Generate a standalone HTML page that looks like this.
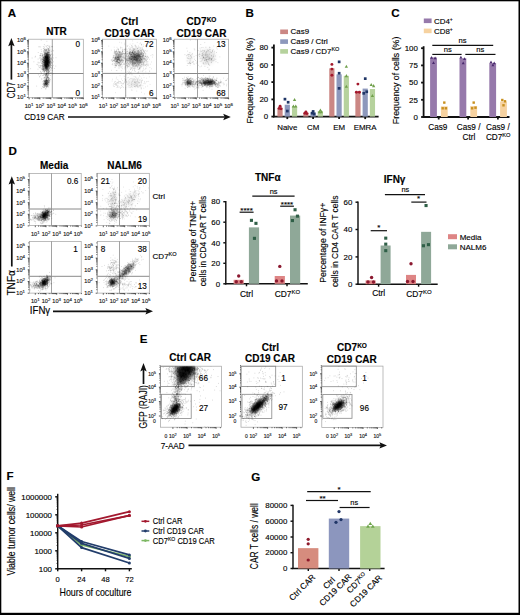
<!DOCTYPE html>
<html><head><meta charset="utf-8"><style>
html,body{margin:0;padding:0;background:#fff;width:520px;height:615px;overflow:hidden}
svg{display:block}
text{stroke:#222;stroke-width:0.15px;paint-order:stroke}
</style></head><body>
<svg width="520" height="615" viewBox="0 0 520 615" font-family='"Liberation Sans", sans-serif'>
<defs><filter id="b8" x="-50%" y="-50%" width="200%" height="200%"><feGaussianBlur stdDeviation="0.8"/></filter><filter id="b9" x="-50%" y="-50%" width="200%" height="200%"><feGaussianBlur stdDeviation="0.9"/></filter><filter id="b10" x="-50%" y="-50%" width="200%" height="200%"><feGaussianBlur stdDeviation="1.0"/></filter><filter id="b11" x="-50%" y="-50%" width="200%" height="200%"><feGaussianBlur stdDeviation="1.1"/></filter><filter id="b12" x="-50%" y="-50%" width="200%" height="200%"><feGaussianBlur stdDeviation="1.2"/></filter><filter id="b13" x="-50%" y="-50%" width="200%" height="200%"><feGaussianBlur stdDeviation="1.3"/></filter><filter id="b14" x="-50%" y="-50%" width="200%" height="200%"><feGaussianBlur stdDeviation="1.4"/></filter><filter id="b15" x="-50%" y="-50%" width="200%" height="200%"><feGaussianBlur stdDeviation="1.5"/></filter><filter id="b18" x="-50%" y="-50%" width="200%" height="200%"><feGaussianBlur stdDeviation="1.8"/></filter><filter id="b20" x="-50%" y="-50%" width="200%" height="200%"><feGaussianBlur stdDeviation="2.0"/></filter><filter id="b25" x="-50%" y="-50%" width="200%" height="200%"><feGaussianBlur stdDeviation="2.5"/></filter></defs>
<rect x="0.00" y="0.00" width="520.00" height="1.30" fill="#000" />
<rect x="0.00" y="0.00" width="1.30" height="615.00" fill="#000" />
<rect x="518.50" y="0.00" width="1.50" height="615.00" fill="#000" />
<rect x="0.00" y="612.80" width="520.00" height="2.20" fill="#000" />
<text x="7.8" y="17.1" font-size="11.6" font-weight="bold" fill="#000" >A</text>
<text x="245.6" y="17.1" font-size="11.6" font-weight="bold" fill="#000" >B</text>
<text x="391.3" y="17.1" font-size="11.6" font-weight="bold" fill="#000" >C</text>
<text x="8.5" y="154.8" font-size="11.6" font-weight="bold" fill="#000" >D</text>
<text x="139.8" y="343.1" font-size="11.6" font-weight="bold" fill="#000" >E</text>
<text x="6.4" y="479.7" font-size="11.6" font-weight="bold" fill="#000" >F</text>
<text x="251.3" y="480.9" font-size="11.6" font-weight="bold" fill="#000" >G</text>
<rect x="28.50" y="39.20" width="54.80" height="58.50" fill="none" stroke="#a0a0a0" stroke-width="0.7" />
<text x="29.1" y="107.6" font-size="5.7" text-anchor="middle" fill="#222" >10<tspan dy="-2.1" font-size="4.4">1</tspan></text>
<text x="39.9" y="107.6" font-size="5.7" text-anchor="middle" fill="#222" >10<tspan dy="-2.1" font-size="4.4">2</tspan></text>
<text x="50.8" y="107.6" font-size="5.7" text-anchor="middle" fill="#222" >10<tspan dy="-2.1" font-size="4.4">3</tspan></text>
<text x="61.6" y="107.6" font-size="5.7" text-anchor="middle" fill="#222" >10<tspan dy="-2.1" font-size="4.4">4</tspan></text>
<text x="72.5" y="107.6" font-size="5.7" text-anchor="middle" fill="#222" >10<tspan dy="-2.1" font-size="4.4">5</tspan></text>
<text x="83.3" y="107.6" font-size="5.7" text-anchor="middle" fill="#222" >10<tspan dy="-2.1" font-size="4.4">6</tspan></text>
<text x="25.9" y="42.3" font-size="5.7" text-anchor="end" fill="#222" >10<tspan dy="-2.1" font-size="4.4">6</tspan></text>
<text x="25.9" y="53.7" font-size="5.7" text-anchor="end" fill="#222" >10<tspan dy="-2.1" font-size="4.4">5</tspan></text>
<text x="25.9" y="65.1" font-size="5.7" text-anchor="end" fill="#222" >10<tspan dy="-2.1" font-size="4.4">4</tspan></text>
<text x="25.9" y="76.5" font-size="5.7" text-anchor="end" fill="#222" >10<tspan dy="-2.1" font-size="4.4">3</tspan></text>
<text x="25.9" y="87.9" font-size="5.7" text-anchor="end" fill="#222" >10<tspan dy="-2.1" font-size="4.4">2</tspan></text>
<text x="25.9" y="99.3" font-size="5.7" text-anchor="end" fill="#222" >10<tspan dy="-2.1" font-size="4.4">1</tspan></text>
<path d="M29.1 97.7v1.6M32.4 97.7v1.0M34.3 97.7v1.0M35.6 97.7v1.0M36.7 97.7v1.0M37.5 97.7v1.0M38.3 97.7v1.0M38.9 97.7v1.0M39.4 97.7v1.0M39.9 97.7v1.6M43.2 97.7v1.0M45.1 97.7v1.0M46.5 97.7v1.0M47.5 97.7v1.0M48.4 97.7v1.0M49.1 97.7v1.0M49.7 97.7v1.0M50.3 97.7v1.0M50.8 97.7v1.6M54.0 97.7v1.0M56.0 97.7v1.0M57.3 97.7v1.0M58.4 97.7v1.0M59.2 97.7v1.0M59.9 97.7v1.0M60.6 97.7v1.0M61.1 97.7v1.0M61.6 97.7v1.6M64.9 97.7v1.0M66.8 97.7v1.0M68.1 97.7v1.0M69.2 97.7v1.0M70.1 97.7v1.0M70.8 97.7v1.0M71.4 97.7v1.0M72.0 97.7v1.0M72.5 97.7v1.6M75.7 97.7v1.0M77.6 97.7v1.0M79.0 97.7v1.0M80.0 97.7v1.0M80.9 97.7v1.0M81.6 97.7v1.0M82.2 97.7v1.0M82.8 97.7v1.0M83.3 97.7v1.6" stroke="#333" stroke-width="0.8"/>
<path d="M28.5 40.4h-1.6M28.5 51.8h-1.6M28.5 48.4h-1.0M28.5 46.4h-1.0M28.5 44.9h-1.0M28.5 43.8h-1.0M28.5 42.9h-1.0M28.5 42.2h-1.0M28.5 41.5h-1.0M28.5 40.9h-1.0M28.5 63.2h-1.6M28.5 59.8h-1.0M28.5 57.8h-1.0M28.5 56.3h-1.0M28.5 55.2h-1.0M28.5 54.3h-1.0M28.5 53.6h-1.0M28.5 52.9h-1.0M28.5 52.3h-1.0M28.5 74.6h-1.6M28.5 71.2h-1.0M28.5 69.2h-1.0M28.5 67.7h-1.0M28.5 66.6h-1.0M28.5 65.7h-1.0M28.5 65.0h-1.0M28.5 64.3h-1.0M28.5 63.7h-1.0M28.5 86.0h-1.6M28.5 82.6h-1.0M28.5 80.6h-1.0M28.5 79.1h-1.0M28.5 78.0h-1.0M28.5 77.1h-1.0M28.5 76.4h-1.0M28.5 75.7h-1.0M28.5 75.1h-1.0M28.5 97.4h-1.6M28.5 94.0h-1.0M28.5 92.0h-1.0M28.5 90.5h-1.0M28.5 89.4h-1.0M28.5 88.5h-1.0M28.5 87.8h-1.0M28.5 87.1h-1.0M28.5 86.5h-1.0" stroke="#333" stroke-width="0.8"/>
<line x1="52.3" y1="39.2" x2="52.3" y2="97.7" stroke="#8a8a8a" stroke-width="0.8" />
<line x1="28.5" y1="73.5" x2="83.3" y2="73.5" stroke="#8a8a8a" stroke-width="1.0" />
<rect x="102.60" y="39.20" width="54.00" height="58.50" fill="none" stroke="#a0a0a0" stroke-width="0.7" />
<text x="103.2" y="107.6" font-size="5.7" text-anchor="middle" fill="#222" >10<tspan dy="-2.1" font-size="4.4">1</tspan></text>
<text x="113.9" y="107.6" font-size="5.7" text-anchor="middle" fill="#222" >10<tspan dy="-2.1" font-size="4.4">2</tspan></text>
<text x="124.6" y="107.6" font-size="5.7" text-anchor="middle" fill="#222" >10<tspan dy="-2.1" font-size="4.4">3</tspan></text>
<text x="135.2" y="107.6" font-size="5.7" text-anchor="middle" fill="#222" >10<tspan dy="-2.1" font-size="4.4">4</tspan></text>
<text x="145.9" y="107.6" font-size="5.7" text-anchor="middle" fill="#222" >10<tspan dy="-2.1" font-size="4.4">5</tspan></text>
<text x="156.6" y="107.6" font-size="5.7" text-anchor="middle" fill="#222" >10<tspan dy="-2.1" font-size="4.4">6</tspan></text>
<text x="100.0" y="42.3" font-size="5.7" text-anchor="end" fill="#222" >10<tspan dy="-2.1" font-size="4.4">6</tspan></text>
<text x="100.0" y="53.7" font-size="5.7" text-anchor="end" fill="#222" >10<tspan dy="-2.1" font-size="4.4">5</tspan></text>
<text x="100.0" y="65.1" font-size="5.7" text-anchor="end" fill="#222" >10<tspan dy="-2.1" font-size="4.4">4</tspan></text>
<text x="100.0" y="76.5" font-size="5.7" text-anchor="end" fill="#222" >10<tspan dy="-2.1" font-size="4.4">3</tspan></text>
<text x="100.0" y="87.9" font-size="5.7" text-anchor="end" fill="#222" >10<tspan dy="-2.1" font-size="4.4">2</tspan></text>
<text x="100.0" y="99.3" font-size="5.7" text-anchor="end" fill="#222" >10<tspan dy="-2.1" font-size="4.4">1</tspan></text>
<path d="M103.2 97.7v1.6M106.4 97.7v1.0M108.3 97.7v1.0M109.6 97.7v1.0M110.7 97.7v1.0M111.5 97.7v1.0M112.2 97.7v1.0M112.8 97.7v1.0M113.4 97.7v1.0M113.9 97.7v1.6M117.1 97.7v1.0M119.0 97.7v1.0M120.3 97.7v1.0M121.3 97.7v1.0M122.2 97.7v1.0M122.9 97.7v1.0M123.5 97.7v1.0M124.1 97.7v1.0M124.6 97.7v1.6M127.8 97.7v1.0M129.7 97.7v1.0M131.0 97.7v1.0M132.0 97.7v1.0M132.9 97.7v1.0M133.6 97.7v1.0M134.2 97.7v1.0M134.8 97.7v1.0M135.2 97.7v1.6M138.5 97.7v1.0M140.3 97.7v1.0M141.7 97.7v1.0M142.7 97.7v1.0M143.6 97.7v1.0M144.3 97.7v1.0M144.9 97.7v1.0M145.4 97.7v1.0M145.9 97.7v1.6M149.1 97.7v1.0M151.0 97.7v1.0M152.4 97.7v1.0M153.4 97.7v1.0M154.2 97.7v1.0M154.9 97.7v1.0M155.6 97.7v1.0M156.1 97.7v1.0M156.6 97.7v1.6" stroke="#333" stroke-width="0.8"/>
<path d="M102.6 40.4h-1.6M102.6 51.8h-1.6M102.6 48.4h-1.0M102.6 46.4h-1.0M102.6 44.9h-1.0M102.6 43.8h-1.0M102.6 42.9h-1.0M102.6 42.2h-1.0M102.6 41.5h-1.0M102.6 40.9h-1.0M102.6 63.2h-1.6M102.6 59.8h-1.0M102.6 57.8h-1.0M102.6 56.3h-1.0M102.6 55.2h-1.0M102.6 54.3h-1.0M102.6 53.6h-1.0M102.6 52.9h-1.0M102.6 52.3h-1.0M102.6 74.6h-1.6M102.6 71.2h-1.0M102.6 69.2h-1.0M102.6 67.7h-1.0M102.6 66.6h-1.0M102.6 65.7h-1.0M102.6 65.0h-1.0M102.6 64.3h-1.0M102.6 63.7h-1.0M102.6 86.0h-1.6M102.6 82.6h-1.0M102.6 80.6h-1.0M102.6 79.1h-1.0M102.6 78.0h-1.0M102.6 77.1h-1.0M102.6 76.4h-1.0M102.6 75.7h-1.0M102.6 75.1h-1.0M102.6 97.4h-1.6M102.6 94.0h-1.0M102.6 92.0h-1.0M102.6 90.5h-1.0M102.6 89.4h-1.0M102.6 88.5h-1.0M102.6 87.8h-1.0M102.6 87.1h-1.0M102.6 86.5h-1.0" stroke="#333" stroke-width="0.8"/>
<line x1="125.7" y1="39.2" x2="125.7" y2="97.7" stroke="#8a8a8a" stroke-width="0.8" />
<line x1="102.6" y1="73.4" x2="156.6" y2="73.4" stroke="#8a8a8a" stroke-width="1.0" />
<rect x="174.20" y="39.20" width="54.40" height="58.50" fill="none" stroke="#a0a0a0" stroke-width="0.7" />
<text x="174.8" y="107.6" font-size="5.7" text-anchor="middle" fill="#222" >10<tspan dy="-2.1" font-size="4.4">1</tspan></text>
<text x="185.6" y="107.6" font-size="5.7" text-anchor="middle" fill="#222" >10<tspan dy="-2.1" font-size="4.4">2</tspan></text>
<text x="196.3" y="107.6" font-size="5.7" text-anchor="middle" fill="#222" >10<tspan dy="-2.1" font-size="4.4">3</tspan></text>
<text x="207.1" y="107.6" font-size="5.7" text-anchor="middle" fill="#222" >10<tspan dy="-2.1" font-size="4.4">4</tspan></text>
<text x="217.8" y="107.6" font-size="5.7" text-anchor="middle" fill="#222" >10<tspan dy="-2.1" font-size="4.4">5</tspan></text>
<text x="228.6" y="107.6" font-size="5.7" text-anchor="middle" fill="#222" >10<tspan dy="-2.1" font-size="4.4">6</tspan></text>
<text x="171.6" y="42.3" font-size="5.7" text-anchor="end" fill="#222" >10<tspan dy="-2.1" font-size="4.4">6</tspan></text>
<text x="171.6" y="53.7" font-size="5.7" text-anchor="end" fill="#222" >10<tspan dy="-2.1" font-size="4.4">5</tspan></text>
<text x="171.6" y="65.1" font-size="5.7" text-anchor="end" fill="#222" >10<tspan dy="-2.1" font-size="4.4">4</tspan></text>
<text x="171.6" y="76.5" font-size="5.7" text-anchor="end" fill="#222" >10<tspan dy="-2.1" font-size="4.4">3</tspan></text>
<text x="171.6" y="87.9" font-size="5.7" text-anchor="end" fill="#222" >10<tspan dy="-2.1" font-size="4.4">2</tspan></text>
<text x="171.6" y="99.3" font-size="5.7" text-anchor="end" fill="#222" >10<tspan dy="-2.1" font-size="4.4">1</tspan></text>
<path d="M174.8 97.7v1.6M178.0 97.7v1.0M179.9 97.7v1.0M181.3 97.7v1.0M182.3 97.7v1.0M183.2 97.7v1.0M183.9 97.7v1.0M184.5 97.7v1.0M185.1 97.7v1.0M185.6 97.7v1.6M188.8 97.7v1.0M190.7 97.7v1.0M192.0 97.7v1.0M193.1 97.7v1.0M193.9 97.7v1.0M194.7 97.7v1.0M195.3 97.7v1.0M195.8 97.7v1.0M196.3 97.7v1.6M199.6 97.7v1.0M201.5 97.7v1.0M202.8 97.7v1.0M203.8 97.7v1.0M204.7 97.7v1.0M205.4 97.7v1.0M206.0 97.7v1.0M206.6 97.7v1.0M207.1 97.7v1.6M210.3 97.7v1.0M212.2 97.7v1.0M213.6 97.7v1.0M214.6 97.7v1.0M215.5 97.7v1.0M216.2 97.7v1.0M216.8 97.7v1.0M217.3 97.7v1.0M217.8 97.7v1.6M221.1 97.7v1.0M223.0 97.7v1.0M224.3 97.7v1.0M225.4 97.7v1.0M226.2 97.7v1.0M226.9 97.7v1.0M227.6 97.7v1.0M228.1 97.7v1.0M228.6 97.7v1.6" stroke="#333" stroke-width="0.8"/>
<path d="M174.2 40.4h-1.6M174.2 51.8h-1.6M174.2 48.4h-1.0M174.2 46.4h-1.0M174.2 44.9h-1.0M174.2 43.8h-1.0M174.2 42.9h-1.0M174.2 42.2h-1.0M174.2 41.5h-1.0M174.2 40.9h-1.0M174.2 63.2h-1.6M174.2 59.8h-1.0M174.2 57.8h-1.0M174.2 56.3h-1.0M174.2 55.2h-1.0M174.2 54.3h-1.0M174.2 53.6h-1.0M174.2 52.9h-1.0M174.2 52.3h-1.0M174.2 74.6h-1.6M174.2 71.2h-1.0M174.2 69.2h-1.0M174.2 67.7h-1.0M174.2 66.6h-1.0M174.2 65.7h-1.0M174.2 65.0h-1.0M174.2 64.3h-1.0M174.2 63.7h-1.0M174.2 86.0h-1.6M174.2 82.6h-1.0M174.2 80.6h-1.0M174.2 79.1h-1.0M174.2 78.0h-1.0M174.2 77.1h-1.0M174.2 76.4h-1.0M174.2 75.7h-1.0M174.2 75.1h-1.0M174.2 97.4h-1.6M174.2 94.0h-1.0M174.2 92.0h-1.0M174.2 90.5h-1.0M174.2 89.4h-1.0M174.2 88.5h-1.0M174.2 87.8h-1.0M174.2 87.1h-1.0M174.2 86.5h-1.0" stroke="#333" stroke-width="0.8"/>
<line x1="197.5" y1="39.2" x2="197.5" y2="97.7" stroke="#8a8a8a" stroke-width="0.8" />
<line x1="174.2" y1="73.5" x2="228.6" y2="73.5" stroke="#8a8a8a" stroke-width="1.0" />
<text x="77.7" y="46.7" font-size="8.2" text-anchor="middle" >0</text>
<text x="77.7" y="95.6" font-size="8.2" text-anchor="middle" >0</text>
<text x="153.6" y="46.7" font-size="8.2" text-anchor="end" >72</text>
<text x="153.6" y="95.6" font-size="8.2" text-anchor="end" >6</text>
<text x="225.6" y="46.7" font-size="8.2" text-anchor="end" >13</text>
<text x="225.6" y="95.6" font-size="8.2" text-anchor="end" >68</text>
<text x="56.5" y="34.6" font-size="10" font-weight="bold" text-anchor="middle" >NTR</text>
<text x="129.6" y="24.6" font-size="10" font-weight="bold" text-anchor="middle" >Ctrl</text>
<text x="129.6" y="37.0" font-size="10" font-weight="bold" text-anchor="middle" >CD19 CAR</text>
<text x="201.5" y="25.4" font-size="10" font-weight="bold" text-anchor="middle" >CD7<tspan dy="-3.6" font-size="6.5">KO</tspan></text>
<text x="201.5" y="37.0" font-size="10" font-weight="bold" text-anchor="middle" >CD19 CAR</text>
<text x="24.2" y="120.0" font-size="9.3" textLength="40.4" lengthAdjust="spacingAndGlyphs" >CD19 CAR</text>
<line x1="68.0" y1="117.0" x2="224.8" y2="117.0" stroke="#111" stroke-width="1.7" />
<path d="M230.8 117.0L223.2 113.8L224.6 117.0L223.2 120.2z" fill="#111"/>
<text x="14.8" y="98.3" font-size="10.3" textLength="16.2" lengthAdjust="spacingAndGlyphs" transform="rotate(-90 14.8 98.3)" >CD7</text>
<line x1="11.4" y1="79.6" x2="11.4" y2="43.9" stroke="#111" stroke-width="1.7" />
<path d="M11.4 37.9L14.6 46.3L11.4 44.7L8.2 46.3z" fill="#111"/>
<ellipse cx="46.7" cy="61.3" rx="2.2" ry="8.6" transform="rotate(3 46.7 61.3)" fill="#000" fill-opacity="0.95" filter="url(#b13)"/>
<ellipse cx="46.2" cy="82.8" rx="1.5" ry="3.2" transform="rotate(15 46.2 82.8)" fill="#000" fill-opacity="0.6" filter="url(#b10)"/>
<path d="M47.6 68.4h0M45.3 56.4h0M45.8 56.6h0M43.4 60.4h0M46.2 66.4h0M47.6 60.8h0M46.0 70.2h0M41.8 59.4h0M36.9 64.4h0M49.1 65.7h0M46.0 65.2h0M44.1 56.8h0M43.8 87.5h0M47.3 62.4h0M40.3 67.9h0M43.9 58.0h0M46.3 82.4h0M43.5 63.7h0M48.9 50.1h0M49.1 50.9h0M42.1 67.3h0M49.4 68.0h0M44.1 83.4h0M45.3 75.0h0M46.5 66.5h0M46.8 59.8h0M45.6 57.9h0M48.4 72.0h0M38.1 59.1h0M46.8 80.6h0M46.8 55.0h0M47.1 60.5h0M46.5 64.2h0M48.8 71.3h0M45.5 61.9h0M48.9 58.1h0M48.1 72.2h0M47.2 63.1h0M47.5 72.3h0M51.0 67.6h0M45.5 64.9h0M51.0 58.3h0M44.9 64.2h0M48.7 52.7h0M42.8 84.3h0M43.1 59.5h0M44.7 71.2h0M42.4 59.2h0M45.8 63.5h0M44.1 87.6h0M47.4 53.8h0M46.4 73.9h0M48.1 66.8h0M46.3 83.3h0M50.6 61.8h0M45.0 64.9h0M44.7 81.6h0M46.9 58.6h0M49.1 71.9h0M44.8 66.1h0M47.9 72.3h0M42.6 57.4h0M46.5 64.8h0M43.8 80.6h0M44.4 84.3h0M44.7 60.0h0M49.4 62.1h0M46.6 64.6h0M47.5 64.4h0M36.7 86.1h0M48.8 58.0h0M45.8 56.6h0M47.8 65.5h0M43.5 59.9h0M42.4 69.4h0M45.9 73.8h0M45.0 77.1h0M43.1 59.1h0M45.7 66.3h0M41.2 40.2h0M49.7 64.8h0M44.6 81.7h0M46.9 83.8h0M43.5 84.4h0M49.9 45.9h0M47.0 59.0h0M48.0 57.6h0M46.4 86.3h0M46.7 62.9h0M49.5 53.0h0M42.9 64.1h0M49.6 68.2h0M45.8 83.1h0M45.6 84.2h0M48.5 66.1h0M42.1 63.3h0M47.7 66.6h0M45.0 52.6h0M46.1 55.6h0M50.2 69.8h0M49.6 61.0h0M47.9 64.2h0M51.5 46.7h0M45.5 53.4h0M44.2 63.4h0M47.9 66.9h0M46.7 62.7h0M49.2 63.4h0M43.9 62.6h0M53.6 61.8h0M47.0 85.6h0M46.6 62.3h0M45.2 63.2h0M44.8 54.4h0M47.2 52.8h0M47.4 83.4h0M35.6 56.3h0M53.0 73.8h0M44.7 60.5h0M48.9 61.5h0M48.9 74.7h0M47.6 68.3h0M45.5 81.2h0M42.2 65.6h0M47.4 62.9h0M50.6 64.5h0M46.4 66.6h0M49.2 60.6h0M47.8 60.5h0M47.5 58.1h0M49.2 64.4h0M38.2 52.5h0M49.6 60.2h0M46.0 66.4h0M46.6 64.3h0M48.8 57.0h0M48.4 59.8h0M44.6 50.3h0M47.2 77.5h0M45.9 81.8h0M49.1 59.7h0M45.4 63.9h0M46.4 55.2h0M45.5 64.2h0M45.3 68.2h0M43.6 68.4h0M48.7 70.0h0M48.3 53.5h0M46.3 66.8h0M46.6 74.4h0M47.6 77.1h0M44.6 49.0h0M44.9 58.9h0M50.5 58.4h0M45.5 57.3h0M38.0 69.2h0M45.1 63.8h0M47.5 63.3h0M44.4 53.1h0M44.9 80.4h0M46.3 68.8h0M47.9 60.4h0M47.6 57.3h0M47.1 65.9h0M46.6 63.4h0M47.9 62.1h0M48.9 60.4h0M44.0 61.1h0M45.8 65.5h0M47.7 66.3h0M47.3 75.5h0M44.9 65.5h0M45.6 64.1h0M42.6 67.8h0M52.0 62.6h0M45.7 61.7h0M46.1 54.9h0M49.3 63.0h0M38.3 74.8h0M48.1 48.7h0M48.7 49.9h0M48.1 52.7h0M42.6 63.2h0M47.3 76.6h0M47.1 66.1h0M45.1 61.3h0M44.0 80.8h0M45.9 77.8h0M51.4 59.3h0M51.0 63.4h0M46.2 61.0h0M46.1 84.0h0M47.2 65.1h0M48.8 59.9h0M45.9 64.6h0M45.1 60.5h0M46.5 78.7h0M51.5 58.3h0M52.0 53.9h0M45.4 68.6h0M46.7 86.3h0M43.3 67.2h0M47.0 69.7h0M50.3 64.0h0M43.3 83.6h0M50.4 61.6h0M45.9 61.3h0M49.2 61.6h0M48.7 80.8h0M46.8 59.5h0M47.2 81.4h0M50.2 55.7h0M43.9 66.8h0M49.9 59.9h0M45.7 62.1h0M44.0 77.8h0M44.5 74.9h0M43.7 56.8h0M46.9 81.2h0M48.4 79.8h0M42.4 65.8h0M46.3 80.6h0M50.0 65.1h0M45.8 85.2h0M45.0 56.7h0M42.8 61.6h0M48.3 69.0h0M45.9 51.6h0M47.4 58.1h0" stroke="#000" stroke-opacity="0.22" stroke-width="0.8" stroke-linecap="round" fill="none"/>
<path d="M49.7 52.5h0M46.6 53.1h0M48.1 54.3h0M44.9 62.6h0M45.8 82.2h0M47.1 73.4h0M49.0 63.4h0M43.3 70.5h0M45.9 64.9h0M46.8 76.1h0M45.0 54.9h0M46.4 68.9h0M46.6 79.9h0M47.3 81.7h0M47.4 86.0h0M48.2 60.5h0M48.9 75.4h0M45.6 80.2h0M33.9 61.8h0M47.3 63.6h0M43.7 62.8h0M47.0 83.7h0M47.3 48.9h0M48.8 65.9h0M44.7 59.1h0M45.1 46.0h0M46.8 54.0h0M47.4 58.0h0M45.4 62.9h0M43.6 82.2h0M48.3 82.0h0M47.5 58.7h0M47.9 65.4h0M43.0 65.0h0M51.7 59.9h0M52.7 66.8h0M47.7 63.8h0M42.7 81.7h0M48.1 55.1h0M45.6 61.9h0M46.0 73.9h0M43.5 68.3h0M44.6 86.2h0M45.6 67.4h0M46.7 56.6h0M45.4 66.5h0M50.7 67.5h0M49.9 47.7h0M43.4 57.2h0M48.5 61.1h0M47.1 65.9h0M48.6 74.0h0M49.4 80.9h0M46.2 54.8h0M49.4 58.8h0M48.9 62.9h0M49.1 62.1h0M42.2 56.7h0M44.0 84.1h0M48.9 58.3h0M46.5 49.5h0M48.0 55.8h0M43.6 57.2h0M44.2 60.7h0M39.2 67.4h0M47.0 60.6h0M47.7 64.5h0M47.9 82.8h0M43.3 64.7h0M48.2 61.4h0M46.8 81.7h0M45.3 57.1h0M53.4 50.8h0M48.6 70.7h0M45.5 54.1h0M45.6 75.2h0M41.8 56.0h0M48.3 64.8h0M48.1 64.8h0M46.8 51.3h0M41.8 59.3h0M45.3 65.4h0M47.6 57.3h0M45.2 53.1h0M45.1 63.4h0M42.4 86.5h0M46.4 62.2h0M48.0 81.7h0M46.9 64.6h0M48.6 82.6h0M45.4 80.9h0M43.1 61.9h0M49.4 62.0h0M44.6 55.2h0M42.9 68.5h0M43.1 67.8h0M46.5 69.0h0M47.6 66.8h0M48.1 73.9h0M47.7 61.2h0M45.5 83.7h0M41.8 58.8h0M44.9 81.8h0M45.6 61.7h0M47.5 59.8h0M48.9 54.9h0M48.3 58.6h0M47.7 76.9h0M48.4 62.9h0M45.6 65.0h0M49.1 62.3h0M51.5 51.3h0M44.1 84.7h0M50.1 49.7h0M47.7 80.6h0M47.6 63.5h0M47.8 57.0h0M46.9 62.8h0M45.8 55.7h0M46.6 79.3h0M43.6 60.5h0M48.3 50.6h0M45.3 62.6h0M48.0 63.2h0M45.6 75.1h0M45.0 65.9h0M47.8 82.9h0M48.8 61.9h0M42.1 56.0h0M43.0 66.7h0M46.7 84.6h0M46.1 57.0h0M45.4 57.0h0M49.6 57.3h0M50.2 57.8h0M50.2 58.1h0M43.6 69.2h0M48.5 64.8h0M48.5 65.7h0M44.3 70.2h0M46.2 67.3h0M46.7 64.0h0M43.3 68.3h0M48.4 84.5h0M48.2 64.7h0M50.2 61.6h0M43.2 65.9h0M48.8 61.5h0M44.2 62.6h0M47.2 60.5h0M44.0 87.3h0M47.3 74.9h0M49.0 85.2h0M48.1 64.9h0M40.3 71.4h0M43.7 58.2h0M40.3 55.4h0M46.5 67.9h0M45.6 80.4h0M46.7 87.0h0M42.8 70.4h0M48.2 60.5h0M49.5 57.2h0M44.2 51.3h0M46.5 63.1h0M42.1 60.1h0M47.4 61.8h0M46.2 69.1h0M44.9 53.3h0M40.2 57.4h0M50.5 75.6h0M43.4 61.2h0M44.9 64.0h0M48.1 63.3h0M49.5 57.7h0M50.6 63.0h0M44.1 58.7h0M48.1 65.8h0M49.6 73.8h0M48.4 71.2h0M46.3 75.7h0M46.6 84.2h0M46.7 68.2h0M43.6 60.8h0M42.1 58.0h0M46.6 84.5h0M45.0 65.4h0M48.3 55.8h0M50.0 57.4h0M49.3 58.9h0M48.7 73.3h0M50.1 62.8h0M48.3 62.0h0M43.2 59.3h0M43.9 63.1h0M40.5 75.3h0M46.3 80.1h0M43.4 66.5h0M46.5 60.3h0M52.1 65.2h0M43.3 69.1h0M48.6 75.4h0M50.8 51.9h0M47.1 62.8h0M46.5 65.6h0M46.5 59.6h0M46.2 65.5h0M45.8 65.8h0M45.9 56.6h0M49.5 56.9h0M45.4 83.2h0M45.7 65.8h0M47.7 60.3h0M47.2 53.0h0M43.9 68.8h0M39.7 62.8h0M48.3 55.2h0M50.6 60.5h0M45.2 63.6h0M39.9 67.6h0M46.1 61.2h0M48.6 65.3h0M44.0 64.9h0M45.4 62.5h0M38.8 66.1h0M46.9 41.3h0M46.1 67.1h0M45.3 60.3h0M46.9 84.3h0" stroke="#000" stroke-opacity="0.22" stroke-width="0.8" stroke-linecap="round" fill="none"/>
<path d="M48.2 72.6h0M48.6 63.5h0M45.9 55.4h0M45.1 61.0h0M51.5 65.5h0M46.1 59.8h0M47.7 64.4h0M45.2 61.1h0M46.7 57.8h0M45.6 80.9h0M48.6 60.5h0M51.8 68.9h0M49.9 60.4h0M49.2 50.3h0M46.0 81.1h0M46.5 65.9h0M46.7 57.4h0M46.5 61.6h0M46.1 57.8h0M46.7 72.0h0M48.0 61.4h0M44.5 82.0h0M46.8 60.3h0M46.9 65.7h0M48.6 83.9h0M47.9 62.9h0M49.5 52.8h0M47.2 50.1h0M46.3 83.3h0M43.8 81.0h0M46.9 86.4h0M43.0 69.4h0M48.6 48.4h0M46.7 80.4h0M49.7 66.3h0M43.5 85.7h0M47.3 69.1h0M47.0 67.3h0M46.1 74.6h0M49.8 66.4h0M43.9 83.6h0M47.2 84.0h0M46.2 59.5h0M44.2 64.1h0M47.4 59.4h0M46.8 50.7h0M48.0 45.4h0M49.2 68.9h0M50.3 64.0h0M48.9 68.7h0M45.3 61.2h0M50.4 61.7h0M45.3 84.9h0M46.9 71.6h0M46.9 65.7h0M55.8 66.1h0M44.2 63.0h0M49.8 48.4h0M46.2 65.2h0M48.6 54.5h0M50.8 56.6h0M46.3 77.7h0M43.1 66.5h0M46.8 80.4h0M45.8 57.8h0M44.6 57.5h0M43.5 71.2h0M44.9 52.7h0M49.7 65.6h0M49.5 70.8h0M46.4 66.1h0M42.9 61.1h0M46.4 62.3h0M46.3 53.3h0M48.0 56.2h0M47.6 57.5h0M52.2 57.7h0M51.6 72.7h0M48.8 78.9h0M44.7 58.1h0M44.0 78.2h0M46.6 84.8h0M46.3 57.8h0M43.9 86.4h0M45.8 62.7h0M46.1 61.1h0M47.6 76.2h0M49.2 64.0h0M51.6 54.4h0M48.1 81.9h0M45.6 83.9h0M41.8 78.7h0M44.8 61.0h0M41.4 65.9h0M47.7 54.5h0M47.2 55.0h0M48.5 67.4h0M45.3 62.2h0M46.4 64.3h0M38.2 63.0h0M43.4 62.5h0M41.0 60.6h0M44.8 67.1h0M46.3 58.1h0M47.4 55.7h0M48.5 65.5h0M46.8 59.7h0M49.3 59.9h0M40.8 53.7h0M44.8 56.3h0M45.2 73.5h0M46.2 68.1h0M45.9 82.9h0M48.8 52.4h0M46.6 74.3h0M49.2 64.5h0M43.5 57.4h0M48.3 74.0h0M40.7 66.3h0M40.5 59.5h0M47.3 84.4h0M48.2 58.6h0M37.8 64.8h0M51.4 62.0h0M45.9 56.7h0M43.3 46.5h0M46.7 80.5h0M40.5 55.7h0M46.0 65.3h0M45.7 66.7h0M49.3 62.5h0M44.9 87.0h0M47.4 70.5h0M47.6 83.4h0M47.3 67.5h0M48.3 49.3h0M49.9 50.6h0M46.6 65.7h0M46.9 65.9h0M45.6 56.9h0M48.8 58.8h0M47.3 73.5h0M43.9 71.0h0M47.4 57.0h0M46.4 64.3h0M46.3 63.8h0M42.8 54.6h0M48.4 79.8h0M52.2 73.3h0M46.0 53.6h0M45.9 63.9h0M46.4 76.2h0M50.0 63.8h0M44.1 54.8h0M39.1 65.7h0M47.9 59.6h0M44.8 62.7h0M47.9 60.2h0M47.9 60.5h0M51.9 59.7h0M49.0 57.4h0M48.7 66.0h0M46.6 74.4h0M47.8 75.3h0M48.4 62.2h0M42.1 68.6h0M48.0 59.0h0M42.5 66.0h0M48.6 64.5h0M48.4 60.0h0M44.0 59.7h0M46.7 82.7h0M45.7 60.3h0M46.8 55.1h0M46.3 80.2h0M46.3 59.4h0M50.2 56.0h0M49.0 56.6h0M45.9 80.0h0M47.3 64.1h0M46.4 65.5h0M48.9 84.0h0M41.4 62.9h0M49.4 65.3h0M50.2 55.8h0M49.1 81.3h0M48.7 49.4h0M47.1 63.8h0M45.5 60.7h0M46.1 78.8h0M40.7 65.9h0M44.5 71.4h0M42.3 71.4h0M47.6 63.9h0M41.8 60.9h0M48.9 62.6h0M47.8 54.3h0M47.9 57.3h0M47.7 64.5h0M44.6 53.6h0M46.5 66.0h0M47.9 54.0h0M46.2 59.5h0M46.9 63.7h0M44.0 72.5h0M47.2 76.2h0M42.5 62.3h0M46.4 78.0h0M47.9 82.4h0M47.9 52.4h0M46.7 82.7h0M44.7 81.8h0M50.0 63.3h0M44.6 85.8h0M42.6 61.5h0M44.7 62.7h0M48.6 78.9h0M47.7 60.4h0M48.3 59.2h0M45.1 56.3h0M45.6 66.2h0M48.1 68.6h0M49.8 62.1h0M50.9 62.0h0M45.8 64.0h0M44.5 83.5h0M41.3 72.5h0M47.8 60.0h0" stroke="#000" stroke-opacity="0.22" stroke-width="0.8" stroke-linecap="round" fill="none"/>
<path d="M49.8 54.4h0M47.6 51.3h0M46.1 76.3h0M48.0 60.5h0M48.5 65.1h0M48.3 52.4h0M50.6 79.7h0M48.0 62.2h0M46.5 84.8h0M43.2 59.2h0M46.4 82.6h0M46.3 71.3h0M45.2 57.3h0M47.7 57.1h0M45.9 50.4h0M47.7 64.2h0M46.3 83.2h0M46.9 60.9h0M48.9 46.4h0M46.5 79.3h0M42.4 61.3h0M45.2 70.3h0M48.5 56.7h0M49.9 67.7h0M45.0 64.5h0M48.4 62.6h0M48.0 56.7h0M50.0 69.1h0M52.3 73.7h0M48.0 54.9h0M46.7 62.9h0M43.5 48.8h0M48.6 62.0h0M45.7 53.1h0M43.7 69.6h0M47.9 58.3h0M46.0 61.1h0M49.8 63.6h0M45.1 68.8h0M45.8 88.5h0M46.8 56.9h0M45.2 65.7h0M44.7 54.7h0M41.8 79.3h0M48.1 70.0h0M47.0 54.8h0M46.6 67.7h0M46.6 71.3h0M48.0 62.8h0M42.5 61.4h0M46.7 64.5h0M49.1 83.0h0M47.2 74.0h0M49.7 68.0h0M51.6 58.1h0M46.0 52.3h0M44.3 60.5h0M41.2 61.8h0M46.1 83.4h0M48.9 66.4h0M46.8 67.3h0M46.0 60.6h0M46.9 56.1h0M45.6 65.2h0M49.9 64.6h0M45.5 62.2h0M45.2 58.1h0M48.2 66.0h0M45.4 66.8h0M50.1 54.4h0M47.8 57.1h0M47.4 69.8h0M45.9 59.1h0M46.9 64.8h0M42.6 62.8h0M48.2 53.7h0M50.1 59.3h0M48.6 59.2h0M49.7 79.5h0M46.1 83.6h0M48.0 59.8h0M46.8 56.2h0M48.2 59.6h0M41.6 73.6h0M50.9 65.2h0M46.8 59.6h0M45.2 57.1h0M49.3 65.8h0M47.5 64.9h0M47.4 78.2h0M43.4 58.8h0M45.8 74.7h0M48.9 78.8h0M47.1 74.0h0M47.0 62.4h0M40.3 53.9h0M50.3 55.6h0M49.9 81.0h0M46.9 59.6h0M40.7 72.0h0M49.6 62.9h0M48.9 51.7h0M48.0 62.6h0M43.8 69.5h0M49.9 77.9h0M44.1 64.6h0M44.4 71.7h0M44.2 64.8h0M42.7 64.6h0M47.6 64.4h0M44.7 70.8h0M50.0 67.1h0M50.8 70.4h0M44.7 54.9h0M40.6 55.8h0M48.3 52.2h0M50.1 55.5h0M48.6 51.2h0M46.8 67.1h0M41.7 88.6h0M47.3 58.4h0M45.5 70.3h0M47.6 62.4h0M46.3 58.7h0M40.8 60.4h0M42.5 55.4h0M48.9 57.4h0M47.4 82.1h0M46.5 60.5h0M44.9 59.1h0M47.0 68.8h0M47.3 71.9h0M50.2 62.2h0M46.4 80.8h0M47.8 71.8h0M46.4 72.1h0M45.0 61.1h0M46.2 65.3h0M47.6 83.8h0M45.8 89.2h0M45.7 67.0h0M43.4 69.8h0M47.0 82.7h0M47.3 62.4h0M45.6 57.7h0M47.8 86.1h0M43.3 59.0h0M49.7 59.3h0M44.3 54.6h0M46.0 57.6h0M46.9 55.3h0M49.2 61.6h0M47.6 63.3h0M44.5 61.2h0M45.9 71.3h0M47.6 80.5h0M47.4 53.3h0M45.0 50.5h0M42.5 63.2h0M50.0 59.9h0M46.7 57.4h0M46.2 62.8h0M49.5 82.6h0M44.9 62.2h0M45.1 61.5h0M47.9 80.7h0M45.6 67.5h0M44.5 63.2h0M44.8 82.1h0M42.8 58.3h0M48.2 63.2h0M42.6 58.2h0M45.1 83.8h0M49.0 66.1h0M44.7 55.7h0M48.2 55.1h0M45.9 59.1h0M43.0 55.3h0M45.4 66.8h0M46.7 58.3h0M46.9 61.8h0M47.2 57.0h0M45.5 56.3h0M48.0 85.2h0M46.4 84.2h0M32.1 58.0h0M43.3 62.3h0M48.4 61.5h0M45.5 81.6h0M50.6 73.2h0M47.7 62.4h0M45.2 68.3h0M47.4 52.0h0M41.9 69.2h0M42.8 65.1h0M38.8 46.8h0M47.0 85.5h0M48.9 69.9h0M48.8 73.0h0M48.5 77.2h0M46.1 53.9h0M42.8 53.6h0M46.2 65.5h0M45.1 51.6h0M44.1 83.4h0M41.8 65.7h0M45.6 82.7h0M44.3 84.1h0M44.7 64.6h0M46.2 81.0h0M45.4 63.7h0M47.2 53.0h0M45.4 56.3h0M48.1 58.5h0M45.6 83.6h0M53.1 55.0h0M52.3 60.3h0M43.7 60.4h0M47.4 61.1h0M44.9 52.7h0M49.3 55.1h0M45.2 62.2h0M45.7 76.8h0M45.3 61.3h0M44.1 71.2h0M52.2 68.2h0M47.6 86.6h0M47.4 54.5h0" stroke="#000" stroke-opacity="0.22" stroke-width="0.8" stroke-linecap="round" fill="none"/>
<path d="M48.8 78.9h0M40.7 62.0h0M45.4 65.0h0M46.0 84.5h0M44.5 77.5h0M46.0 58.1h0M47.4 58.9h0M48.5 74.0h0M43.7 66.4h0M48.5 63.6h0M48.1 63.4h0M46.9 62.0h0M45.1 64.9h0M46.2 62.3h0M45.2 49.0h0M45.1 57.1h0M43.5 65.4h0M47.9 57.7h0M46.3 57.6h0M43.9 59.8h0M44.5 58.6h0M42.1 69.5h0M46.5 54.6h0M47.2 60.9h0M44.3 79.2h0M44.7 84.6h0M45.9 69.2h0M47.9 55.4h0M45.5 65.7h0M48.0 58.3h0M44.5 65.2h0M42.9 87.2h0M48.8 50.4h0M43.9 51.7h0M47.4 56.5h0M39.5 55.7h0M39.8 77.0h0M47.6 82.3h0M56.0 57.7h0M49.2 56.8h0M49.1 54.4h0M45.1 59.1h0M44.8 82.9h0M47.0 54.7h0M44.1 61.5h0M50.5 66.2h0M51.2 62.3h0M52.3 46.8h0M49.9 59.8h0M45.3 61.0h0M46.9 54.9h0M46.2 58.5h0M47.1 67.9h0M47.4 67.6h0M46.1 53.9h0M44.6 66.2h0M49.6 71.7h0M47.1 56.5h0M48.0 55.8h0M52.3 67.0h0M46.7 73.3h0M44.6 64.9h0M46.9 82.8h0M52.6 56.1h0M47.4 84.9h0M46.5 63.7h0M45.5 76.0h0M45.2 80.8h0M45.4 83.7h0M49.7 54.1h0M47.6 67.2h0M42.4 69.4h0M49.8 71.2h0M44.5 84.7h0M47.1 69.9h0M45.9 57.8h0M48.2 63.1h0M45.8 57.3h0M47.8 61.0h0M45.3 83.8h0M46.2 61.4h0M48.8 66.7h0M44.4 62.5h0M52.2 50.1h0M47.5 58.3h0M45.1 58.8h0M45.2 66.4h0M45.4 82.1h0M44.0 61.0h0M44.9 49.5h0M44.5 53.4h0M47.5 63.7h0M44.5 61.4h0M39.3 46.8h0M46.4 60.9h0M39.7 76.4h0M47.0 65.0h0M46.5 60.8h0M49.0 49.6h0M35.1 57.1h0M47.4 58.3h0M46.4 81.8h0M45.0 85.0h0M46.1 81.8h0M47.8 58.3h0M46.6 65.8h0M44.5 67.8h0M46.6 87.6h0M46.9 71.0h0M48.4 64.5h0M49.9 59.3h0M46.8 65.4h0M46.7 60.2h0M46.5 46.6h0M46.3 65.6h0M47.2 64.3h0M47.3 80.2h0M48.8 56.4h0M47.9 70.6h0M47.1 61.6h0M42.1 67.1h0M47.5 62.7h0M44.1 85.6h0M44.1 69.7h0M45.9 57.2h0M41.7 51.3h0M50.9 62.0h0M46.6 57.3h0M46.3 74.0h0M44.1 62.3h0M46.1 73.8h0M48.1 77.3h0M47.4 83.6h0M46.6 73.6h0M45.7 82.7h0M46.6 67.9h0M43.9 62.6h0M47.7 80.8h0M46.0 68.7h0M46.2 60.9h0M45.3 64.1h0M42.3 59.7h0M48.3 70.0h0M48.0 76.8h0M41.2 49.4h0M48.2 77.5h0M47.1 77.9h0M48.4 55.3h0M49.5 60.2h0M49.8 46.8h0M46.6 67.9h0M45.8 83.8h0M47.8 77.4h0M47.2 66.5h0M46.7 53.4h0M41.7 53.5h0M45.0 62.6h0M47.8 60.8h0M46.0 64.2h0M45.2 77.3h0M48.4 64.9h0M42.8 66.1h0M46.2 86.7h0M42.8 66.1h0M47.6 65.1h0M50.7 54.3h0M44.7 60.7h0M51.2 68.2h0M47.6 56.9h0M50.3 60.0h0M48.2 52.3h0M48.9 82.3h0M46.7 79.8h0M45.8 57.2h0M46.8 70.7h0M47.5 53.8h0M50.5 66.2h0M44.2 80.8h0M47.7 62.1h0M49.5 73.2h0M45.8 64.9h0M46.1 84.2h0M45.6 59.2h0M48.6 61.8h0M43.0 54.9h0M47.5 62.4h0M49.4 56.3h0M46.1 70.4h0M46.6 67.3h0M44.8 77.2h0M43.7 64.7h0M45.1 64.9h0M46.0 66.6h0M46.9 78.5h0M43.5 51.0h0M45.2 63.8h0M45.2 65.0h0M47.3 57.3h0M47.4 62.2h0M40.4 65.4h0M46.4 49.6h0M45.9 70.2h0M49.9 54.1h0M43.3 48.3h0M42.9 54.8h0M46.9 64.2h0M46.0 55.7h0M46.6 78.1h0M46.2 62.9h0M48.9 81.1h0M45.7 61.8h0M48.7 59.0h0M47.0 74.8h0M45.4 58.8h0M45.4 68.4h0M42.5 55.9h0M48.0 62.5h0M47.7 63.8h0M49.6 61.4h0M45.4 83.0h0M44.7 72.7h0M43.8 52.4h0M43.9 60.0h0M45.4 60.8h0M50.4 65.3h0M47.7 77.4h0M48.0 87.1h0M45.5 85.9h0" stroke="#000" stroke-opacity="0.22" stroke-width="0.8" stroke-linecap="round" fill="none"/>
<path d="M46.8 50.8h0M46.7 61.2h0M42.9 75.5h0M44.4 63.2h0M46.9 77.6h0M44.7 56.9h0M44.9 74.5h0M45.5 85.1h0M48.3 67.5h0M46.3 61.1h0M44.0 57.1h0M46.4 59.5h0M49.8 51.1h0M46.8 68.9h0M51.9 63.6h0M47.7 49.1h0M48.2 65.7h0M44.6 59.1h0M47.3 62.8h0M44.0 58.2h0M46.4 63.1h0M46.5 63.8h0M47.0 73.5h0M46.9 79.9h0M45.0 65.9h0M46.0 61.5h0M45.6 57.1h0M47.6 69.1h0M45.2 81.5h0M30.7 68.7h0M46.4 73.0h0M45.4 54.0h0M41.8 68.6h0M43.6 65.0h0M47.3 60.7h0M49.3 54.6h0M49.2 51.3h0M46.5 56.9h0M43.9 58.6h0M46.1 63.4h0M40.9 58.2h0M44.6 60.5h0M44.7 62.1h0M44.6 61.0h0M45.9 50.0h0M50.1 65.1h0M49.4 47.2h0M49.0 63.9h0M47.5 64.4h0M44.8 64.9h0M48.3 72.3h0M44.8 68.1h0M49.3 58.8h0M47.6 74.0h0M46.5 53.3h0M48.3 57.8h0M44.4 68.6h0M49.4 61.9h0M45.8 79.4h0M47.4 58.8h0M46.9 63.6h0M48.6 72.1h0M43.8 57.3h0M48.8 78.4h0M44.4 56.6h0M47.0 69.2h0M46.1 59.3h0M45.5 75.3h0M48.9 56.1h0M43.5 67.3h0M44.3 65.7h0M48.7 48.5h0M45.3 58.0h0M50.3 72.4h0M47.0 76.3h0M47.2 60.4h0M45.1 59.4h0M45.8 53.1h0M46.6 62.9h0M43.4 74.8h0M40.9 58.2h0M47.1 62.3h0M49.3 78.6h0M45.4 83.9h0M47.4 52.0h0M48.4 60.6h0M44.3 47.3h0M42.4 64.0h0M48.0 61.0h0M45.7 57.7h0M46.3 62.4h0M48.8 62.1h0M46.6 54.0h0M48.8 54.3h0M46.6 49.1h0M46.0 50.6h0M49.6 55.5h0M49.0 80.5h0M47.8 66.0h0M47.3 61.6h0M48.8 60.4h0M44.6 59.1h0M40.7 46.9h0M50.1 67.2h0M48.6 77.6h0M53.4 65.3h0M42.8 68.9h0M44.4 80.5h0M52.1 46.4h0M39.3 58.1h0M45.2 78.7h0M47.2 68.9h0M48.9 52.3h0M50.9 60.8h0M44.7 58.0h0M45.9 51.3h0M49.4 80.6h0M50.9 62.9h0M47.2 78.9h0M47.2 81.1h0M46.0 69.5h0M44.0 63.3h0M49.4 58.0h0M43.9 70.1h0M44.1 74.6h0M46.8 57.4h0M44.0 50.6h0M46.7 62.8h0M47.7 52.4h0M49.0 61.6h0M44.0 59.9h0M54.3 68.5h0M44.4 64.1h0M46.6 61.6h0M44.4 65.5h0M48.6 79.9h0M47.9 52.4h0M44.3 44.5h0M47.3 56.4h0M46.8 50.7h0M45.2 59.5h0M49.1 72.0h0M44.9 58.5h0M43.1 75.6h0M46.2 59.3h0M47.0 57.4h0M46.9 57.9h0M48.1 61.5h0M45.0 49.3h0M43.9 70.3h0M47.1 45.5h0M46.3 57.9h0M47.7 62.5h0M45.9 58.1h0M47.7 66.6h0M46.6 75.6h0M47.1 84.2h0M47.6 63.5h0M45.7 67.5h0M44.8 49.7h0M53.5 58.0h0M47.0 75.4h0M44.4 85.0h0M48.4 60.7h0M48.4 82.3h0M47.4 85.1h0M46.9 64.0h0M45.9 56.4h0M48.3 86.7h0M46.2 81.1h0M49.7 62.6h0M46.7 59.5h0M45.2 56.6h0M45.2 67.5h0M38.1 62.2h0M52.3 70.6h0M46.5 61.3h0M45.1 61.5h0M47.0 55.3h0M45.2 86.3h0M46.2 83.3h0M47.7 60.3h0M46.4 84.7h0M45.3 64.3h0M42.8 59.4h0M41.6 63.6h0M43.3 57.6h0M42.9 67.4h0M49.3 63.3h0M48.3 70.0h0M48.7 56.9h0M42.5 60.8h0M46.4 65.6h0M47.2 60.6h0M45.7 58.0h0M41.0 55.0h0M45.8 50.7h0M44.8 51.9h0M45.4 62.1h0M45.0 66.3h0M44.5 66.7h0M46.8 66.8h0M48.2 81.0h0M46.8 61.7h0M46.9 56.4h0M42.8 56.0h0M48.1 70.3h0M44.4 69.5h0M48.8 68.8h0M43.6 61.0h0M45.2 59.7h0M47.1 60.4h0M46.1 72.8h0M47.9 66.9h0M49.3 63.2h0M47.6 57.8h0M50.1 58.9h0M48.2 57.8h0M49.0 61.9h0M48.1 66.9h0M47.2 47.4h0M48.0 69.0h0M46.0 67.2h0M44.3 57.4h0M46.8 81.4h0M46.0 70.5h0M45.3 50.1h0M46.5 62.4h0" stroke="#000" stroke-opacity="0.22" stroke-width="0.8" stroke-linecap="round" fill="none"/>
<ellipse cx="134" cy="83" rx="7" ry="4" transform="rotate(0 134 83)" fill="#000" fill-opacity="0.08" filter="url(#b20)"/>
<ellipse cx="136" cy="58" rx="7" ry="6.5" transform="rotate(0 136 58)" fill="#000" fill-opacity="0.3" filter="url(#b25)"/>
<ellipse cx="136.5" cy="57" rx="4" ry="3.5" transform="rotate(0 136.5 57)" fill="#000" fill-opacity="0.3" filter="url(#b20)"/>
<ellipse cx="118" cy="58.5" rx="3" ry="5" transform="rotate(0 118 58.5)" fill="#000" fill-opacity="0.22" filter="url(#b20)"/>
<path d="M135.6 63.6h0M148.3 57.5h0M134.6 64.6h0M114.2 64.8h0M128.3 58.2h0M137.6 56.1h0M139.1 56.4h0M118.4 59.5h0M128.1 52.1h0M112.4 59.0h0M138.3 45.9h0M130.1 56.7h0M115.5 64.9h0M120.2 61.1h0M113.7 56.9h0M117.3 59.8h0M145.0 53.2h0M145.7 54.0h0M135.7 60.7h0M117.9 59.3h0M115.3 58.6h0M143.6 64.1h0M140.8 86.0h0M116.4 58.2h0M120.4 81.5h0M124.0 58.2h0M140.1 53.9h0M133.6 60.3h0M126.5 55.0h0M115.5 57.3h0M146.6 61.1h0M134.9 45.8h0M108.8 46.1h0M134.9 57.0h0M134.5 61.0h0M129.4 53.6h0M116.5 60.6h0M146.4 45.9h0M132.3 54.0h0M118.9 57.1h0M137.9 61.7h0M117.6 57.2h0M135.0 68.8h0M114.9 81.9h0M126.8 82.1h0M123.2 55.5h0M132.0 57.5h0M131.6 59.6h0M146.4 47.7h0M138.6 51.1h0M142.3 56.4h0M140.1 54.7h0M132.5 52.6h0M135.2 54.7h0M137.6 60.4h0M130.1 68.2h0M133.4 53.7h0M116.5 50.7h0M114.0 55.4h0M127.3 65.2h0M131.3 54.5h0M115.9 53.2h0M121.4 56.6h0M135.8 45.7h0M134.5 62.2h0M125.1 58.1h0M133.5 58.0h0M135.8 64.4h0M121.2 82.7h0M117.1 53.6h0M129.2 72.6h0M142.4 48.2h0M137.6 56.4h0M129.4 62.4h0M127.4 51.5h0M142.1 61.7h0M134.7 56.5h0M122.2 62.5h0M127.5 53.2h0M146.2 64.1h0M136.2 57.3h0M115.8 51.5h0M118.1 54.6h0M115.8 60.0h0M140.4 58.6h0M133.0 53.3h0M121.6 55.0h0M134.3 51.5h0M134.1 50.2h0M145.9 65.6h0M119.3 57.4h0M134.5 59.3h0M121.3 59.3h0M146.4 57.6h0M128.7 63.0h0M130.1 87.1h0M134.8 59.9h0M114.4 52.6h0M129.6 74.4h0M131.1 65.2h0M131.8 59.7h0M117.8 79.6h0M137.4 51.4h0M129.6 50.0h0M113.7 60.4h0M140.5 60.5h0M132.3 63.1h0M125.8 80.4h0M133.0 57.1h0M147.0 56.0h0M133.1 65.8h0M118.7 59.1h0M118.7 82.2h0M135.5 60.9h0M138.3 58.5h0M113.8 57.7h0M126.8 81.4h0M141.2 60.2h0M141.9 66.6h0M118.1 57.1h0M143.4 68.1h0M134.4 55.1h0M136.7 61.2h0M128.2 87.0h0M131.7 68.0h0M130.6 67.0h0M149.3 76.9h0M116.8 51.4h0M140.4 58.6h0M118.0 59.1h0M123.0 57.9h0M144.2 58.4h0M129.4 51.0h0M120.4 55.0h0M124.4 63.9h0M142.6 49.2h0M116.3 65.8h0M118.6 49.8h0M118.0 64.5h0M145.2 60.1h0M143.0 62.0h0M125.5 52.0h0M123.9 63.8h0M117.8 63.9h0M141.6 59.0h0M138.1 50.7h0M114.5 57.7h0M120.3 56.8h0M149.7 71.4h0M118.0 57.4h0M123.0 54.0h0M119.8 63.3h0M131.1 84.2h0M140.8 50.5h0M132.9 56.6h0M136.9 59.9h0M133.7 59.0h0M132.1 67.7h0M134.8 55.5h0M135.0 57.0h0M144.5 59.2h0M121.3 53.8h0M129.5 58.6h0M145.8 64.6h0M137.8 61.3h0M114.3 63.6h0M121.0 52.6h0M131.8 59.9h0M134.5 64.1h0M114.5 86.5h0M141.3 63.2h0M132.1 90.2h0M136.6 85.8h0M128.9 63.8h0M117.3 56.4h0M138.0 87.4h0M130.0 49.0h0M136.6 56.9h0M128.6 81.0h0M119.3 81.5h0M139.4 75.5h0M118.9 57.5h0M124.6 80.0h0M141.6 45.2h0M138.0 58.9h0M126.2 65.6h0M123.7 55.9h0M118.5 55.3h0M122.2 54.3h0M134.8 58.9h0M118.2 58.2h0M113.8 56.0h0M131.4 53.2h0M132.7 60.7h0M134.7 70.4h0M116.8 64.4h0M127.9 45.4h0M143.5 50.1h0M134.3 86.5h0M115.9 58.5h0M113.5 60.3h0M117.1 59.6h0M138.5 55.8h0M144.1 62.1h0M140.7 61.8h0M133.6 63.6h0M138.8 55.9h0M125.6 60.1h0M137.7 85.0h0M129.6 57.9h0M141.2 89.0h0M119.4 61.6h0M134.7 56.9h0M140.1 60.9h0M115.5 58.4h0M121.2 66.6h0M132.7 65.9h0M114.2 52.4h0M135.0 63.5h0M135.8 60.5h0M142.6 55.5h0M119.0 59.2h0M117.0 58.8h0M141.3 53.6h0M114.5 51.0h0M136.8 58.7h0M138.5 64.5h0M138.1 52.4h0M122.3 66.8h0M140.9 71.2h0M125.1 58.9h0M115.5 57.4h0M135.7 54.6h0M132.4 60.9h0M139.3 56.1h0M117.2 61.2h0M119.8 64.2h0M135.9 57.1h0M139.0 62.4h0M114.6 60.0h0M144.8 58.8h0M132.2 56.5h0M118.0 59.8h0M149.9 67.5h0M140.3 65.9h0M145.5 56.0h0M122.3 48.0h0M142.8 60.1h0M125.5 52.8h0M142.9 85.8h0M114.2 53.3h0M131.2 61.7h0M130.3 62.4h0M116.9 55.6h0M114.8 51.2h0M144.5 81.4h0M148.7 81.4h0M114.5 82.2h0M137.6 81.1h0M136.5 60.9h0M137.8 72.9h0M130.6 69.3h0M137.9 66.3h0M118.8 57.3h0M115.1 52.3h0M131.8 83.2h0M116.1 63.4h0M146.3 81.9h0M140.2 87.2h0M138.8 55.6h0M138.3 48.2h0M133.3 66.8h0M119.7 52.1h0M132.8 56.4h0M134.6 86.1h0M129.4 54.6h0M136.7 56.9h0M120.8 63.2h0M135.7 59.1h0M137.3 53.2h0M121.1 64.1h0M134.0 64.7h0M138.9 53.5h0M134.4 57.7h0M132.3 63.4h0M140.3 67.9h0M127.6 77.8h0M145.3 59.8h0M124.3 49.5h0M132.8 46.6h0M122.4 54.1h0M129.9 59.2h0M138.2 58.0h0M127.8 66.8h0M119.1 59.4h0M127.9 56.8h0M114.8 67.4h0M121.5 53.1h0M121.2 58.5h0M139.3 55.5h0M147.5 56.4h0M132.2 56.6h0M141.6 53.7h0M135.2 57.8h0M114.3 51.4h0" stroke="#000" stroke-opacity="0.16" stroke-width="0.8" stroke-linecap="round" fill="none"/>
<path d="M139.9 85.5h0M118.3 56.9h0M130.4 53.7h0M114.9 61.5h0M142.3 80.1h0M136.2 58.5h0M118.8 59.1h0M132.1 51.6h0M136.8 58.3h0M120.7 82.0h0M130.3 61.3h0M128.0 64.8h0M133.2 49.3h0M133.3 52.6h0M134.6 52.0h0M150.3 64.2h0M135.0 52.0h0M136.6 53.2h0M130.6 56.1h0M117.6 58.8h0M135.4 63.1h0M140.9 56.5h0M117.0 59.1h0M113.5 86.2h0M134.4 66.8h0M137.1 54.5h0M121.1 60.0h0M143.8 65.7h0M135.8 65.7h0M146.0 60.2h0M129.8 52.4h0M129.9 62.2h0M122.7 56.5h0M124.3 57.5h0M142.9 58.2h0M135.8 60.6h0M116.9 58.8h0M138.7 55.7h0M147.0 64.2h0M131.3 90.0h0M117.0 70.6h0M125.9 57.5h0M122.0 60.9h0M116.2 57.6h0M117.0 82.3h0M130.9 58.8h0M130.7 61.2h0M132.5 51.9h0M134.7 56.3h0M142.7 53.5h0M133.6 56.1h0M139.9 68.0h0M116.1 84.2h0M143.0 64.1h0M120.6 57.3h0M135.2 54.4h0M115.7 55.7h0M117.8 57.7h0M117.1 61.0h0M129.3 53.3h0M134.7 81.6h0M145.8 58.4h0M128.1 63.8h0M115.5 54.3h0M137.1 66.7h0M120.5 56.0h0M137.6 58.4h0M120.1 57.6h0M125.7 58.0h0M120.4 54.5h0M137.1 58.9h0M132.2 56.8h0M114.2 57.4h0M131.5 56.5h0M117.2 56.4h0M125.6 56.3h0M141.5 66.9h0M137.0 86.4h0M117.7 83.0h0M113.0 57.8h0M141.0 59.2h0M131.9 59.1h0M113.2 57.6h0M142.7 52.8h0M134.5 82.5h0M116.3 63.7h0M135.4 71.5h0M116.0 54.2h0M116.3 57.1h0M113.8 55.5h0M123.7 60.4h0M138.9 57.1h0M117.0 47.3h0M124.7 76.7h0M134.8 60.7h0M131.1 58.6h0M132.4 62.7h0M115.0 54.1h0M129.5 58.3h0M136.4 56.1h0M116.0 61.1h0M138.4 64.6h0M133.0 61.9h0M129.0 53.3h0M131.5 54.3h0M120.4 48.8h0M137.8 60.6h0M130.5 69.4h0M148.0 57.9h0M116.2 58.5h0M135.4 66.1h0M126.7 63.7h0M138.8 55.5h0M121.0 56.0h0M119.3 55.3h0M138.4 52.0h0M138.6 61.1h0M139.6 85.4h0M126.8 51.4h0M116.9 54.1h0M132.8 65.9h0M118.3 68.0h0M140.5 56.9h0M139.9 62.4h0M129.4 52.9h0M136.5 55.6h0M141.0 47.6h0M112.8 61.2h0M116.2 57.1h0M135.6 63.3h0M139.4 68.7h0M135.6 57.3h0M117.1 61.9h0M135.1 54.6h0M137.3 54.0h0M120.2 83.3h0M115.9 57.9h0M130.5 54.4h0M124.1 54.3h0M138.3 62.5h0M132.8 51.6h0M145.9 65.0h0M134.5 82.7h0M131.1 54.8h0M147.6 59.0h0M135.0 68.4h0M137.9 79.4h0M119.1 53.4h0M139.0 68.4h0M132.3 52.4h0M125.3 50.3h0M132.8 81.1h0M127.4 84.4h0M125.4 61.4h0M119.9 59.6h0M137.5 57.6h0M132.9 51.6h0M124.9 58.4h0M133.3 57.4h0M137.0 81.5h0M125.7 61.9h0M132.2 58.5h0M134.6 56.0h0M120.5 53.0h0M150.7 48.1h0M123.8 60.1h0M139.5 56.3h0M134.5 53.0h0M135.9 77.6h0M136.5 55.9h0M117.9 62.9h0M129.0 60.1h0M132.2 74.8h0M138.7 55.8h0M117.7 63.4h0M113.3 60.3h0M118.7 65.8h0M119.0 55.9h0M121.3 64.4h0M117.1 62.0h0M139.2 62.0h0M132.8 65.9h0M115.9 51.7h0M114.8 59.4h0M118.5 59.0h0M137.8 63.5h0M134.4 59.6h0M135.2 79.8h0M136.0 57.1h0M142.2 59.0h0M129.6 52.1h0M131.8 52.9h0M124.0 54.1h0M145.1 61.2h0M135.6 60.5h0M134.3 48.5h0M138.4 54.7h0M139.4 59.4h0M127.2 53.4h0M136.7 65.4h0M129.5 57.2h0M141.6 92.3h0M141.4 64.0h0M134.5 52.6h0M126.9 56.7h0M115.3 57.8h0M133.8 58.1h0M129.9 49.0h0M132.9 52.6h0M136.4 63.1h0M127.0 54.0h0M139.7 56.4h0M122.3 64.9h0M123.1 83.6h0M128.5 64.0h0M124.7 53.4h0M126.1 53.6h0M140.0 51.8h0M121.3 53.9h0M128.0 64.7h0M129.7 58.9h0M117.4 61.9h0M128.3 66.6h0M136.9 50.6h0M130.2 60.2h0M122.5 68.7h0M124.4 57.4h0M127.3 46.5h0M133.9 50.0h0M133.6 59.3h0M124.7 44.7h0M141.7 54.5h0M132.4 57.7h0M139.4 80.0h0M139.8 65.5h0M119.0 60.2h0M144.3 64.7h0M137.5 48.1h0M144.2 65.8h0M134.3 56.0h0M147.0 64.3h0M153.0 55.1h0M125.9 60.6h0M130.5 59.6h0M123.2 57.2h0M117.6 59.8h0M117.4 61.8h0M126.7 59.0h0M116.2 65.8h0M122.5 59.9h0M140.5 58.9h0M136.6 60.3h0M135.3 57.8h0M138.1 58.1h0M138.4 51.7h0M130.9 54.4h0M139.7 64.7h0M145.4 50.4h0M140.8 56.8h0M135.4 56.9h0M134.0 59.2h0M133.3 59.3h0M137.1 59.4h0M137.1 48.7h0M127.4 50.0h0M140.5 61.3h0M139.9 69.8h0M139.7 56.9h0M117.2 61.8h0M134.6 65.9h0M115.9 57.1h0M138.2 66.8h0M123.1 53.5h0M124.4 82.4h0M119.9 55.9h0M118.2 54.0h0M134.0 68.5h0M139.4 61.9h0M135.3 46.9h0M136.9 55.4h0M118.5 81.0h0M118.6 62.4h0M148.5 65.7h0M132.5 60.5h0M139.1 52.3h0M120.4 65.1h0M133.1 64.1h0M118.2 62.6h0M136.2 53.9h0M115.3 65.1h0M147.9 56.7h0M139.5 54.9h0M115.3 61.8h0M131.3 47.7h0M130.5 55.4h0M121.5 63.2h0M137.0 65.0h0M117.4 86.3h0M116.4 60.8h0M139.5 52.1h0M119.5 58.5h0M118.0 85.3h0M115.5 92.7h0M123.0 60.1h0" stroke="#000" stroke-opacity="0.16" stroke-width="0.8" stroke-linecap="round" fill="none"/>
<path d="M119.3 59.9h0M115.6 59.6h0M142.2 47.1h0M128.0 82.9h0M140.7 60.7h0M122.3 49.8h0M133.1 65.4h0M121.0 59.8h0M119.7 54.3h0M138.1 60.9h0M112.6 64.7h0M147.2 50.7h0M133.5 66.7h0M132.3 61.7h0M132.5 62.1h0M141.8 51.9h0M134.2 57.5h0M120.8 57.4h0M122.3 57.1h0M127.3 61.1h0M117.4 57.3h0M136.7 55.9h0M139.1 63.8h0M139.9 66.2h0M147.2 61.9h0M118.3 58.2h0M138.8 51.7h0M139.9 48.0h0M132.5 64.9h0M117.7 57.4h0M135.7 76.7h0M128.8 58.3h0M134.9 63.5h0M115.0 60.0h0M130.4 55.2h0M143.2 57.7h0M142.6 49.6h0M116.5 61.8h0M117.0 58.7h0M135.0 61.9h0M116.6 59.5h0M143.2 44.8h0M119.8 64.4h0M127.9 63.8h0M132.9 56.3h0M133.8 53.8h0M136.0 85.2h0M137.5 54.9h0M115.5 58.3h0M138.8 65.1h0M139.3 86.3h0M130.3 50.8h0M136.8 61.4h0M136.0 56.8h0M145.3 65.5h0M139.5 62.4h0M140.4 58.7h0M137.6 59.9h0M141.9 52.5h0M143.6 55.1h0M131.1 59.2h0M138.6 60.7h0M149.6 59.3h0M136.5 64.6h0M139.4 60.5h0M137.2 69.0h0M146.8 57.0h0M134.6 60.0h0M111.6 70.3h0M143.8 88.2h0M116.5 77.2h0M152.2 54.6h0M139.9 76.7h0M141.2 50.7h0M135.1 65.4h0M138.8 56.4h0M136.5 59.4h0M141.5 59.3h0M136.3 62.8h0M131.0 57.0h0M121.6 63.0h0M131.3 59.8h0M124.3 64.8h0M143.1 75.0h0M121.0 56.8h0M119.5 52.7h0M120.7 64.5h0M133.4 53.6h0M125.8 95.4h0M139.4 63.5h0M125.2 59.3h0M116.7 53.8h0M144.0 59.4h0M129.5 66.7h0M141.5 53.2h0M148.0 61.8h0M119.6 56.3h0M129.6 52.6h0M119.5 51.9h0M140.8 61.4h0M138.6 53.8h0M136.6 59.4h0M138.0 87.0h0M115.0 63.6h0M132.7 62.3h0M131.7 50.2h0M136.7 55.7h0M138.0 62.2h0M131.5 72.0h0M138.3 53.9h0M121.5 54.9h0M134.2 54.0h0M141.4 44.4h0M121.4 87.3h0M131.0 52.6h0M135.1 63.4h0M119.6 54.5h0M140.0 61.1h0M136.8 54.2h0M138.5 56.6h0M132.0 64.3h0M119.7 55.2h0M135.1 45.0h0M116.4 55.8h0M119.9 52.2h0M128.9 70.1h0M136.9 84.8h0M138.8 52.6h0M123.4 56.5h0M123.9 49.7h0M132.5 52.5h0M121.8 57.6h0M141.4 59.2h0M117.1 82.9h0M138.6 55.1h0M120.7 62.1h0M144.0 77.7h0M139.3 49.7h0M137.7 83.8h0M117.8 62.0h0M144.8 52.9h0M144.5 52.3h0M138.8 58.2h0M134.2 59.1h0M116.7 59.4h0M119.5 63.0h0M139.0 82.7h0M132.6 52.4h0M133.2 63.2h0M121.6 85.5h0M147.5 65.6h0M136.4 61.0h0M134.0 53.8h0M127.2 66.4h0M116.6 55.0h0M119.5 87.0h0M143.3 50.0h0M129.6 71.5h0M128.9 61.1h0M126.3 59.6h0M129.3 59.4h0M134.5 57.0h0M126.8 59.1h0M133.6 50.5h0M118.1 82.4h0M124.1 53.6h0M114.3 49.7h0M139.8 57.4h0M133.7 62.8h0M132.9 64.0h0M119.0 59.3h0M139.4 60.2h0M127.0 65.5h0M136.5 65.6h0M127.1 59.6h0M118.0 48.5h0M127.6 59.6h0M120.4 47.2h0M136.2 58.0h0M121.0 64.4h0M142.1 50.4h0M132.8 61.4h0M141.5 64.7h0M121.6 56.5h0M126.1 52.7h0M140.9 60.1h0M139.0 63.4h0M122.9 52.0h0M138.8 63.2h0M135.5 59.5h0M118.3 56.2h0M121.3 54.8h0M121.1 60.4h0M132.2 53.1h0M134.1 59.4h0M139.1 60.7h0M136.1 53.0h0M137.4 52.3h0M132.3 50.2h0M138.4 50.5h0M136.8 91.1h0M119.5 62.6h0M118.4 57.6h0M139.7 54.6h0M135.1 81.4h0M124.8 56.2h0M133.0 84.0h0M133.2 57.4h0M147.1 63.9h0M127.1 60.4h0M121.0 54.9h0M126.8 65.4h0M118.7 62.5h0M133.0 56.9h0M115.8 83.7h0M138.9 59.4h0M135.7 57.9h0M115.6 59.4h0M119.3 62.2h0M131.6 56.6h0M134.8 57.6h0M120.4 55.7h0M136.1 64.0h0M131.0 59.1h0M138.9 54.2h0M139.7 68.9h0M118.0 59.6h0M116.0 51.5h0M130.0 54.9h0M115.4 56.1h0M115.8 62.9h0M143.9 62.9h0M132.4 70.3h0M138.0 62.0h0M126.9 58.5h0M133.1 58.4h0M128.9 54.9h0M124.3 64.3h0M111.7 59.5h0M122.3 51.4h0M121.5 67.8h0M134.3 58.0h0M122.5 51.5h0M127.5 62.2h0M139.2 57.1h0M142.2 57.6h0M120.9 65.0h0M119.8 60.2h0M137.0 66.4h0M120.6 61.6h0M121.4 83.3h0M132.7 60.8h0M128.2 65.9h0M123.0 61.7h0M129.7 56.6h0M133.1 51.2h0M119.9 60.6h0M137.8 63.4h0M133.7 61.2h0M118.5 57.2h0M118.6 56.9h0M125.5 51.9h0M116.9 59.9h0M135.7 57.7h0M129.9 64.2h0M122.6 83.9h0M141.1 57.1h0M146.5 60.4h0M133.6 53.0h0M130.8 52.6h0M141.5 83.0h0M119.4 68.0h0M144.7 58.6h0M120.0 75.7h0M120.5 61.2h0M118.4 49.7h0M114.0 60.4h0M134.1 49.8h0M133.5 48.4h0M138.4 56.5h0M129.5 58.4h0M136.6 83.2h0M124.7 68.9h0M115.6 62.1h0M117.3 61.3h0M129.5 58.4h0M141.2 81.7h0M119.6 65.2h0M122.7 53.9h0M137.3 65.3h0M118.8 56.3h0M119.1 58.8h0M141.4 44.3h0M126.8 61.8h0M146.4 59.1h0M138.4 50.2h0M118.0 61.3h0M138.2 56.2h0M128.4 85.0h0M149.5 45.7h0M116.0 61.2h0M142.3 62.2h0M140.8 53.2h0M115.5 57.9h0" stroke="#000" stroke-opacity="0.16" stroke-width="0.8" stroke-linecap="round" fill="none"/>
<path d="M132.2 50.0h0M117.9 49.3h0M143.1 65.8h0M130.6 60.8h0M146.9 62.0h0M132.8 58.7h0M138.9 69.6h0M116.0 85.4h0M139.3 58.2h0M135.8 55.4h0M143.6 53.9h0M130.9 63.1h0M137.3 57.4h0M151.6 68.8h0M143.3 53.9h0M116.9 49.6h0M135.7 85.9h0M137.7 57.9h0M134.5 57.1h0M131.8 59.7h0M135.5 48.3h0M116.6 61.5h0M122.8 51.0h0M131.2 56.6h0M118.7 59.7h0M124.1 76.0h0M144.9 57.0h0M141.0 59.4h0M119.5 60.4h0M116.0 65.5h0M136.8 57.1h0M135.8 55.0h0M133.3 60.3h0M132.9 58.9h0M118.4 54.4h0M134.1 58.1h0M114.2 65.7h0M124.7 81.5h0M123.3 60.8h0M121.1 60.1h0M127.0 60.8h0M134.0 57.0h0M142.2 65.2h0M130.5 57.7h0M143.4 51.4h0M145.2 56.4h0M135.6 50.0h0M130.5 53.7h0M130.4 63.5h0M143.6 64.7h0M134.1 62.6h0M137.6 67.5h0M118.3 65.6h0M116.2 65.2h0M142.1 52.9h0M117.9 57.4h0M138.9 72.0h0M124.4 43.2h0M129.5 53.7h0M142.9 58.3h0M127.2 57.5h0M135.8 60.0h0M116.7 56.7h0M119.1 63.2h0M132.7 64.0h0M118.2 62.9h0M117.0 53.2h0M139.8 56.5h0M117.1 57.3h0M133.0 51.0h0M150.9 55.6h0M136.9 58.5h0M138.4 58.1h0M132.4 47.0h0M141.4 61.1h0M141.3 62.1h0M121.1 61.5h0M133.4 54.2h0M132.7 40.9h0M147.7 86.1h0M149.7 70.9h0M127.6 62.8h0M120.0 54.7h0M140.9 62.5h0M135.5 57.3h0M128.8 73.3h0M129.8 59.8h0M126.0 60.7h0M115.3 53.7h0M137.7 50.1h0M116.8 84.1h0M143.9 55.6h0M121.8 53.6h0M133.2 80.1h0M137.8 55.0h0M138.4 69.5h0M125.2 53.4h0M122.9 57.9h0M133.4 53.7h0M112.3 61.5h0M135.0 58.5h0M129.5 64.2h0M145.4 59.2h0M114.3 58.7h0M134.4 56.2h0M140.8 54.0h0M118.4 52.7h0M137.5 55.3h0M119.7 55.5h0M137.5 48.6h0M121.9 61.1h0M128.2 57.9h0M130.5 48.0h0M127.8 68.0h0M131.3 58.7h0M130.9 61.7h0M123.2 61.9h0M137.1 53.5h0M120.2 60.5h0M120.4 88.5h0M131.9 85.9h0M134.1 49.6h0M141.2 50.4h0M130.1 59.9h0M135.9 59.3h0M133.5 53.1h0M132.9 55.8h0M137.7 61.4h0M133.1 85.1h0M132.6 64.4h0M134.3 63.5h0M130.9 60.4h0M140.9 57.0h0M116.3 70.5h0M124.9 56.8h0M129.0 53.1h0M145.5 86.9h0M132.1 52.8h0M135.5 46.1h0M143.4 53.8h0M112.3 60.3h0M131.4 61.9h0M135.5 86.8h0M134.2 63.2h0M141.2 60.9h0M133.2 57.2h0M124.6 78.6h0M122.9 60.0h0M132.7 52.6h0M135.3 65.6h0M122.2 55.8h0M144.5 61.4h0M143.5 56.4h0M130.8 62.5h0M121.9 85.2h0M115.3 51.9h0M124.7 55.2h0M134.6 59.4h0M145.2 83.7h0M145.0 69.7h0M135.5 55.1h0M117.7 57.4h0M118.9 65.9h0M125.7 80.0h0M139.9 67.3h0M143.1 59.6h0M134.8 54.8h0M135.4 59.1h0M136.2 60.7h0M140.6 48.2h0M134.3 56.3h0M124.2 62.3h0M121.7 60.6h0M128.8 59.1h0M120.1 64.2h0M144.7 51.8h0M139.5 55.2h0M119.1 56.4h0M123.6 53.3h0M136.7 61.9h0M130.7 56.5h0M119.7 59.6h0M115.5 57.5h0M141.2 52.0h0M130.8 54.7h0M125.8 48.3h0M131.2 56.2h0M132.6 48.0h0M124.6 51.2h0M117.9 63.0h0M139.8 67.6h0M119.2 62.4h0M125.8 59.4h0M145.3 56.1h0M133.1 48.3h0M127.3 60.6h0M137.6 56.0h0M143.9 83.6h0M141.5 87.7h0M142.3 70.8h0M118.3 54.2h0M136.1 57.9h0M144.1 59.9h0M120.7 67.1h0M120.4 56.6h0M133.3 55.6h0M135.0 54.6h0M120.5 52.0h0M136.7 46.5h0M128.7 66.4h0M140.4 56.5h0M132.1 55.1h0M126.0 61.9h0M131.1 74.7h0M141.0 54.4h0M133.1 54.7h0M131.2 68.9h0M117.2 53.0h0M125.8 62.6h0M118.3 55.2h0M129.0 83.7h0M112.1 81.0h0M118.2 59.9h0M141.8 49.0h0M117.5 59.6h0M137.3 62.5h0M127.3 60.3h0M144.5 51.1h0M138.4 54.5h0M145.9 56.6h0M145.8 71.8h0M118.3 62.4h0M142.3 55.8h0M134.2 78.6h0M120.7 53.7h0M136.7 56.4h0M134.1 76.4h0M128.8 59.1h0M133.6 57.4h0M128.5 55.3h0M133.3 68.4h0M138.1 50.7h0M125.4 66.9h0M146.7 78.2h0M111.3 50.2h0M111.4 60.6h0M129.4 46.9h0M128.3 48.3h0M122.3 54.2h0M121.6 57.0h0M124.6 54.2h0M116.9 57.1h0M122.4 59.8h0M133.2 50.7h0M134.3 55.1h0M136.1 65.0h0M114.5 60.9h0M141.0 50.3h0M130.6 52.0h0M111.1 60.0h0M136.1 53.8h0M137.2 59.8h0M132.1 58.4h0M138.9 59.6h0M140.2 57.9h0M116.4 50.8h0M131.3 62.1h0M116.2 78.8h0M123.4 87.4h0M140.3 66.9h0M132.1 87.4h0M116.4 61.2h0M116.3 61.2h0M127.7 67.0h0M143.8 50.7h0M142.6 57.2h0M117.4 58.3h0M136.2 56.0h0M116.2 54.9h0M127.5 66.9h0M114.6 53.2h0M120.2 62.0h0M140.5 42.9h0M135.3 59.9h0M132.7 59.6h0M133.5 63.8h0M121.2 60.4h0M120.0 59.9h0M117.4 55.9h0M139.7 57.5h0M141.5 57.1h0M115.0 51.1h0M118.7 59.8h0M135.3 59.5h0M119.8 54.7h0M130.2 53.5h0M118.5 59.9h0M119.3 58.7h0M117.4 60.0h0M127.2 51.5h0M126.8 64.8h0M136.2 59.4h0M128.8 72.7h0M118.8 51.4h0M130.5 78.7h0" stroke="#000" stroke-opacity="0.16" stroke-width="0.8" stroke-linecap="round" fill="none"/>
<path d="M121.7 42.9h0M134.5 57.4h0M142.7 60.9h0M118.3 49.2h0M131.2 61.6h0M135.0 59.2h0M140.4 55.3h0M134.9 79.7h0M130.1 44.1h0M132.6 56.0h0M120.7 53.9h0M137.2 60.7h0M122.2 53.5h0M126.4 58.9h0M134.7 58.4h0M137.9 82.3h0M122.5 62.5h0M141.7 54.4h0M143.5 46.4h0M116.9 62.4h0M119.1 81.8h0M142.4 56.7h0M126.9 59.7h0M136.0 49.4h0M116.6 51.7h0M122.5 49.8h0M136.1 58.9h0M115.3 57.3h0M112.8 61.2h0M134.3 67.1h0M137.7 79.0h0M116.0 83.9h0M143.6 63.2h0M112.6 79.2h0M135.1 62.7h0M127.6 65.4h0M138.3 65.4h0M129.4 60.9h0M145.4 45.7h0M149.5 43.2h0M139.9 56.4h0M141.1 49.3h0M127.5 58.7h0M125.0 49.1h0M117.5 57.2h0M115.6 58.2h0M128.1 56.7h0M138.1 55.8h0M118.6 58.9h0M141.0 65.4h0M121.7 52.4h0M118.0 55.7h0M129.9 52.7h0M118.4 58.2h0M137.9 55.8h0M134.4 62.5h0M144.0 52.0h0M113.4 83.8h0M125.4 89.0h0M137.7 80.3h0M132.1 52.1h0M131.1 67.8h0M118.8 83.5h0M147.1 81.5h0M142.0 80.3h0M133.9 61.7h0M129.1 52.8h0M135.6 56.5h0M132.9 57.3h0M134.3 56.8h0M118.5 55.2h0M133.6 62.6h0M132.0 68.6h0M130.0 87.3h0M134.9 57.9h0M118.0 60.4h0M132.7 58.3h0M132.0 64.9h0M127.3 74.0h0M120.9 54.4h0M130.9 57.1h0M146.0 60.2h0M137.8 54.4h0M137.7 53.6h0M137.3 59.4h0M120.6 65.3h0M143.9 58.3h0M117.9 56.0h0M131.6 56.4h0M128.4 60.1h0M143.3 55.4h0M145.6 56.6h0M140.8 53.0h0M139.7 51.1h0M131.2 52.6h0M143.8 56.8h0M126.4 55.8h0M116.8 52.0h0M124.1 60.1h0M120.4 53.2h0M118.8 61.9h0M119.4 52.5h0M113.7 57.2h0M133.9 64.8h0M139.3 61.7h0M140.2 59.0h0M140.1 53.6h0M146.0 62.2h0M129.3 57.5h0M119.4 54.0h0M137.3 57.7h0M138.2 55.9h0M137.1 62.8h0M137.0 48.6h0M115.6 81.4h0M144.6 93.9h0M148.0 58.0h0M132.1 52.9h0M129.3 60.1h0M135.5 53.0h0M138.7 53.0h0M138.3 53.9h0M118.3 51.0h0M118.7 51.3h0M134.1 54.2h0M119.5 66.1h0M130.0 57.3h0M135.6 83.0h0M131.8 59.4h0M135.4 56.9h0M140.8 84.7h0M144.8 82.7h0M115.2 58.7h0M117.8 51.8h0M141.7 62.3h0M133.5 65.6h0M137.2 59.7h0M139.0 83.1h0M136.7 54.2h0M127.4 58.5h0M120.7 55.8h0M122.7 60.7h0M115.5 59.4h0M140.9 84.9h0M141.0 54.2h0M138.6 78.1h0M141.2 88.5h0M118.6 58.0h0M131.3 57.5h0M112.7 63.5h0M133.2 61.0h0M122.6 52.6h0M139.0 60.8h0M120.7 56.2h0M139.1 61.6h0M130.9 56.6h0M136.4 53.8h0M126.1 63.3h0M126.8 54.2h0M141.4 59.7h0M126.4 60.0h0M127.3 62.6h0M122.4 51.6h0M126.3 74.8h0M138.7 61.0h0M138.2 72.6h0M121.7 55.2h0M131.6 84.5h0M132.3 61.7h0M114.6 60.7h0M137.4 51.3h0M118.4 87.1h0M123.6 64.4h0M125.1 49.0h0M122.2 61.1h0M135.1 51.8h0M140.2 62.1h0M135.2 55.4h0M137.2 42.4h0M142.6 60.9h0M133.7 60.4h0M120.4 52.3h0M132.7 58.8h0M139.8 82.6h0M139.6 55.5h0M117.6 60.1h0M138.2 57.8h0M117.1 57.9h0M124.8 66.8h0M128.9 53.9h0M132.3 51.4h0M138.7 54.0h0M119.6 51.4h0M137.2 55.0h0M121.1 47.8h0M131.3 55.5h0M127.7 53.7h0M138.7 82.0h0M139.9 68.3h0M119.4 56.8h0M131.1 54.7h0M134.6 54.5h0M137.6 60.4h0M135.1 55.7h0M140.0 56.1h0M141.2 52.6h0M120.0 66.0h0M131.5 55.9h0M139.0 46.8h0M127.1 45.9h0M134.9 59.4h0M115.8 64.8h0M131.0 73.1h0M137.3 53.4h0M131.9 63.0h0M133.9 62.8h0M133.5 56.1h0M133.6 64.6h0M143.2 54.3h0M119.6 56.9h0M117.6 53.0h0M118.8 52.0h0M120.6 87.3h0M139.4 60.1h0M143.1 55.4h0M140.5 62.3h0M129.8 61.4h0M140.7 62.1h0M142.5 53.0h0M139.5 60.1h0M137.0 65.2h0M141.8 80.7h0M120.8 60.3h0M132.0 54.5h0M137.1 58.1h0M133.8 49.9h0M142.5 54.9h0M116.5 58.5h0M129.3 60.4h0M119.5 58.1h0M119.8 57.2h0M119.4 52.8h0M119.3 53.5h0M130.9 58.2h0M131.5 59.5h0M126.6 49.3h0M136.1 62.3h0M133.3 54.1h0M135.0 53.8h0M146.6 66.7h0M125.0 49.8h0M139.4 54.5h0M132.3 59.0h0M132.9 43.8h0M133.0 56.0h0M119.3 62.7h0M141.6 51.5h0M134.7 52.3h0M121.4 60.1h0M134.4 58.9h0M139.3 56.0h0M141.5 82.1h0M115.7 52.5h0M136.2 82.0h0M118.0 53.2h0M137.5 58.7h0M137.9 63.8h0M120.2 57.3h0M116.2 57.4h0M134.6 63.8h0M118.1 58.3h0M119.9 60.4h0M137.0 56.8h0M132.7 63.3h0M129.6 56.9h0M120.9 47.3h0M115.5 67.2h0M140.4 60.9h0M129.8 49.1h0M137.1 55.4h0M135.7 63.0h0M132.3 79.1h0M130.1 57.9h0M135.6 82.5h0M126.6 63.8h0M133.7 56.6h0M135.7 57.5h0M115.7 53.1h0M139.9 59.0h0M136.4 59.2h0M135.8 66.6h0M124.4 58.9h0M129.1 56.7h0M123.8 83.0h0M124.9 67.8h0M126.9 55.9h0M139.9 62.8h0M128.7 77.5h0M143.3 70.7h0M131.9 54.4h0M145.8 53.9h0M140.6 62.2h0M131.7 82.1h0M139.0 54.0h0" stroke="#000" stroke-opacity="0.16" stroke-width="0.8" stroke-linecap="round" fill="none"/>
<path d="M146.0 68.2h0M137.5 61.1h0M129.9 53.7h0M122.0 59.7h0M141.2 59.6h0M136.6 60.9h0M138.7 54.5h0M115.9 66.1h0M130.6 59.4h0M131.0 60.4h0M117.5 60.8h0M143.2 69.1h0M141.0 66.2h0M133.3 59.8h0M151.6 62.0h0M114.6 58.5h0M129.5 61.8h0M135.8 62.3h0M134.5 69.2h0M128.7 55.8h0M128.8 60.4h0M130.4 72.5h0M134.3 49.5h0M115.4 56.3h0M141.2 53.7h0M131.5 86.3h0M127.9 61.6h0M132.4 55.9h0M132.0 45.3h0M134.8 59.8h0M116.9 85.5h0M132.2 59.2h0M135.6 67.0h0M140.9 85.7h0M116.2 59.3h0M134.7 53.7h0M148.9 73.9h0M125.3 49.6h0M125.8 53.2h0M133.7 58.3h0M131.2 64.5h0M130.5 51.4h0M137.5 56.5h0M144.0 64.1h0M138.5 59.4h0M136.3 60.2h0M132.9 60.3h0M136.4 59.0h0M131.1 58.6h0M134.8 51.5h0M138.9 47.5h0M143.9 62.8h0M130.1 63.3h0M139.9 43.8h0M129.5 54.4h0M141.6 78.2h0M139.9 52.8h0M137.3 62.9h0M144.1 61.5h0M137.5 62.0h0M129.3 58.3h0M114.5 59.4h0M145.8 68.4h0M141.3 56.2h0M137.8 55.1h0M139.8 59.6h0M119.3 63.4h0M138.2 60.4h0M131.1 58.6h0M125.6 53.9h0M117.1 52.9h0M143.5 55.7h0M131.7 60.5h0M135.0 54.2h0M130.5 49.6h0M131.7 62.9h0M133.5 54.4h0M136.4 60.6h0M119.6 60.3h0M131.3 46.8h0M122.2 50.1h0M115.1 84.2h0M140.1 54.6h0M117.5 59.9h0M130.3 55.0h0M143.1 62.2h0M133.5 79.2h0M121.1 58.5h0M125.3 55.6h0M116.8 60.3h0M120.5 62.0h0M133.9 62.7h0M127.4 60.1h0M132.5 60.8h0M123.7 57.9h0M137.8 59.9h0M130.1 51.8h0M131.8 52.7h0M137.6 64.1h0M139.5 60.5h0M118.6 62.8h0M125.1 53.7h0M120.3 51.4h0M115.9 65.6h0M134.5 56.5h0M124.9 55.8h0M115.9 84.1h0M122.1 54.6h0M125.3 61.3h0M137.4 55.7h0M130.2 52.8h0M149.9 45.6h0M129.8 85.5h0M141.0 52.0h0M116.1 54.5h0M119.1 65.5h0M134.4 71.0h0M128.1 63.2h0M138.3 62.1h0M116.9 54.6h0M139.9 55.7h0M139.6 60.8h0M131.4 56.6h0M130.5 58.0h0M132.4 52.8h0M129.2 53.8h0M116.2 60.8h0M137.0 85.3h0M129.3 53.6h0M127.9 56.1h0M143.4 53.6h0M135.3 52.3h0M140.0 54.8h0M116.5 63.3h0M142.3 64.5h0M125.6 58.3h0M116.1 58.8h0M140.4 63.5h0M119.6 60.1h0M130.5 51.7h0M128.3 55.5h0M124.1 58.5h0M126.2 52.1h0M126.8 60.5h0M123.4 57.2h0M143.6 58.5h0M138.8 62.2h0M143.2 55.1h0M121.3 59.4h0M139.4 64.7h0M128.3 56.3h0M120.0 58.5h0M138.1 85.9h0M141.2 64.6h0M137.8 86.5h0M117.5 87.1h0M133.8 59.6h0M135.3 56.5h0M133.9 52.1h0M116.2 54.3h0M144.1 58.1h0M131.8 78.6h0M127.8 60.9h0M136.2 57.9h0M142.2 59.2h0M122.4 58.0h0M130.7 58.0h0M116.0 65.3h0M142.2 56.6h0M131.3 59.3h0M122.5 80.6h0M127.7 54.3h0M131.3 58.3h0M136.3 47.5h0M150.1 84.4h0M142.3 71.6h0M115.9 61.5h0M120.7 56.7h0M119.3 56.7h0M132.3 62.9h0M122.7 86.7h0M114.0 60.3h0M131.8 52.9h0M129.2 59.9h0M125.9 79.4h0M126.6 82.1h0M131.3 54.8h0M140.7 50.4h0M142.9 63.0h0M121.5 79.0h0M131.8 57.3h0M129.7 65.1h0M132.8 69.8h0M141.9 54.4h0M123.0 51.0h0M141.0 59.3h0M139.9 58.0h0M126.7 56.1h0M146.9 51.4h0M134.2 48.8h0M139.4 68.3h0M136.3 59.6h0M132.6 53.0h0M119.2 58.0h0M138.1 64.7h0M131.4 54.2h0M135.7 51.6h0M131.0 58.9h0M139.8 63.2h0M136.5 57.3h0M137.0 66.8h0M117.1 61.4h0M141.4 62.3h0M128.6 58.2h0M139.0 56.6h0M129.0 58.8h0M142.1 59.5h0M135.8 61.9h0M117.8 54.2h0M130.2 58.6h0M141.5 58.7h0M132.1 53.7h0M134.5 59.4h0M135.8 58.0h0M119.0 64.1h0M127.9 71.5h0M131.5 45.6h0M117.1 57.7h0M116.7 55.8h0M138.0 60.2h0M142.8 55.2h0M137.3 59.3h0M118.2 57.8h0M123.7 83.9h0M132.4 63.9h0M132.4 56.9h0M133.7 55.9h0M128.4 60.6h0M125.8 87.4h0M134.4 84.5h0M132.7 81.2h0M128.1 60.0h0M141.8 56.5h0M130.1 52.5h0M137.2 55.9h0M137.9 56.5h0M129.5 79.3h0M132.9 57.8h0M129.6 51.9h0M140.4 56.4h0M138.5 65.2h0M140.3 80.0h0M122.1 52.2h0M112.1 64.5h0M128.2 57.3h0M116.0 53.2h0M143.6 51.0h0M152.4 57.1h0M128.6 61.0h0M133.8 54.1h0M137.0 59.6h0M124.0 53.3h0M147.2 59.5h0M130.8 61.9h0M137.1 58.7h0M148.5 64.2h0M136.6 78.8h0M138.2 63.8h0M136.6 55.8h0M126.2 54.2h0M140.3 62.5h0M125.8 50.4h0M141.1 60.4h0M132.2 67.1h0M126.9 56.4h0M116.9 87.4h0M138.7 71.8h0M119.6 52.1h0M132.0 55.9h0M140.5 57.5h0M113.2 85.1h0M114.5 84.1h0M116.2 61.9h0M135.2 84.0h0M114.2 47.2h0M134.9 86.6h0M118.0 54.5h0M117.6 60.1h0M140.1 49.2h0M121.3 70.6h0M129.9 57.6h0M138.9 58.0h0M124.0 63.4h0M130.8 54.4h0M129.6 65.3h0M142.3 56.5h0M130.5 59.3h0M118.1 56.6h0M119.7 42.3h0M129.5 82.1h0M132.9 57.3h0M138.3 57.7h0M133.2 59.3h0M118.3 55.2h0M132.9 61.8h0" stroke="#000" stroke-opacity="0.16" stroke-width="0.8" stroke-linecap="round" fill="none"/>
<ellipse cx="207.5" cy="56.5" rx="7" ry="7" transform="rotate(0 207.5 56.5)" fill="#000" fill-opacity="0.12" filter="url(#b20)"/>
<ellipse cx="190" cy="58" rx="2.5" ry="5" transform="rotate(0 190 58)" fill="#000" fill-opacity="0.06" filter="url(#b15)"/>
<ellipse cx="208.5" cy="82.3" rx="6" ry="2.0" transform="rotate(0 208.5 82.3)" fill="#000" fill-opacity="0.7" filter="url(#b12)"/>
<ellipse cx="211" cy="82.3" rx="3.5" ry="1.6" transform="rotate(0 211 82.3)" fill="#000" fill-opacity="0.4" filter="url(#b10)"/>
<ellipse cx="189" cy="82.5" rx="2.5" ry="1.9" transform="rotate(0 189 82.5)" fill="#000" fill-opacity="0.6" filter="url(#b10)"/>
<path d="M208.0 83.2h0M201.4 84.6h0M204.2 83.4h0M188.1 79.8h0M207.5 80.2h0M202.6 59.9h0M203.3 84.7h0M208.4 84.4h0M199.6 82.4h0M189.7 83.4h0M186.8 79.1h0M209.3 81.9h0M206.6 82.9h0M209.9 85.8h0M212.8 84.2h0M207.0 83.9h0M201.5 80.8h0M213.7 81.2h0M206.8 83.8h0M190.8 55.4h0M203.5 82.2h0M205.0 81.6h0M190.1 78.7h0M211.0 81.9h0M223.8 84.8h0M202.4 85.0h0M204.8 82.5h0M186.1 84.2h0M210.7 82.6h0M207.7 78.4h0M187.5 85.3h0M185.3 83.5h0M199.2 83.0h0M188.3 82.9h0M213.9 81.6h0M212.0 80.2h0M203.5 80.1h0M189.8 81.9h0M185.4 79.9h0M200.5 82.2h0M191.1 62.9h0M186.0 81.1h0M192.0 82.8h0M203.7 78.5h0M205.8 82.6h0M212.0 81.7h0M186.5 55.7h0M189.2 83.6h0M203.8 84.0h0M212.6 81.6h0M197.5 81.7h0M205.6 81.5h0M204.2 79.6h0M207.7 80.3h0M210.6 79.2h0M189.2 83.5h0M188.1 76.7h0M203.6 79.4h0M208.0 62.3h0M205.6 84.5h0M211.5 55.9h0M195.9 39.9h0M207.8 59.3h0M188.1 81.2h0M188.0 82.7h0M218.2 84.4h0M188.9 80.6h0M216.9 80.6h0M208.2 80.7h0M218.6 83.7h0M197.2 80.7h0M212.2 85.4h0M203.2 52.4h0M208.2 84.3h0M205.3 85.1h0M191.1 81.9h0M214.9 83.8h0M192.1 86.3h0M199.6 82.3h0M196.8 78.5h0M202.2 83.2h0M187.9 78.0h0M205.9 80.2h0M206.6 80.6h0M198.9 83.9h0M216.6 52.5h0M212.9 86.2h0M203.7 57.4h0M217.4 85.0h0M190.2 83.8h0M204.1 80.4h0M211.5 79.9h0M201.9 80.2h0M201.6 84.7h0M187.3 81.6h0M209.3 82.1h0M203.5 75.4h0M210.4 82.6h0M214.6 79.2h0M187.5 82.9h0M187.9 82.6h0M203.5 83.5h0M193.9 81.9h0M204.1 80.0h0M204.9 66.3h0M192.9 84.0h0M185.8 84.0h0M189.7 81.3h0M203.2 56.4h0M185.8 81.4h0M206.2 81.2h0M188.3 63.6h0M206.6 51.6h0M201.5 66.1h0M185.4 85.1h0M210.4 79.4h0M211.3 82.8h0M192.5 53.7h0M191.6 80.8h0M187.9 84.3h0M218.2 87.3h0M210.5 84.6h0M205.5 55.6h0M189.5 79.1h0M213.2 82.0h0M210.3 83.4h0M194.2 81.3h0M188.8 56.4h0M205.9 82.5h0M209.9 58.0h0M203.1 79.9h0M202.4 84.6h0M213.1 82.9h0M200.9 83.1h0M210.8 81.2h0M206.0 64.1h0M205.0 78.2h0M207.5 84.5h0M211.7 84.1h0M189.4 83.0h0M184.2 84.7h0M213.8 46.0h0M210.8 83.8h0M206.3 81.7h0M196.0 84.5h0M223.5 83.1h0M213.1 49.6h0M194.4 85.0h0M203.7 83.7h0M197.0 81.7h0M207.2 82.8h0M190.0 63.3h0M188.5 79.3h0M187.4 81.0h0M189.0 84.0h0M218.4 82.2h0M200.7 80.5h0M197.3 84.5h0M215.5 83.8h0M208.6 81.2h0M197.3 84.5h0M208.4 85.6h0M188.2 58.6h0M216.8 83.5h0M211.9 81.5h0M204.1 85.0h0M207.1 83.1h0M211.6 80.1h0M204.5 60.5h0M211.2 81.8h0M207.1 84.5h0M205.4 82.7h0M210.8 84.3h0M206.5 78.2h0M211.8 78.3h0M210.7 81.3h0M188.1 81.2h0M186.9 81.7h0M195.8 86.0h0M204.5 81.0h0M195.4 82.2h0M194.4 83.7h0M207.8 79.0h0M199.1 81.0h0" stroke="#000" stroke-opacity="0.2" stroke-width="0.8" stroke-linecap="round" fill="none"/>
<path d="M205.5 83.2h0M206.1 85.2h0M203.0 86.5h0M207.1 82.9h0M186.0 83.8h0M191.4 82.2h0M190.4 80.6h0M196.9 85.2h0M216.5 78.2h0M199.2 78.8h0M207.2 85.2h0M199.6 81.4h0M188.2 79.5h0M207.9 82.8h0M200.2 58.3h0M193.9 63.6h0M207.9 51.2h0M190.2 60.9h0M221.2 82.2h0M190.1 81.3h0M211.7 60.7h0M212.5 80.2h0M206.0 60.8h0M212.4 51.7h0M208.4 64.0h0M214.4 82.5h0M206.3 81.1h0M182.7 84.3h0M187.8 63.3h0M212.2 81.2h0M213.3 77.1h0M185.4 82.3h0M187.3 81.5h0M193.2 61.4h0M187.5 80.8h0M187.2 78.9h0M186.3 86.0h0M200.8 44.5h0M199.9 79.9h0M216.0 86.8h0M208.9 81.5h0M187.7 85.8h0M209.2 86.7h0M220.8 82.3h0M207.0 54.3h0M187.7 55.0h0M205.2 86.3h0M187.5 87.5h0M214.4 81.9h0M199.7 53.7h0M206.9 82.9h0M211.8 80.1h0M189.4 85.0h0M189.3 85.8h0M210.5 84.5h0M214.8 85.0h0M190.6 84.5h0M219.8 85.3h0M200.0 78.5h0M215.0 80.9h0M200.8 81.3h0M210.4 83.0h0M200.1 78.2h0M184.0 83.3h0M215.1 85.0h0M187.9 84.1h0M186.7 83.1h0M204.7 82.9h0M203.7 80.9h0M203.9 50.6h0M196.2 83.4h0M205.3 81.8h0M205.2 83.8h0M215.7 85.2h0M211.6 86.4h0M202.3 86.1h0M206.6 52.2h0M212.7 50.5h0M201.4 79.5h0M206.4 82.9h0M206.8 80.0h0M209.9 86.4h0M211.6 82.3h0M204.8 82.0h0M211.5 81.7h0M196.9 81.7h0M188.0 83.5h0M208.3 79.5h0M195.8 82.3h0M220.6 86.1h0M209.6 82.9h0M214.2 84.7h0M187.7 84.0h0M186.9 83.2h0M189.1 83.2h0M188.1 80.2h0M207.4 61.5h0M204.7 83.8h0M209.8 80.0h0M199.9 83.2h0M216.0 61.7h0M188.6 82.1h0M199.4 85.6h0M200.8 82.2h0M191.8 78.7h0M190.8 83.3h0M188.7 83.5h0M202.1 58.6h0M206.6 86.1h0M185.3 82.9h0M205.8 83.6h0M219.9 56.9h0M209.3 83.2h0M213.7 82.6h0M201.0 83.4h0M211.2 86.1h0M208.2 59.8h0M202.3 50.3h0M196.2 87.1h0M191.9 81.5h0M211.4 81.4h0M192.9 85.0h0M195.2 84.7h0M190.8 80.3h0M184.7 80.8h0M227.5 78.9h0M212.9 86.1h0M214.3 82.8h0M210.2 81.2h0M194.0 82.7h0M212.2 83.4h0M205.3 84.6h0M214.6 81.1h0M204.3 50.7h0M209.2 82.6h0M213.4 56.1h0M187.2 86.2h0M203.7 82.7h0M211.3 84.8h0M193.9 85.1h0M210.6 82.2h0M205.8 80.1h0M211.3 83.0h0M215.6 56.0h0M191.2 83.4h0M193.1 79.6h0M205.0 82.4h0M198.0 82.0h0M188.6 83.3h0M208.9 81.8h0M193.0 82.1h0M197.4 85.4h0M207.0 82.7h0M199.7 83.7h0M191.2 77.9h0M187.8 83.9h0M192.1 82.0h0M212.0 89.2h0M205.5 54.1h0M194.2 48.9h0M204.3 82.1h0M200.7 82.2h0M188.6 54.8h0M201.3 47.7h0M190.1 58.7h0M208.4 82.2h0M190.5 84.4h0M190.1 83.8h0M217.7 83.5h0M191.9 54.6h0M217.2 86.9h0M190.0 82.6h0M206.8 79.6h0M190.0 84.1h0M196.9 81.6h0M209.0 83.0h0M208.4 82.2h0M193.1 83.9h0M185.8 82.7h0M200.1 51.9h0M207.9 54.7h0M218.3 86.0h0M193.2 82.4h0M208.5 84.7h0M189.8 79.7h0" stroke="#000" stroke-opacity="0.2" stroke-width="0.8" stroke-linecap="round" fill="none"/>
<path d="M186.4 78.1h0M205.8 52.7h0M200.4 83.7h0M206.6 82.9h0M204.8 60.6h0M196.5 82.8h0M205.5 78.0h0M210.9 79.6h0M201.3 82.6h0M204.7 83.1h0M214.5 59.0h0M209.9 85.7h0M215.7 85.3h0M208.7 78.2h0M204.5 85.2h0M209.8 81.7h0M184.9 83.6h0M211.1 84.1h0M198.1 50.5h0M198.4 83.6h0M206.0 83.6h0M201.0 82.0h0M194.4 86.0h0M203.1 85.6h0M201.9 85.3h0M192.0 85.2h0M207.8 80.4h0M212.9 61.0h0M217.2 49.1h0M188.4 79.2h0M212.1 79.2h0M209.2 84.4h0M203.7 58.2h0M188.3 80.6h0M213.3 76.7h0M188.1 83.8h0M208.9 70.0h0M201.6 85.3h0M212.4 80.4h0M198.2 85.5h0M205.1 82.0h0M205.8 77.3h0M212.1 80.8h0M211.9 59.9h0M203.9 82.4h0M221.1 81.6h0M210.9 82.3h0M199.4 82.5h0M211.9 84.7h0M212.8 80.0h0M193.1 86.4h0M218.0 85.1h0M215.1 83.0h0M203.2 63.2h0M210.0 76.1h0M196.1 55.6h0M197.8 82.1h0M208.4 81.0h0M184.3 81.8h0M194.3 87.1h0M211.2 82.2h0M193.1 62.2h0M198.8 81.5h0M210.6 80.7h0M215.0 83.5h0M185.3 85.6h0M202.1 77.9h0M206.9 57.5h0M209.5 78.6h0M198.2 77.3h0M203.4 80.3h0M208.4 81.2h0M203.4 80.9h0M198.4 65.3h0M207.7 82.9h0M203.5 82.9h0M204.4 80.1h0M214.9 83.3h0M208.5 56.1h0M215.8 80.9h0M188.0 83.9h0M201.3 83.4h0M209.1 69.2h0M207.5 83.1h0M209.8 82.9h0M205.0 84.0h0M200.9 83.2h0M209.5 47.2h0M205.2 81.6h0M198.4 81.1h0M211.2 52.6h0M188.3 85.2h0M210.7 86.9h0M218.6 83.5h0M210.1 58.1h0M190.3 40.2h0M210.5 84.9h0M226.6 80.1h0M205.7 82.3h0M188.2 84.4h0M191.2 57.0h0M204.5 83.3h0M195.2 84.2h0M204.9 81.6h0M191.3 83.7h0M207.6 81.8h0M209.5 81.9h0M209.4 77.6h0M205.9 82.4h0M201.1 82.5h0M214.4 83.2h0M185.1 82.7h0M200.0 66.8h0M208.1 80.5h0M204.4 81.9h0M192.0 81.5h0M203.4 81.5h0M217.7 87.5h0M210.3 84.6h0M224.3 84.1h0M190.4 80.8h0M191.3 84.1h0M211.4 55.7h0M195.9 80.1h0M204.6 84.7h0M202.5 86.7h0M187.5 82.6h0M203.5 54.7h0M220.4 82.2h0M187.2 84.2h0M191.6 57.0h0M205.8 80.6h0M200.3 50.1h0M187.6 80.4h0M211.1 52.5h0M202.1 55.9h0M204.0 83.6h0M203.5 57.4h0M198.8 80.3h0M208.9 82.1h0M192.1 86.1h0M209.9 83.4h0M212.2 83.6h0M192.1 81.8h0M207.0 84.0h0M195.3 82.5h0M207.4 55.9h0M219.4 85.1h0M181.3 84.3h0M208.8 83.1h0M207.2 79.3h0M212.6 79.2h0M193.6 87.1h0M209.2 58.8h0M208.1 79.0h0M197.2 84.5h0M210.5 83.4h0M203.5 80.8h0M189.4 62.2h0M187.5 83.0h0M219.1 86.8h0M209.9 84.3h0M202.0 55.5h0M187.2 57.8h0M203.1 90.4h0M202.0 83.7h0M203.2 84.3h0M193.8 84.0h0M209.5 84.6h0M214.9 82.2h0M214.2 81.5h0M203.0 83.5h0M190.7 82.6h0M206.9 82.4h0M205.6 80.2h0M193.6 82.8h0M207.9 84.9h0M185.9 84.5h0M190.8 83.7h0M205.8 59.9h0M195.7 83.4h0M222.0 83.0h0M193.4 84.5h0M214.2 53.0h0M207.8 80.4h0" stroke="#000" stroke-opacity="0.2" stroke-width="0.8" stroke-linecap="round" fill="none"/>
<path d="M217.6 84.9h0M216.8 86.5h0M191.0 84.8h0M187.3 82.5h0M187.9 84.2h0M187.9 82.0h0M200.0 54.7h0M201.7 82.7h0M196.4 87.3h0M206.2 85.1h0M187.2 65.5h0M189.4 84.0h0M214.5 81.7h0M216.1 84.1h0M204.8 85.6h0M194.2 80.6h0M204.6 78.8h0M218.8 82.1h0M213.9 54.7h0M220.8 81.8h0M213.4 83.1h0M197.1 81.5h0M208.1 82.1h0M197.5 85.0h0M210.6 80.5h0M186.3 79.5h0M200.0 48.2h0M186.6 79.8h0M209.3 79.6h0M216.4 83.5h0M215.5 82.3h0M191.9 58.1h0M208.5 84.2h0M186.5 82.9h0M208.0 84.8h0M226.8 84.2h0M203.7 80.8h0M207.1 82.7h0M211.4 58.9h0M206.3 80.0h0M209.2 83.7h0M207.8 67.4h0M187.5 83.3h0M209.6 83.9h0M213.7 83.4h0M217.2 78.2h0M188.8 83.2h0M208.0 50.8h0M197.2 82.5h0M203.6 82.6h0M203.4 81.1h0M209.1 82.6h0M208.0 81.1h0M193.9 81.3h0M188.1 54.5h0M203.1 83.0h0M205.0 80.5h0M205.9 57.2h0M211.1 86.9h0M187.9 81.3h0M209.9 78.6h0M207.9 81.1h0M190.5 63.4h0M209.4 84.4h0M207.6 78.6h0M210.4 81.1h0M207.9 80.6h0M209.5 86.3h0M212.3 84.7h0M206.9 78.7h0M186.0 84.5h0M214.2 82.5h0M198.2 86.4h0M194.1 64.4h0M190.8 84.6h0M190.9 83.1h0M193.1 78.9h0M189.9 52.5h0M204.7 82.9h0M226.1 80.5h0M215.9 80.4h0M202.8 81.9h0M206.9 79.2h0M188.0 86.2h0M194.8 49.9h0M192.8 84.8h0M212.4 85.0h0M194.9 79.7h0M209.4 80.3h0M208.7 57.6h0M208.5 85.2h0M188.1 79.7h0M212.4 81.0h0M184.1 78.9h0M202.3 82.9h0M207.3 80.3h0M201.4 83.9h0M205.9 47.3h0M204.5 83.6h0M192.3 82.1h0M190.1 84.4h0M205.6 62.8h0M195.7 81.4h0M190.6 82.7h0M192.2 79.1h0M192.9 84.1h0M187.6 84.2h0M211.3 59.2h0M198.9 86.8h0M214.9 81.2h0M199.0 82.2h0M187.1 80.8h0M207.0 63.1h0M202.3 86.7h0M214.8 84.3h0M205.2 85.6h0M187.8 87.5h0M208.3 84.0h0M190.2 65.1h0M189.1 82.3h0M201.6 83.6h0M189.3 82.4h0M187.7 81.5h0M186.7 81.6h0M211.1 81.7h0M194.6 84.4h0M217.9 81.8h0M209.9 81.1h0M206.3 81.3h0M207.5 56.8h0M187.8 83.6h0M200.4 85.4h0M196.0 88.6h0M205.2 79.0h0M188.2 84.8h0M198.3 80.7h0M182.4 83.7h0M209.0 59.0h0M205.1 54.4h0M198.4 81.7h0M206.5 59.9h0M207.3 85.5h0M206.8 83.8h0M187.1 84.9h0M203.7 83.0h0M218.4 82.4h0M204.8 81.6h0M187.6 84.3h0M191.4 84.5h0M216.2 83.8h0M192.4 62.3h0M193.5 81.4h0M190.6 83.5h0M215.8 59.3h0M190.2 78.6h0M201.0 81.0h0M212.5 79.9h0M183.0 80.5h0M202.8 53.4h0M206.4 81.0h0M199.9 82.8h0M188.0 82.0h0M207.3 86.0h0M188.5 80.9h0M210.1 51.3h0M204.3 51.5h0M208.1 82.6h0M191.0 85.0h0M186.6 80.9h0M212.5 84.3h0M201.5 78.1h0M210.2 49.5h0M211.3 62.6h0M225.8 80.6h0M187.9 79.9h0M186.9 82.6h0M203.5 82.6h0M189.5 82.1h0M214.4 83.6h0M182.4 82.3h0M201.3 79.5h0M212.6 81.0h0M202.7 81.1h0M211.9 83.7h0M188.6 86.2h0" stroke="#000" stroke-opacity="0.2" stroke-width="0.8" stroke-linecap="round" fill="none"/>
<path d="M185.2 80.0h0M211.8 79.9h0M201.4 77.9h0M202.4 78.3h0M202.8 83.6h0M203.6 57.3h0M198.2 77.6h0M187.6 85.3h0M212.3 86.8h0M220.2 47.4h0M212.7 83.3h0M207.5 81.0h0M208.9 80.6h0M186.8 83.0h0M185.0 80.6h0M219.8 83.2h0M206.1 83.3h0M189.3 62.8h0M195.3 83.4h0M186.5 77.4h0M217.0 85.1h0M205.2 84.1h0M211.7 84.7h0M196.7 81.9h0M204.6 84.0h0M206.8 80.5h0M204.5 58.0h0M204.3 83.4h0M204.4 82.6h0M200.1 82.5h0M218.1 87.0h0M189.2 80.1h0M185.4 84.6h0M201.7 83.9h0M214.4 83.5h0M198.5 83.9h0M207.2 81.2h0M188.9 81.9h0M215.9 80.3h0M207.9 87.5h0M193.9 82.4h0M190.6 83.7h0M205.3 79.9h0M210.8 80.4h0M184.5 82.5h0M184.7 77.2h0M216.7 84.3h0M209.4 83.9h0M189.3 82.9h0M209.1 76.1h0M203.1 83.0h0M189.1 86.6h0M215.0 82.5h0M201.3 84.2h0M215.9 81.9h0M190.4 82.4h0M198.7 54.9h0M206.5 59.2h0M216.5 80.5h0M201.5 83.4h0M199.8 80.8h0M214.3 51.3h0M206.8 59.8h0M205.6 84.3h0M207.9 78.7h0M200.2 81.3h0M191.8 79.9h0M204.9 81.9h0M190.4 83.9h0M187.1 60.9h0M190.0 85.9h0M191.0 81.9h0M207.9 85.5h0M182.0 85.9h0M189.2 78.9h0M213.1 77.7h0M200.4 78.7h0M202.3 84.8h0M188.6 82.6h0M205.0 55.3h0M210.9 81.9h0M192.1 85.7h0M207.9 83.3h0M209.7 65.3h0M208.3 63.9h0M201.3 87.3h0M208.1 84.0h0M195.6 60.5h0M190.0 80.8h0M190.1 58.9h0M219.4 82.7h0M202.0 81.8h0M204.4 85.4h0M195.7 83.6h0M213.6 80.4h0M211.3 83.7h0M202.0 82.3h0M206.4 55.3h0M199.9 80.5h0M206.1 81.1h0M213.6 81.2h0M202.8 82.5h0M200.2 61.4h0M192.7 78.7h0M217.9 62.7h0M216.0 79.5h0M208.6 50.4h0M202.2 83.5h0M204.9 78.4h0M216.7 79.9h0M214.9 79.2h0M186.2 82.7h0M190.6 77.8h0M190.6 55.9h0M200.4 83.2h0M209.0 83.2h0M199.4 56.5h0M212.2 81.5h0M186.9 48.2h0M208.5 82.1h0M189.6 78.7h0M209.3 49.3h0M205.5 83.9h0M190.5 78.6h0M211.7 59.4h0M198.6 82.2h0M190.6 87.0h0M207.8 78.7h0M189.5 54.4h0M206.5 61.2h0M212.1 81.2h0M210.0 82.4h0M208.2 59.1h0M205.8 82.2h0M188.8 82.9h0M204.0 81.5h0M209.5 81.4h0M208.2 79.3h0M190.2 85.2h0M203.8 80.1h0M199.2 84.0h0M187.7 82.5h0M206.5 78.5h0M206.4 84.8h0M203.6 86.2h0M188.0 58.3h0M189.1 83.3h0M215.8 84.5h0M200.4 83.7h0M187.7 78.6h0M216.1 82.7h0M190.0 80.2h0M204.8 59.2h0M211.5 84.9h0M210.5 60.0h0M211.0 58.6h0M201.8 80.1h0M192.0 81.4h0M210.3 81.8h0M198.8 87.8h0M190.0 80.4h0M208.8 79.3h0M194.5 59.2h0M200.7 80.7h0M193.2 83.7h0M204.8 79.1h0M199.8 83.1h0M208.9 64.6h0M187.4 81.8h0M206.4 87.6h0M210.0 47.6h0M190.0 81.8h0M210.3 78.7h0M216.6 85.9h0M202.8 80.4h0M212.0 86.4h0M192.9 86.9h0M187.5 79.0h0M183.1 79.2h0M186.6 85.0h0M204.0 82.4h0M204.9 85.2h0M212.4 51.1h0M189.4 79.1h0M215.5 84.2h0" stroke="#000" stroke-opacity="0.2" stroke-width="0.8" stroke-linecap="round" fill="none"/>
<path d="M211.8 81.5h0M203.7 83.1h0M183.6 82.4h0M205.9 84.2h0M188.7 81.7h0M205.1 83.4h0M204.9 84.4h0M206.2 54.0h0M205.2 83.5h0M184.9 54.7h0M209.3 84.7h0M213.7 83.4h0M215.8 82.6h0M189.5 81.0h0M210.8 86.1h0M201.2 83.9h0M213.8 56.2h0M215.5 86.3h0M217.9 84.6h0M212.9 78.7h0M200.9 79.6h0M204.4 84.1h0M212.1 58.5h0M191.4 82.2h0M189.6 84.6h0M203.1 57.9h0M205.6 79.7h0M212.0 83.7h0M226.4 85.8h0M223.7 78.1h0M190.7 63.3h0M206.0 85.2h0M188.6 85.8h0M213.3 81.5h0M189.2 63.3h0M188.0 84.6h0M219.9 83.5h0M213.6 84.8h0M208.9 80.5h0M200.9 82.5h0M203.9 63.2h0M202.9 82.1h0M209.3 60.1h0M210.7 84.9h0M207.8 84.2h0M214.0 60.4h0M187.4 78.9h0M185.2 80.6h0M196.3 63.2h0M202.6 81.1h0M203.9 78.1h0M182.4 78.5h0M208.6 79.5h0M220.7 80.1h0M205.9 79.6h0M187.0 82.0h0M202.3 81.2h0M213.3 80.3h0M213.1 60.1h0M214.5 82.8h0M200.5 81.7h0M207.2 77.6h0M198.8 87.9h0M193.1 81.0h0M207.3 49.9h0M187.2 80.8h0M187.9 79.1h0M205.7 79.3h0M192.6 83.4h0M201.1 51.5h0M203.8 81.8h0M216.7 47.8h0M190.3 84.8h0M203.3 79.3h0M208.5 81.8h0M188.5 83.2h0M204.7 83.9h0M203.3 80.2h0M197.7 87.5h0M189.2 83.5h0M202.5 55.2h0M204.0 64.3h0M212.9 57.9h0M213.0 56.9h0M202.8 83.5h0M202.6 80.6h0M212.4 79.2h0M199.6 54.7h0M209.9 85.2h0M192.0 83.2h0M201.0 85.8h0M207.2 84.4h0M192.6 84.3h0M207.4 85.7h0M205.0 85.0h0M205.8 83.7h0M205.5 83.6h0M210.5 79.6h0M220.3 82.4h0M209.5 84.3h0M204.0 83.1h0M189.0 87.1h0M201.2 81.8h0M183.2 80.7h0M199.6 80.7h0M187.5 81.6h0M204.8 42.6h0M197.8 85.4h0M213.7 80.5h0M188.3 80.7h0M209.3 58.6h0M202.5 78.9h0M207.1 81.2h0M195.3 84.0h0M197.4 80.0h0M211.7 83.0h0M209.8 86.0h0M216.3 80.5h0M207.7 86.3h0M215.0 84.7h0M197.7 83.8h0M191.3 80.2h0M185.1 88.3h0M213.3 83.3h0M209.4 57.2h0M214.2 82.9h0M191.9 83.9h0M199.5 81.3h0M194.7 89.1h0M196.4 81.9h0M211.3 80.3h0M210.3 80.9h0M202.2 53.4h0M216.0 84.1h0M202.1 79.8h0M219.1 82.2h0M189.2 86.7h0M184.8 80.8h0M208.0 78.3h0M206.4 86.5h0M190.7 82.0h0M217.7 83.6h0M190.4 82.0h0M187.1 82.9h0M209.4 88.0h0M209.3 83.0h0M208.8 79.1h0M218.9 84.9h0M205.5 58.9h0M205.4 78.1h0M197.5 83.8h0M199.3 85.0h0M187.4 51.1h0M202.3 54.7h0M209.4 54.2h0M201.5 61.0h0M206.7 59.9h0M202.0 51.2h0M205.3 57.8h0M190.8 80.3h0M202.2 79.0h0M202.0 84.4h0M184.1 82.8h0M206.8 56.8h0M196.6 82.7h0M188.8 83.9h0M210.8 78.8h0M215.4 84.7h0M203.2 63.0h0M203.1 79.2h0M208.2 82.5h0M202.7 85.3h0M186.1 80.2h0M208.4 84.7h0M194.1 56.7h0M204.1 82.9h0M202.4 79.4h0M218.1 85.2h0M208.1 83.3h0M198.5 77.4h0M197.1 61.9h0M211.4 59.2h0M203.0 47.5h0M193.5 80.7h0M211.3 62.1h0" stroke="#000" stroke-opacity="0.2" stroke-width="0.8" stroke-linecap="round" fill="none"/>
<line x1="273.9" y1="44.6" x2="273.9" y2="117.2" stroke="#111" stroke-width="1.8" />
<line x1="271.4" y1="47.6" x2="273.9" y2="47.6" stroke="#111" stroke-width="1.8" />
<text x="268.2" y="50.3" font-size="7.9" text-anchor="end" >80</text>
<line x1="271.4" y1="64.9" x2="273.9" y2="64.9" stroke="#111" stroke-width="1.8" />
<text x="268.2" y="67.6" font-size="7.9" text-anchor="end" >60</text>
<line x1="271.4" y1="82.1" x2="273.9" y2="82.1" stroke="#111" stroke-width="1.8" />
<text x="268.2" y="84.8" font-size="7.9" text-anchor="end" >40</text>
<line x1="271.4" y1="99.4" x2="273.9" y2="99.4" stroke="#111" stroke-width="1.8" />
<text x="268.2" y="102.1" font-size="7.9" text-anchor="end" >20</text>
<line x1="271.4" y1="116.6" x2="273.9" y2="116.6" stroke="#111" stroke-width="1.8" />
<text x="268.2" y="119.3" font-size="7.9" text-anchor="end" >0</text>
<line x1="273.0" y1="116.6" x2="378.6" y2="116.6" stroke="#111" stroke-width="1.8" />
<line x1="287.3" y1="116.6" x2="287.3" y2="119.1" stroke="#111" stroke-width="1.8" />
<line x1="313.1" y1="116.6" x2="313.1" y2="119.1" stroke="#111" stroke-width="1.8" />
<line x1="339.1" y1="116.6" x2="339.1" y2="119.1" stroke="#111" stroke-width="1.8" />
<line x1="365.2" y1="116.6" x2="365.2" y2="119.1" stroke="#111" stroke-width="1.8" />
<rect x="277.45" y="107.98" width="5.20" height="8.62" fill="#cb8784" />
<circle cx="280.1" cy="106.3" r="1.46" fill="#a3182c"/>
<circle cx="279.1" cy="108.4" r="1.46" fill="#a3182c"/>
<circle cx="281.1" cy="108.8" r="1.46" fill="#a3182c"/>
<rect x="284.70" y="104.70" width="5.20" height="11.90" fill="#8d98bc" />
<rect x="283.6" y="97.8" width="2.7" height="2.7" fill="#1f3566"/>
<rect x="286.8" y="100.9" width="2.7" height="2.7" fill="#1f3566"/>
<rect x="286.0" y="109.7" width="2.7" height="2.7" fill="#1f3566"/>
<rect x="291.95" y="106.26" width="5.20" height="10.34" fill="#b6d29d" />
<path d="M292.9 101.1L294.6 98.1L296.2 101.1z" fill="#6f9f4a"/>
<path d="M291.7 107.6L293.4 104.6L295.0 107.6z" fill="#6f9f4a"/>
<path d="M294.1 107.6L295.8 104.6L297.4 107.6z" fill="#6f9f4a"/>
<rect x="303.25" y="112.72" width="5.20" height="3.88" fill="#cb8784" />
<circle cx="305.9" cy="111.9" r="1.46" fill="#a3182c"/>
<circle cx="304.9" cy="113.2" r="1.46" fill="#a3182c"/>
<circle cx="306.9" cy="113.6" r="1.46" fill="#a3182c"/>
<rect x="310.50" y="112.29" width="5.20" height="4.31" fill="#8d98bc" />
<rect x="311.8" y="110.1" width="2.7" height="2.7" fill="#1f3566"/>
<rect x="310.8" y="111.8" width="2.7" height="2.7" fill="#1f3566"/>
<rect x="312.8" y="112.7" width="2.7" height="2.7" fill="#1f3566"/>
<rect x="317.75" y="111.00" width="5.20" height="5.60" fill="#b6d29d" />
<path d="M318.7 111.5L320.4 108.5L322.0 111.5z" fill="#6f9f4a"/>
<path d="M317.7 113.2L319.4 110.2L321.0 113.2z" fill="#6f9f4a"/>
<path d="M319.7 113.2L321.4 110.2L323.0 113.2z" fill="#6f9f4a"/>
<rect x="329.25" y="68.33" width="5.20" height="48.27" fill="#cb8784" />
<circle cx="331.9" cy="64.4" r="1.46" fill="#a3182c"/>
<circle cx="331.9" cy="69.1" r="1.46" fill="#a3182c"/>
<circle cx="331.9" cy="75.2" r="1.46" fill="#a3182c"/>
<rect x="336.50" y="74.36" width="5.20" height="42.24" fill="#8d98bc" />
<rect x="337.8" y="60.5" width="2.7" height="2.7" fill="#1f3566"/>
<rect x="337.8" y="71.9" width="2.7" height="2.7" fill="#1f3566"/>
<rect x="337.8" y="87.0" width="2.7" height="2.7" fill="#1f3566"/>
<rect x="343.75" y="75.83" width="5.20" height="40.77" fill="#b6d29d" />
<path d="M344.7 67.8L346.4 64.8L348.0 67.8z" fill="#6f9f4a"/>
<path d="M344.7 77.2L346.4 74.1L348.0 77.2z" fill="#6f9f4a"/>
<path d="M344.7 87.8L346.4 84.7L348.0 87.8z" fill="#6f9f4a"/>
<rect x="355.35" y="91.26" width="5.20" height="25.34" fill="#cb8784" />
<circle cx="357.9" cy="84.1" r="1.46" fill="#a3182c"/>
<circle cx="356.4" cy="92.3" r="1.46" fill="#a3182c"/>
<circle cx="359.4" cy="92.3" r="1.46" fill="#a3182c"/>
<rect x="362.60" y="88.58" width="5.20" height="28.02" fill="#8d98bc" />
<rect x="363.9" y="77.3" width="2.7" height="2.7" fill="#1f3566"/>
<rect x="362.4" y="92.0" width="2.7" height="2.7" fill="#1f3566"/>
<rect x="365.4" y="90.4" width="2.7" height="2.7" fill="#1f3566"/>
<rect x="369.85" y="89.02" width="5.20" height="27.58" fill="#b6d29d" />
<path d="M369.6 86.1L371.2 83.1L372.9 86.1z" fill="#6f9f4a"/>
<path d="M372.0 87.2L373.6 84.1L375.3 87.2z" fill="#6f9f4a"/>
<path d="M370.8 97.1L372.4 94.1L374.1 97.1z" fill="#6f9f4a"/>
<text x="287.3" y="130.2" font-size="7.9" text-anchor="middle" >Naive</text>
<text x="313.1" y="130.2" font-size="7.9" text-anchor="middle" >CM</text>
<text x="339.1" y="130.2" font-size="7.9" text-anchor="middle" >EM</text>
<text x="365.2" y="130.2" font-size="7.9" text-anchor="middle" >EMRA</text>
<text x="253.2" y="80.6" font-size="9.3" text-anchor="middle" textLength="86" lengthAdjust="spacingAndGlyphs" transform="rotate(-90 253.2 80.6)" >Frequency of cells (%)</text>
<rect x="280.20" y="29.50" width="7.80" height="4.60" fill="#cb8784" />
<text x="290.6" y="34.4" font-size="7.9" >Cas9</text>
<rect x="280.20" y="39.30" width="7.80" height="4.60" fill="#8d98bc" />
<text x="290.6" y="44.2" font-size="7.9" >Cas9 / Ctrl</text>
<rect x="280.20" y="49.10" width="7.80" height="4.60" fill="#b6d29d" />
<text x="290.6" y="54.0" font-size="7.9" >Cas9 / CD7<tspan dy="-3" font-size="5.5">KO</tspan></text>
<line x1="423.6" y1="46.2" x2="423.6" y2="117.6" stroke="#111" stroke-width="1.8" />
<line x1="421.1" y1="48.2" x2="423.6" y2="48.2" stroke="#111" stroke-width="1.8" />
<text x="417.9" y="50.9" font-size="7.9" text-anchor="end" >100</text>
<line x1="421.1" y1="65.4" x2="423.6" y2="65.4" stroke="#111" stroke-width="1.8" />
<text x="417.9" y="68.1" font-size="7.9" text-anchor="end" >75</text>
<line x1="421.1" y1="82.6" x2="423.6" y2="82.6" stroke="#111" stroke-width="1.8" />
<text x="417.9" y="85.3" font-size="7.9" text-anchor="end" >50</text>
<line x1="421.1" y1="99.8" x2="423.6" y2="99.8" stroke="#111" stroke-width="1.8" />
<text x="417.9" y="102.5" font-size="7.9" text-anchor="end" >25</text>
<line x1="421.1" y1="117.0" x2="423.6" y2="117.0" stroke="#111" stroke-width="1.8" />
<text x="417.9" y="119.7" font-size="7.9" text-anchor="end" >0</text>
<line x1="422.7" y1="117.0" x2="509.5" y2="117.0" stroke="#111" stroke-width="1.8" />
<line x1="438.7" y1="117.0" x2="438.7" y2="119.5" stroke="#111" stroke-width="1.8" />
<line x1="468.1" y1="117.0" x2="468.1" y2="119.5" stroke="#111" stroke-width="1.8" />
<line x1="497.9" y1="117.0" x2="497.9" y2="119.5" stroke="#111" stroke-width="1.8" />
<rect x="430.10" y="57.49" width="6.80" height="59.51" fill="#9679ab" />
<path d="M430.1 58.7L431.6 56.0L433.1 58.7z" fill="#4a2a6e"/>
<path d="M433.6 59.3L435.1 56.6L436.6 59.3z" fill="#4a2a6e"/>
<path d="M432.0 64.0L433.5 61.3L435.0 64.0z" fill="#4a2a6e"/>
<rect x="440.90" y="106.34" width="6.80" height="10.66" fill="#f6d2a0" />
<rect x="443.1" y="101.4" width="2.4" height="2.4" fill="#c8901f"/>
<rect x="441.5" y="107.1" width="2.4" height="2.4" fill="#c8901f"/>
<rect x="444.7" y="107.1" width="2.4" height="2.4" fill="#c8901f"/>
<rect x="459.50" y="58.31" width="6.80" height="58.69" fill="#9679ab" />
<path d="M459.4 58.5L460.9 55.8L462.4 58.5z" fill="#4a2a6e"/>
<path d="M463.0 59.9L464.5 57.2L466.0 59.9z" fill="#4a2a6e"/>
<path d="M461.7 64.2L463.2 61.5L464.7 64.2z" fill="#4a2a6e"/>
<rect x="470.30" y="105.99" width="6.80" height="11.01" fill="#f6d2a0" />
<rect x="472.5" y="101.4" width="2.4" height="2.4" fill="#c8901f"/>
<rect x="470.9" y="107.1" width="2.4" height="2.4" fill="#c8901f"/>
<rect x="474.3" y="106.5" width="2.4" height="2.4" fill="#c8901f"/>
<rect x="489.30" y="63.13" width="6.80" height="53.87" fill="#9679ab" />
<path d="M489.5 63.3L491.0 60.6L492.5 63.3z" fill="#4a2a6e"/>
<path d="M492.7 64.2L494.2 61.5L495.7 64.2z" fill="#4a2a6e"/>
<path d="M491.4 66.2L492.9 63.5L494.4 66.2z" fill="#4a2a6e"/>
<rect x="500.10" y="101.52" width="6.80" height="15.48" fill="#f6d2a0" />
<rect x="501.1" y="98.8" width="2.4" height="2.4" fill="#c8901f"/>
<rect x="503.8" y="100.1" width="2.4" height="2.4" fill="#c8901f"/>
<rect x="502.3" y="104.1" width="2.4" height="2.4" fill="#c8901f"/>
<line x1="432.3" y1="45.3" x2="493.2" y2="45.3" stroke="#111" stroke-width="1.15" />
<line x1="432.3" y1="54.4" x2="461.6" y2="54.4" stroke="#111" stroke-width="1.15" />
<line x1="465.3" y1="54.4" x2="495.5" y2="54.4" stroke="#111" stroke-width="1.15" />
<text x="462.6" y="42.8" font-size="7.6" text-anchor="middle" >ns</text>
<text x="447.8" y="52.0" font-size="7.6" text-anchor="middle" >ns</text>
<text x="480.3" y="52.0" font-size="7.6" text-anchor="middle" >ns</text>
<text x="437.8" y="129.9" font-size="8.2" text-anchor="middle" >Cas9</text>
<text x="468.6" y="129.9" font-size="8.2" text-anchor="middle" >Cas9 /</text>
<text x="468.9" y="139.9" font-size="8.2" text-anchor="middle" >Ctrl</text>
<text x="497.9" y="129.9" font-size="8.2" text-anchor="middle" >Cas9 /</text>
<text x="498.2" y="139.9" font-size="8.2" text-anchor="middle" >CD7<tspan dy="-3" font-size="5.7">KO</tspan></text>
<text x="399.4" y="80.4" font-size="9.3" text-anchor="middle" textLength="87.5" lengthAdjust="spacingAndGlyphs" transform="rotate(-90 399.4 80.4)" >Frequency of cells (%)</text>
<rect x="423.80" y="18.50" width="7.80" height="4.60" fill="#9679ab" />
<text x="434.0" y="23.5" font-size="7.9" >CD4<tspan dy="-3" font-size="5">+</tspan></text>
<rect x="423.80" y="28.60" width="7.80" height="4.60" fill="#f6d2a0" />
<text x="434.0" y="33.6" font-size="7.9" >CD8<tspan dy="-3" font-size="5">+</tspan></text>
<rect x="29.30" y="173.40" width="51.90" height="52.20" fill="none" stroke="#a0a0a0" stroke-width="0.7" />
<text x="35.3" y="236.2" font-size="5.6" text-anchor="middle" fill="#222" >10<tspan dy="-2.1" font-size="4.4">1</tspan></text>
<text x="46.0" y="236.2" font-size="5.6" text-anchor="middle" fill="#222" >10<tspan dy="-2.1" font-size="4.4">2</tspan></text>
<text x="56.7" y="236.2" font-size="5.6" text-anchor="middle" fill="#222" >10<tspan dy="-2.1" font-size="4.4">3</tspan></text>
<text x="67.5" y="236.2" font-size="5.6" text-anchor="middle" fill="#222" >10<tspan dy="-2.1" font-size="4.4">4</tspan></text>
<text x="78.2" y="236.2" font-size="5.6" text-anchor="middle" fill="#222" >10<tspan dy="-2.1" font-size="4.4">5</tspan></text>
<text x="25.0" y="181.4" font-size="5.6" text-anchor="end" fill="#222" >10<tspan dy="-2.1" font-size="4.4">5</tspan></text>
<text x="25.0" y="193.0" font-size="5.6" text-anchor="end" fill="#222" >10<tspan dy="-2.1" font-size="4.4">4</tspan></text>
<text x="25.0" y="204.6" font-size="5.6" text-anchor="end" fill="#222" >10<tspan dy="-2.1" font-size="4.4">3</tspan></text>
<text x="25.0" y="216.2" font-size="5.6" text-anchor="end" fill="#222" >10<tspan dy="-2.1" font-size="4.4">2</tspan></text>
<text x="25.0" y="227.8" font-size="5.6" text-anchor="end" fill="#222" >10<tspan dy="-2.1" font-size="4.4">1</tspan></text>
<path d="M35.3 225.6v1.6M38.5 225.6v1.0M40.4 225.6v1.0M41.8 225.6v1.0M42.8 225.6v1.0M43.6 225.6v1.0M44.4 225.6v1.0M45.0 225.6v1.0M45.5 225.6v1.0M46.0 225.6v1.6M49.2 225.6v1.0M51.1 225.6v1.0M52.5 225.6v1.0M53.5 225.6v1.0M54.4 225.6v1.0M55.1 225.6v1.0M55.7 225.6v1.0M56.2 225.6v1.0M56.7 225.6v1.6M60.0 225.6v1.0M61.9 225.6v1.0M63.2 225.6v1.0M64.2 225.6v1.0M65.1 225.6v1.0M65.8 225.6v1.0M66.4 225.6v1.0M67.0 225.6v1.0M67.5 225.6v1.6M70.7 225.6v1.0M72.6 225.6v1.0M73.9 225.6v1.0M75.0 225.6v1.0M75.8 225.6v1.0M76.5 225.6v1.0M77.1 225.6v1.0M77.7 225.6v1.0M78.2 225.6v1.6M81.4 225.6v1.0" stroke="#333" stroke-width="0.8"/>
<path d="M29.3 179.5h-1.6M29.3 176.0h-1.0M29.3 174.0h-1.0M29.3 191.1h-1.6M29.3 187.6h-1.0M29.3 185.6h-1.0M29.3 184.1h-1.0M29.3 183.0h-1.0M29.3 182.1h-1.0M29.3 181.3h-1.0M29.3 180.6h-1.0M29.3 180.0h-1.0M29.3 202.7h-1.6M29.3 199.2h-1.0M29.3 197.2h-1.0M29.3 195.7h-1.0M29.3 194.6h-1.0M29.3 193.7h-1.0M29.3 192.9h-1.0M29.3 192.2h-1.0M29.3 191.6h-1.0M29.3 214.3h-1.6M29.3 210.8h-1.0M29.3 208.8h-1.0M29.3 207.3h-1.0M29.3 206.2h-1.0M29.3 205.3h-1.0M29.3 204.5h-1.0M29.3 203.8h-1.0M29.3 203.2h-1.0M29.3 225.9h-1.6M29.3 222.4h-1.0M29.3 220.4h-1.0M29.3 218.9h-1.0M29.3 217.8h-1.0M29.3 216.9h-1.0M29.3 216.1h-1.0M29.3 215.4h-1.0M29.3 214.8h-1.0" stroke="#333" stroke-width="0.8"/>
<line x1="51.5" y1="173.4" x2="51.5" y2="225.6" stroke="#8a8a8a" stroke-width="0.8" />
<line x1="29.3" y1="209.0" x2="81.2" y2="209.0" stroke="#8a8a8a" stroke-width="1.0" />
<rect x="97.30" y="173.30" width="52.00" height="52.30" fill="none" stroke="#a0a0a0" stroke-width="0.7" />
<text x="103.3" y="236.2" font-size="5.6" text-anchor="middle" fill="#222" >10<tspan dy="-2.1" font-size="4.4">1</tspan></text>
<text x="114.0" y="236.2" font-size="5.6" text-anchor="middle" fill="#222" >10<tspan dy="-2.1" font-size="4.4">2</tspan></text>
<text x="124.7" y="236.2" font-size="5.6" text-anchor="middle" fill="#222" >10<tspan dy="-2.1" font-size="4.4">3</tspan></text>
<text x="135.5" y="236.2" font-size="5.6" text-anchor="middle" fill="#222" >10<tspan dy="-2.1" font-size="4.4">4</tspan></text>
<text x="146.2" y="236.2" font-size="5.6" text-anchor="middle" fill="#222" >10<tspan dy="-2.1" font-size="4.4">5</tspan></text>
<text x="93.0" y="181.4" font-size="5.6" text-anchor="end" fill="#222" >10<tspan dy="-2.1" font-size="4.4">5</tspan></text>
<text x="93.0" y="193.0" font-size="5.6" text-anchor="end" fill="#222" >10<tspan dy="-2.1" font-size="4.4">4</tspan></text>
<text x="93.0" y="204.6" font-size="5.6" text-anchor="end" fill="#222" >10<tspan dy="-2.1" font-size="4.4">3</tspan></text>
<text x="93.0" y="216.2" font-size="5.6" text-anchor="end" fill="#222" >10<tspan dy="-2.1" font-size="4.4">2</tspan></text>
<text x="93.0" y="227.8" font-size="5.6" text-anchor="end" fill="#222" >10<tspan dy="-2.1" font-size="4.4">1</tspan></text>
<path d="M103.3 225.6v1.6M106.5 225.6v1.0M108.4 225.6v1.0M109.8 225.6v1.0M110.8 225.6v1.0M111.6 225.6v1.0M112.4 225.6v1.0M113.0 225.6v1.0M113.5 225.6v1.0M114.0 225.6v1.6M117.2 225.6v1.0M119.1 225.6v1.0M120.5 225.6v1.0M121.5 225.6v1.0M122.4 225.6v1.0M123.1 225.6v1.0M123.7 225.6v1.0M124.2 225.6v1.0M124.7 225.6v1.6M128.0 225.6v1.0M129.9 225.6v1.0M131.2 225.6v1.0M132.2 225.6v1.0M133.1 225.6v1.0M133.8 225.6v1.0M134.4 225.6v1.0M135.0 225.6v1.0M135.5 225.6v1.6M138.7 225.6v1.0M140.6 225.6v1.0M141.9 225.6v1.0M143.0 225.6v1.0M143.8 225.6v1.0M144.5 225.6v1.0M145.1 225.6v1.0M145.7 225.6v1.0M146.2 225.6v1.6M149.4 225.6v1.0" stroke="#333" stroke-width="0.8"/>
<path d="M97.3 179.5h-1.6M97.3 176.0h-1.0M97.3 174.0h-1.0M97.3 191.1h-1.6M97.3 187.6h-1.0M97.3 185.6h-1.0M97.3 184.1h-1.0M97.3 183.0h-1.0M97.3 182.1h-1.0M97.3 181.3h-1.0M97.3 180.6h-1.0M97.3 180.0h-1.0M97.3 202.7h-1.6M97.3 199.2h-1.0M97.3 197.2h-1.0M97.3 195.7h-1.0M97.3 194.6h-1.0M97.3 193.7h-1.0M97.3 192.9h-1.0M97.3 192.2h-1.0M97.3 191.6h-1.0M97.3 214.3h-1.6M97.3 210.8h-1.0M97.3 208.8h-1.0M97.3 207.3h-1.0M97.3 206.2h-1.0M97.3 205.3h-1.0M97.3 204.5h-1.0M97.3 203.8h-1.0M97.3 203.2h-1.0M97.3 225.9h-1.6M97.3 222.4h-1.0M97.3 220.4h-1.0M97.3 218.9h-1.0M97.3 217.8h-1.0M97.3 216.9h-1.0M97.3 216.1h-1.0M97.3 215.4h-1.0M97.3 214.8h-1.0" stroke="#333" stroke-width="0.8"/>
<line x1="119.5" y1="173.3" x2="119.5" y2="225.6" stroke="#8a8a8a" stroke-width="0.8" />
<line x1="97.3" y1="209.0" x2="149.3" y2="209.0" stroke="#8a8a8a" stroke-width="1.0" />
<rect x="29.30" y="241.40" width="51.90" height="51.70" fill="none" stroke="#a0a0a0" stroke-width="0.7" />
<text x="35.3" y="303.2" font-size="5.6" text-anchor="middle" fill="#222" >10<tspan dy="-2.1" font-size="4.4">1</tspan></text>
<text x="46.0" y="303.2" font-size="5.6" text-anchor="middle" fill="#222" >10<tspan dy="-2.1" font-size="4.4">2</tspan></text>
<text x="56.7" y="303.2" font-size="5.6" text-anchor="middle" fill="#222" >10<tspan dy="-2.1" font-size="4.4">3</tspan></text>
<text x="67.5" y="303.2" font-size="5.6" text-anchor="middle" fill="#222" >10<tspan dy="-2.1" font-size="4.4">4</tspan></text>
<text x="78.2" y="303.2" font-size="5.6" text-anchor="middle" fill="#222" >10<tspan dy="-2.1" font-size="4.4">5</tspan></text>
<text x="25.0" y="248.3" font-size="5.6" text-anchor="end" fill="#222" >10<tspan dy="-2.1" font-size="4.4">5</tspan></text>
<text x="25.0" y="260.0" font-size="5.6" text-anchor="end" fill="#222" >10<tspan dy="-2.1" font-size="4.4">4</tspan></text>
<text x="25.0" y="271.7" font-size="5.6" text-anchor="end" fill="#222" >10<tspan dy="-2.1" font-size="4.4">3</tspan></text>
<text x="25.0" y="283.4" font-size="5.6" text-anchor="end" fill="#222" >10<tspan dy="-2.1" font-size="4.4">2</tspan></text>
<text x="25.0" y="295.1" font-size="5.6" text-anchor="end" fill="#222" >10<tspan dy="-2.1" font-size="4.4">1</tspan></text>
<path d="M35.3 293.1v1.6M38.5 293.1v1.0M40.4 293.1v1.0M41.8 293.1v1.0M42.8 293.1v1.0M43.6 293.1v1.0M44.4 293.1v1.0M45.0 293.1v1.0M45.5 293.1v1.0M46.0 293.1v1.6M49.2 293.1v1.0M51.1 293.1v1.0M52.5 293.1v1.0M53.5 293.1v1.0M54.4 293.1v1.0M55.1 293.1v1.0M55.7 293.1v1.0M56.2 293.1v1.0M56.7 293.1v1.6M60.0 293.1v1.0M61.9 293.1v1.0M63.2 293.1v1.0M64.2 293.1v1.0M65.1 293.1v1.0M65.8 293.1v1.0M66.4 293.1v1.0M67.0 293.1v1.0M67.5 293.1v1.6M70.7 293.1v1.0M72.6 293.1v1.0M73.9 293.1v1.0M75.0 293.1v1.0M75.8 293.1v1.0M76.5 293.1v1.0M77.1 293.1v1.0M77.7 293.1v1.0M78.2 293.1v1.6M81.4 293.1v1.0" stroke="#333" stroke-width="0.8"/>
<path d="M29.3 246.4h-1.6M29.3 242.9h-1.0M29.3 258.1h-1.6M29.3 254.6h-1.0M29.3 252.5h-1.0M29.3 251.1h-1.0M29.3 249.9h-1.0M29.3 249.0h-1.0M29.3 248.2h-1.0M29.3 247.5h-1.0M29.3 246.9h-1.0M29.3 269.8h-1.6M29.3 266.3h-1.0M29.3 264.2h-1.0M29.3 262.8h-1.0M29.3 261.6h-1.0M29.3 260.7h-1.0M29.3 259.9h-1.0M29.3 259.2h-1.0M29.3 258.6h-1.0M29.3 281.5h-1.6M29.3 278.0h-1.0M29.3 275.9h-1.0M29.3 274.5h-1.0M29.3 273.3h-1.0M29.3 272.4h-1.0M29.3 271.6h-1.0M29.3 270.9h-1.0M29.3 270.3h-1.0M29.3 293.2h-1.6M29.3 289.7h-1.0M29.3 287.6h-1.0M29.3 286.2h-1.0M29.3 285.0h-1.0M29.3 284.1h-1.0M29.3 283.3h-1.0M29.3 282.6h-1.0M29.3 282.0h-1.0" stroke="#333" stroke-width="0.8"/>
<line x1="51.5" y1="241.4" x2="51.5" y2="293.1" stroke="#8a8a8a" stroke-width="0.8" />
<line x1="29.3" y1="276.3" x2="81.2" y2="276.3" stroke="#8a8a8a" stroke-width="1.0" />
<rect x="97.30" y="241.40" width="52.00" height="51.70" fill="none" stroke="#a0a0a0" stroke-width="0.7" />
<text x="103.3" y="303.2" font-size="5.6" text-anchor="middle" fill="#222" >10<tspan dy="-2.1" font-size="4.4">1</tspan></text>
<text x="114.0" y="303.2" font-size="5.6" text-anchor="middle" fill="#222" >10<tspan dy="-2.1" font-size="4.4">2</tspan></text>
<text x="124.7" y="303.2" font-size="5.6" text-anchor="middle" fill="#222" >10<tspan dy="-2.1" font-size="4.4">3</tspan></text>
<text x="135.5" y="303.2" font-size="5.6" text-anchor="middle" fill="#222" >10<tspan dy="-2.1" font-size="4.4">4</tspan></text>
<text x="146.2" y="303.2" font-size="5.6" text-anchor="middle" fill="#222" >10<tspan dy="-2.1" font-size="4.4">5</tspan></text>
<text x="93.0" y="248.3" font-size="5.6" text-anchor="end" fill="#222" >10<tspan dy="-2.1" font-size="4.4">5</tspan></text>
<text x="93.0" y="260.0" font-size="5.6" text-anchor="end" fill="#222" >10<tspan dy="-2.1" font-size="4.4">4</tspan></text>
<text x="93.0" y="271.7" font-size="5.6" text-anchor="end" fill="#222" >10<tspan dy="-2.1" font-size="4.4">3</tspan></text>
<text x="93.0" y="283.4" font-size="5.6" text-anchor="end" fill="#222" >10<tspan dy="-2.1" font-size="4.4">2</tspan></text>
<text x="93.0" y="295.1" font-size="5.6" text-anchor="end" fill="#222" >10<tspan dy="-2.1" font-size="4.4">1</tspan></text>
<path d="M103.3 293.1v1.6M106.5 293.1v1.0M108.4 293.1v1.0M109.8 293.1v1.0M110.8 293.1v1.0M111.6 293.1v1.0M112.4 293.1v1.0M113.0 293.1v1.0M113.5 293.1v1.0M114.0 293.1v1.6M117.2 293.1v1.0M119.1 293.1v1.0M120.5 293.1v1.0M121.5 293.1v1.0M122.4 293.1v1.0M123.1 293.1v1.0M123.7 293.1v1.0M124.2 293.1v1.0M124.7 293.1v1.6M128.0 293.1v1.0M129.9 293.1v1.0M131.2 293.1v1.0M132.2 293.1v1.0M133.1 293.1v1.0M133.8 293.1v1.0M134.4 293.1v1.0M135.0 293.1v1.0M135.5 293.1v1.6M138.7 293.1v1.0M140.6 293.1v1.0M141.9 293.1v1.0M143.0 293.1v1.0M143.8 293.1v1.0M144.5 293.1v1.0M145.1 293.1v1.0M145.7 293.1v1.0M146.2 293.1v1.6M149.4 293.1v1.0" stroke="#333" stroke-width="0.8"/>
<path d="M97.3 246.4h-1.6M97.3 242.9h-1.0M97.3 258.1h-1.6M97.3 254.6h-1.0M97.3 252.5h-1.0M97.3 251.1h-1.0M97.3 249.9h-1.0M97.3 249.0h-1.0M97.3 248.2h-1.0M97.3 247.5h-1.0M97.3 246.9h-1.0M97.3 269.8h-1.6M97.3 266.3h-1.0M97.3 264.2h-1.0M97.3 262.8h-1.0M97.3 261.6h-1.0M97.3 260.7h-1.0M97.3 259.9h-1.0M97.3 259.2h-1.0M97.3 258.6h-1.0M97.3 281.5h-1.6M97.3 278.0h-1.0M97.3 275.9h-1.0M97.3 274.5h-1.0M97.3 273.3h-1.0M97.3 272.4h-1.0M97.3 271.6h-1.0M97.3 270.9h-1.0M97.3 270.3h-1.0M97.3 293.2h-1.6M97.3 289.7h-1.0M97.3 287.6h-1.0M97.3 286.2h-1.0M97.3 285.0h-1.0M97.3 284.1h-1.0M97.3 283.3h-1.0M97.3 282.6h-1.0M97.3 282.0h-1.0" stroke="#333" stroke-width="0.8"/>
<line x1="119.5" y1="241.4" x2="119.5" y2="293.1" stroke="#8a8a8a" stroke-width="0.8" />
<line x1="97.3" y1="276.3" x2="149.3" y2="276.3" stroke="#8a8a8a" stroke-width="1.0" />
<text x="78.3" y="184.4" font-size="8.2" text-anchor="end" >0.6</text>
<text x="100.7" y="184.3" font-size="8.2" >21</text>
<text x="146.9" y="184.3" font-size="8.2" text-anchor="end" >20</text>
<text x="147.1" y="221.5" font-size="8.2" text-anchor="end" >19</text>
<text x="77.8" y="251.6" font-size="8.2" text-anchor="end" >1</text>
<text x="100.7" y="251.6" font-size="8.2" >8</text>
<text x="146.9" y="251.6" font-size="8.2" text-anchor="end" >38</text>
<text x="146.9" y="289.2" font-size="8.2" text-anchor="end" >13</text>
<text x="54.2" y="169.2" font-size="10" font-weight="bold" text-anchor="middle" >Media</text>
<text x="124.6" y="168.9" font-size="10" font-weight="bold" text-anchor="middle" >NALM6</text>
<text x="152.6" y="198.6" font-size="8.0" >Ctrl</text>
<text x="152.6" y="258.7" font-size="8.0" >CD7<tspan dy="-3" font-size="5.6">KO</tspan></text>
<text x="14.9" y="295.6" font-size="10.5" textLength="25.6" lengthAdjust="spacingAndGlyphs" transform="rotate(-90 14.9 295.6)" >TNF&#945;</text>
<line x1="11.8" y1="266.5" x2="11.8" y2="182.2" stroke="#111" stroke-width="1.7" />
<path d="M11.8 176.2L15.0 184.6L11.8 183.0L8.6 184.6z" fill="#111"/>
<text x="29.8" y="313.5" font-size="10.2" textLength="20.4" lengthAdjust="spacingAndGlyphs" >IFN&#947;</text>
<line x1="53.0" y1="311.3" x2="147.0" y2="311.3" stroke="#111" stroke-width="1.7" />
<path d="M153.0 311.3L145.4 308.1L146.8 311.3L145.4 314.5z" fill="#111"/>
<ellipse cx="44.8" cy="215.5" rx="3.6" ry="2.6" transform="rotate(-45 44.8 215.5)" fill="#000" fill-opacity="0.9" filter="url(#b11)"/>
<ellipse cx="47.5" cy="212" rx="1.6" ry="1.0" transform="rotate(-45 47.5 212)" fill="#000" fill-opacity="0.6" filter="url(#b8)"/>
<ellipse cx="37" cy="217" rx="3.5" ry="1.8" transform="rotate(-10 37 217)" fill="#000" fill-opacity="0.15" filter="url(#b15)"/>
<path d="M42.4 219.5h0M42.6 214.2h0M47.0 216.1h0M42.2 219.3h0M47.4 218.0h0M35.3 223.2h0M41.8 219.6h0M37.8 220.3h0M48.3 215.5h0M42.4 217.7h0M45.0 213.9h0M47.9 215.7h0M47.0 215.0h0M44.1 216.4h0M46.0 217.7h0M43.7 219.1h0M37.9 219.4h0M47.7 209.3h0M40.3 218.2h0M44.6 212.7h0M45.6 213.2h0M41.3 215.9h0M46.4 213.3h0M48.5 216.2h0M46.4 214.4h0M46.3 217.1h0M42.7 223.0h0M48.1 209.4h0M48.7 210.6h0M47.2 212.9h0M35.2 219.0h0M44.0 215.5h0M46.1 209.2h0M44.9 213.3h0M35.8 217.3h0M47.4 216.4h0M43.4 210.7h0M46.5 214.2h0M43.5 217.0h0M41.2 214.5h0M47.0 210.6h0M49.1 210.0h0M48.8 214.2h0M44.2 212.2h0M45.8 215.7h0M44.2 215.2h0M38.4 219.2h0M47.0 220.0h0M41.2 217.4h0M45.6 215.2h0M49.6 213.3h0M43.8 213.6h0M44.6 211.8h0M38.2 217.0h0M45.6 213.3h0M30.9 219.4h0M38.6 214.8h0M40.2 214.3h0M47.9 217.6h0M48.2 211.4h0M43.4 214.9h0M41.8 218.6h0M34.2 215.4h0M42.6 217.5h0M33.9 218.6h0M46.3 216.9h0M47.4 210.1h0M45.9 214.3h0M51.9 211.3h0M32.4 218.0h0M47.3 217.3h0M38.7 214.7h0M44.3 213.5h0M39.8 216.2h0M41.9 214.0h0M40.2 219.0h0M49.8 212.9h0M46.3 215.8h0M43.7 212.8h0M42.7 218.7h0M45.6 218.2h0M43.4 211.3h0M45.4 212.7h0M41.0 213.0h0M48.8 211.3h0M43.7 215.4h0M44.2 221.7h0M42.4 211.5h0M35.2 218.0h0M47.8 212.9h0M41.9 221.2h0M37.6 214.2h0M42.7 215.9h0M45.9 209.6h0M44.5 215.1h0M49.7 216.5h0M44.1 213.0h0M51.5 211.7h0M43.9 217.3h0M46.8 215.3h0M37.8 219.4h0M46.8 211.8h0M41.3 219.6h0M37.4 218.5h0" stroke="#000" stroke-opacity="0.22" stroke-width="0.8" stroke-linecap="round" fill="none"/>
<path d="M40.6 219.1h0M44.8 214.4h0M40.8 216.0h0M40.7 214.9h0M39.1 216.5h0M37.7 213.6h0M34.1 220.4h0M43.6 216.7h0M43.2 216.9h0M44.3 220.3h0M47.7 217.7h0M48.4 211.5h0M43.8 216.6h0M41.2 216.1h0M46.9 214.7h0M44.2 216.2h0M39.8 220.6h0M49.1 214.9h0M45.4 213.5h0M47.8 214.2h0M38.5 216.9h0M37.0 214.2h0M47.3 218.7h0M43.4 213.1h0M45.0 216.1h0M34.8 218.4h0M47.2 221.7h0M47.9 213.4h0M43.0 215.6h0M46.8 217.9h0M30.0 219.3h0M44.0 215.8h0M40.8 218.6h0M49.0 209.6h0M45.6 219.5h0M43.4 214.1h0M45.2 214.5h0M45.4 217.8h0M39.3 215.7h0M45.0 216.6h0M46.9 214.9h0M41.0 216.7h0M44.9 212.4h0M45.4 215.5h0M45.3 209.4h0M37.3 215.3h0M45.4 212.3h0M47.0 210.7h0M48.0 214.0h0M52.6 214.0h0M39.2 216.3h0M39.0 219.9h0M44.0 216.1h0M41.2 211.0h0M49.5 219.0h0M42.5 218.2h0M43.8 214.8h0M45.9 212.2h0M48.1 214.7h0M47.5 212.1h0M47.5 215.6h0M41.3 216.9h0M41.5 220.3h0M45.7 210.4h0M43.8 222.5h0M39.1 220.9h0M48.2 215.8h0M51.8 218.3h0M43.0 214.5h0M47.6 212.5h0M50.5 212.2h0M42.7 212.8h0M43.3 216.8h0M53.8 213.3h0M40.8 216.6h0M46.8 217.5h0M43.9 215.3h0M37.7 215.8h0M43.6 212.9h0M46.5 217.5h0M34.9 218.3h0M42.5 216.5h0M45.5 212.4h0M43.8 214.4h0M47.5 216.9h0M45.9 211.7h0M45.5 217.5h0M40.3 214.2h0M40.2 215.8h0M42.5 215.2h0M43.5 215.6h0M46.3 210.6h0M44.3 215.7h0M46.8 216.3h0M41.3 220.0h0M32.0 219.6h0M50.4 213.2h0M48.9 219.5h0M44.2 216.4h0M45.4 217.9h0M33.2 215.7h0M49.5 213.1h0M34.9 215.2h0M44.0 208.9h0M43.3 217.6h0" stroke="#000" stroke-opacity="0.22" stroke-width="0.8" stroke-linecap="round" fill="none"/>
<path d="M40.9 214.5h0M45.2 210.4h0M46.2 214.7h0M47.3 217.0h0M43.4 216.6h0M47.6 212.5h0M35.5 216.1h0M49.6 211.2h0M35.8 213.2h0M47.9 213.0h0M37.4 219.0h0M50.1 212.1h0M53.4 210.1h0M44.9 218.9h0M36.5 218.3h0M42.3 212.4h0M48.4 211.7h0M44.8 218.5h0M47.0 211.5h0M44.5 216.0h0M44.4 220.6h0M49.1 214.1h0M42.5 212.5h0M42.7 217.7h0M46.3 211.2h0M44.8 214.5h0M46.4 212.6h0M38.2 218.5h0M46.6 213.0h0M38.6 217.6h0M44.2 215.1h0M44.1 213.6h0M44.0 219.6h0M40.9 218.2h0M45.4 220.1h0M40.8 217.3h0M40.9 215.9h0M47.8 218.1h0M43.5 214.2h0M43.5 214.7h0M44.1 217.0h0M44.5 218.0h0M31.9 215.5h0M31.2 215.6h0M45.0 212.7h0M44.3 219.1h0M44.3 205.7h0M41.8 214.0h0M48.9 218.0h0M42.4 219.8h0M44.6 219.4h0M39.7 218.3h0M39.4 216.8h0M48.3 208.1h0M45.3 214.9h0M40.1 216.2h0M40.4 217.2h0M43.7 216.8h0M41.5 214.9h0M47.3 210.9h0M48.2 215.6h0M41.3 217.9h0M43.1 213.6h0M34.0 217.4h0M47.1 211.8h0M35.0 217.8h0M51.6 211.6h0M44.2 215.3h0M34.2 216.6h0M43.4 218.4h0M47.8 217.0h0M44.8 212.3h0M42.5 216.2h0M48.5 213.1h0M44.2 213.7h0M42.2 213.6h0M38.3 220.2h0M44.3 216.7h0M45.7 211.6h0M47.7 210.3h0M43.6 213.1h0M43.2 216.8h0M33.4 213.7h0M45.8 219.5h0M43.3 214.7h0M42.9 223.5h0M43.1 217.2h0M45.4 219.0h0M48.6 218.2h0M48.4 211.4h0M42.7 216.0h0M42.7 214.4h0M42.5 219.4h0M45.7 218.5h0M46.8 209.1h0M41.4 217.7h0M45.1 214.0h0M42.7 217.8h0M45.2 220.0h0M40.4 215.9h0M44.4 213.6h0M47.2 211.3h0M49.6 215.2h0M43.3 220.4h0M48.6 219.2h0" stroke="#000" stroke-opacity="0.22" stroke-width="0.8" stroke-linecap="round" fill="none"/>
<path d="M44.8 215.3h0M47.7 212.7h0M45.6 213.1h0M50.3 212.1h0M43.6 219.8h0M44.3 215.4h0M44.6 215.9h0M42.6 222.2h0M37.7 218.2h0M45.8 212.4h0M44.4 215.9h0M49.1 211.0h0M46.2 217.4h0M44.2 213.8h0M43.5 210.1h0M45.1 212.9h0M45.7 220.5h0M46.8 210.5h0M45.5 216.7h0M39.0 218.5h0M49.2 218.2h0M40.7 220.2h0M47.5 213.7h0M47.2 213.1h0M35.4 216.8h0M46.4 216.2h0M43.7 216.3h0M42.9 215.3h0M45.7 214.9h0M42.5 215.1h0M50.2 216.4h0M45.6 219.1h0M51.0 214.4h0M47.6 214.5h0M47.9 215.2h0M44.0 215.1h0M44.4 220.4h0M48.0 214.7h0M44.0 213.6h0M44.9 212.9h0M48.9 212.2h0M31.8 220.4h0M51.3 215.8h0M41.7 212.6h0M43.5 219.2h0M53.5 210.4h0M46.6 213.6h0M35.7 217.6h0M46.3 219.2h0M40.3 217.1h0M48.0 211.5h0M45.9 210.6h0M43.5 221.4h0M42.7 215.6h0M44.8 218.3h0M43.4 218.8h0M48.5 211.7h0M48.8 212.3h0M46.5 211.0h0M50.1 208.0h0M43.1 213.7h0M35.9 216.0h0M43.0 222.0h0M39.2 213.8h0M43.2 214.9h0M41.4 214.8h0M47.3 219.9h0M45.9 219.9h0M43.7 211.6h0M44.3 213.9h0M42.2 212.3h0M47.3 210.8h0M46.4 220.7h0M45.1 212.0h0M43.5 220.7h0M47.5 215.6h0M45.2 215.2h0M42.3 221.1h0M45.4 216.1h0M42.9 217.3h0M43.5 214.2h0M40.3 222.2h0M49.5 210.3h0M48.3 219.7h0M48.2 211.5h0M38.7 217.5h0M41.7 220.7h0M45.0 213.9h0M41.6 214.8h0M38.7 217.7h0M29.9 220.1h0M43.8 218.2h0M38.8 217.0h0M47.4 219.0h0M41.0 216.7h0M45.3 213.5h0M47.2 213.1h0M47.8 212.3h0M46.8 215.6h0M45.8 218.4h0M48.1 215.6h0M41.3 215.3h0M37.9 217.2h0M39.3 214.0h0M44.6 218.3h0" stroke="#000" stroke-opacity="0.22" stroke-width="0.8" stroke-linecap="round" fill="none"/>
<path d="M44.5 216.1h0M47.0 212.7h0M48.1 212.1h0M44.4 210.9h0M46.1 217.9h0M45.5 214.6h0M40.4 211.9h0M41.2 217.6h0M37.0 215.3h0M49.9 211.4h0M45.5 220.2h0M48.2 211.9h0M44.3 221.0h0M44.8 213.5h0M44.7 214.5h0M39.0 219.5h0M40.6 217.2h0M47.7 210.2h0M44.2 213.4h0M47.7 212.7h0M47.6 214.9h0M41.7 217.7h0M41.4 220.3h0M44.5 211.0h0M40.6 213.6h0M47.6 211.0h0M49.1 211.7h0M44.3 215.9h0M45.4 216.4h0M45.7 209.3h0M45.6 214.6h0M40.1 217.7h0M45.2 217.2h0M49.0 208.1h0M48.8 220.2h0M47.7 212.8h0M47.2 212.9h0M40.0 214.8h0M46.8 215.5h0M45.5 212.0h0M46.9 220.3h0M47.6 215.5h0M43.2 214.8h0M47.6 211.4h0M41.6 213.9h0M49.7 211.2h0M45.5 211.7h0M42.5 216.2h0M48.8 213.0h0M43.1 212.0h0M38.8 218.7h0M45.0 214.7h0M38.2 213.4h0M39.4 214.3h0M35.0 217.0h0M44.8 217.8h0M42.3 213.0h0M46.1 212.2h0M46.5 212.7h0M45.9 213.3h0M38.5 220.3h0M42.4 210.1h0M39.8 217.9h0M47.2 212.5h0M38.3 218.9h0M43.2 213.3h0M50.0 212.2h0M39.8 216.6h0M46.4 213.0h0M47.6 212.6h0M42.2 211.8h0M45.2 211.7h0M41.0 217.5h0M47.0 214.1h0M43.2 217.1h0M43.0 217.4h0M48.5 212.7h0M40.8 216.7h0M44.9 211.8h0M41.0 222.8h0M44.3 215.3h0M39.2 217.6h0M32.7 217.3h0M43.1 214.6h0M41.1 220.6h0M43.6 216.7h0M46.0 210.4h0M47.3 211.6h0M42.3 213.4h0M40.2 216.0h0M43.3 215.7h0M53.1 213.1h0M48.5 212.5h0M45.3 217.1h0M40.8 215.9h0M45.2 218.0h0M45.6 214.5h0M46.1 213.5h0M43.4 211.9h0M42.8 212.4h0M50.9 214.3h0M44.5 218.4h0M46.9 214.3h0M48.9 210.9h0M30.7 219.1h0" stroke="#000" stroke-opacity="0.22" stroke-width="0.8" stroke-linecap="round" fill="none"/>
<path d="M46.0 216.3h0M33.3 219.3h0M49.3 218.8h0M46.1 222.2h0M46.2 215.7h0M50.7 212.3h0M43.2 219.3h0M43.7 214.2h0M37.1 215.6h0M39.2 217.1h0M44.9 219.2h0M48.8 213.9h0M44.1 214.1h0M45.1 212.7h0M42.1 216.2h0M44.0 218.2h0M48.6 213.2h0M47.1 213.0h0M44.1 214.8h0M34.1 216.1h0M44.5 217.4h0M36.0 214.2h0M46.5 210.5h0M41.6 219.2h0M41.8 223.8h0M46.0 217.4h0M43.4 217.1h0M40.4 217.2h0M43.5 215.9h0M48.8 211.0h0M45.3 217.9h0M49.1 216.0h0M43.3 213.3h0M36.8 219.1h0M49.2 214.5h0M42.6 215.5h0M50.0 209.1h0M43.5 216.5h0M37.3 217.7h0M43.9 217.9h0M50.7 209.9h0M44.6 214.3h0M42.6 216.1h0M41.0 223.5h0M47.2 213.7h0M35.4 217.1h0M43.0 212.1h0M46.7 216.2h0M39.6 220.1h0M45.8 213.7h0M47.2 219.1h0M39.6 219.0h0M46.0 214.1h0M49.4 212.4h0M44.4 215.3h0M39.0 215.6h0M49.6 216.0h0M40.4 220.4h0M43.1 213.8h0M45.9 214.7h0M42.6 211.8h0M44.2 217.5h0M44.9 214.4h0M42.1 212.9h0M45.1 210.7h0M39.9 219.5h0M38.1 216.4h0M44.5 206.9h0M43.8 216.9h0M47.7 210.5h0M42.5 214.8h0M42.5 213.8h0M45.9 210.2h0M41.7 217.8h0M42.0 212.6h0M49.6 216.0h0M37.9 216.5h0M49.1 215.4h0M41.8 215.5h0M35.6 213.0h0M39.7 218.5h0M42.9 212.5h0M48.4 214.7h0M43.0 217.5h0M50.0 214.9h0M46.7 218.1h0M35.6 221.6h0M49.5 215.3h0M55.8 214.3h0M39.6 219.8h0M44.1 216.4h0M34.1 217.9h0M42.6 215.2h0M34.2 217.6h0M48.0 218.9h0M43.5 216.5h0M47.6 213.0h0M34.3 221.5h0M36.5 218.7h0M49.1 216.1h0M44.4 217.0h0M44.1 214.3h0M45.3 218.4h0M45.4 214.0h0M48.1 213.2h0" stroke="#000" stroke-opacity="0.22" stroke-width="0.8" stroke-linecap="round" fill="none"/>
<ellipse cx="44.3" cy="282.5" rx="3.4" ry="2.5" transform="rotate(-40 44.3 282.5)" fill="#000" fill-opacity="0.9" filter="url(#b11)"/>
<ellipse cx="47.5" cy="279" rx="1.5" ry="1.0" transform="rotate(-45 47.5 279)" fill="#000" fill-opacity="0.6" filter="url(#b8)"/>
<ellipse cx="36" cy="285" rx="3.5" ry="1.8" transform="rotate(-10 36 285)" fill="#000" fill-opacity="0.15" filter="url(#b15)"/>
<path d="M36.0 285.6h0M44.8 279.2h0M46.7 284.1h0M44.5 283.3h0M46.5 279.6h0M46.5 280.8h0M36.7 283.6h0M47.5 279.0h0M43.2 278.3h0M43.9 280.8h0M44.8 284.2h0M46.0 283.9h0M43.2 282.7h0M45.4 283.1h0M30.0 285.2h0M38.4 285.1h0M42.2 283.0h0M33.5 285.6h0M45.9 280.2h0M44.3 282.7h0M42.8 281.2h0M45.3 280.0h0M45.6 283.6h0M43.2 288.9h0M45.2 282.3h0M35.8 282.6h0M47.1 284.7h0M43.1 283.2h0M41.9 284.4h0M47.8 277.0h0M42.7 279.3h0M43.7 283.4h0M38.3 285.9h0M46.9 280.8h0M46.2 281.3h0M41.4 277.0h0M39.9 286.3h0M44.2 286.3h0M33.8 282.0h0M46.0 280.1h0M49.1 286.2h0M45.0 283.4h0M41.5 284.2h0M43.3 286.0h0M44.1 280.8h0M46.6 279.8h0M44.1 285.0h0M43.7 279.4h0M45.7 284.1h0M45.0 287.0h0M39.8 282.5h0M39.3 285.6h0M41.6 280.6h0M44.3 284.1h0M47.4 280.1h0M41.0 282.9h0M42.7 284.6h0M40.6 282.3h0M39.9 284.2h0M46.4 281.9h0M42.2 285.5h0M47.0 280.9h0M48.1 276.1h0M44.9 283.4h0M43.6 281.4h0M42.4 283.0h0M50.5 275.9h0M44.0 279.4h0M48.7 280.4h0M41.1 286.2h0M45.0 278.5h0M42.5 285.4h0M39.5 281.5h0M50.6 277.0h0M45.8 284.0h0M34.4 284.5h0M36.4 284.4h0M39.8 288.1h0M47.2 280.1h0M44.9 282.1h0M39.7 280.2h0M46.1 282.3h0M40.7 291.0h0M41.6 287.1h0M38.6 290.5h0M39.5 287.1h0M47.1 288.7h0M45.2 289.1h0M40.0 282.9h0M30.3 285.8h0M47.6 283.7h0M47.6 281.5h0M37.7 285.2h0M45.3 287.2h0M53.9 282.7h0M39.0 285.5h0M45.6 283.7h0M45.6 281.9h0M48.3 280.1h0M48.1 275.9h0" stroke="#000" stroke-opacity="0.22" stroke-width="0.8" stroke-linecap="round" fill="none"/>
<path d="M43.5 282.9h0M42.5 284.4h0M30.8 282.3h0M48.6 277.9h0M45.4 284.2h0M35.3 282.1h0M42.6 280.0h0M39.6 283.5h0M47.5 279.7h0M42.5 279.3h0M43.2 286.9h0M49.5 272.4h0M42.2 286.9h0M39.5 287.1h0M44.8 285.7h0M48.2 277.8h0M44.7 284.3h0M45.4 279.7h0M47.1 279.1h0M47.7 282.9h0M37.3 281.0h0M43.6 281.7h0M40.0 288.5h0M44.4 278.7h0M46.0 290.1h0M42.9 280.1h0M43.1 279.6h0M44.6 285.5h0M42.5 285.7h0M42.9 282.1h0M41.0 284.6h0M43.9 281.4h0M47.7 280.2h0M43.7 287.1h0M46.9 283.8h0M40.5 284.4h0M43.4 276.4h0M44.5 280.7h0M44.6 278.9h0M41.8 285.3h0M44.0 281.8h0M42.8 283.4h0M42.5 288.3h0M47.4 282.9h0M47.9 280.2h0M31.9 285.9h0M39.1 282.4h0M45.5 278.7h0M47.5 279.5h0M42.3 280.5h0M40.3 282.8h0M42.2 283.2h0M45.9 282.3h0M43.7 278.4h0M46.2 281.4h0M41.8 285.6h0M35.2 285.7h0M43.3 280.1h0M47.3 279.1h0M43.1 283.1h0M46.7 283.9h0M42.2 278.8h0M50.5 278.9h0M45.2 281.4h0M45.1 288.5h0M42.1 280.5h0M44.3 282.5h0M35.9 284.9h0M43.5 283.6h0M46.2 281.7h0M41.7 278.1h0M37.9 288.3h0M43.0 282.0h0M43.2 284.8h0M45.3 278.5h0M43.2 281.7h0M34.1 288.7h0M43.3 289.2h0M42.8 286.7h0M42.4 283.9h0M34.7 285.9h0M47.5 285.0h0M42.1 286.3h0M42.6 277.5h0M41.0 285.3h0M42.9 282.4h0M45.6 277.8h0M32.4 286.8h0M46.0 280.7h0M47.0 286.3h0M36.1 283.8h0M48.7 279.9h0M41.8 286.8h0M47.2 280.8h0M51.7 283.5h0M43.8 281.5h0M47.1 277.7h0M49.1 280.1h0M41.6 285.7h0M44.1 282.1h0" stroke="#000" stroke-opacity="0.22" stroke-width="0.8" stroke-linecap="round" fill="none"/>
<path d="M40.5 285.8h0M44.5 278.0h0M46.6 282.7h0M47.2 284.4h0M47.8 277.7h0M45.1 283.5h0M42.2 289.9h0M45.5 282.5h0M37.3 284.4h0M42.5 280.7h0M43.2 283.5h0M43.1 283.2h0M46.9 275.2h0M46.2 280.8h0M30.8 284.3h0M47.2 280.4h0M47.6 275.5h0M40.8 282.9h0M44.6 278.2h0M33.4 285.9h0M43.0 282.6h0M44.5 276.2h0M41.9 282.9h0M45.4 284.6h0M48.9 284.8h0M36.6 283.6h0M40.5 285.8h0M46.0 279.3h0M39.1 286.2h0M49.5 275.7h0M46.0 279.3h0M41.1 284.9h0M44.6 284.4h0M46.8 277.0h0M47.1 276.4h0M49.5 280.8h0M43.7 281.6h0M45.7 279.8h0M43.1 283.9h0M45.0 280.7h0M33.9 282.4h0M46.0 279.4h0M48.5 282.8h0M45.3 281.8h0M37.2 285.1h0M42.1 285.6h0M49.4 278.7h0M37.9 285.8h0M42.0 281.1h0M45.6 285.1h0M44.4 283.9h0M42.7 281.2h0M43.7 282.6h0M44.1 283.7h0M47.3 285.7h0M44.9 279.1h0M43.3 286.9h0M47.1 277.6h0M44.9 284.7h0M40.4 278.7h0M42.5 280.2h0M49.6 285.1h0M42.0 281.8h0M44.3 281.2h0M44.2 281.6h0M44.3 283.8h0M47.0 284.3h0M44.4 282.4h0M47.1 281.8h0M37.4 286.1h0M45.4 281.6h0M47.3 287.0h0M36.8 285.0h0M44.4 280.8h0M40.4 281.1h0M41.8 287.5h0M37.6 281.8h0M47.3 277.6h0M41.7 280.8h0M44.2 285.4h0M39.0 286.4h0M39.4 283.4h0M41.5 280.2h0M43.1 284.6h0M47.4 281.2h0M44.4 280.2h0M46.5 278.2h0M47.9 280.6h0M40.6 281.5h0M51.1 284.0h0M41.0 288.1h0M47.8 278.3h0M36.8 287.0h0M46.6 281.8h0M40.3 286.4h0M45.7 284.2h0M39.8 284.8h0M36.0 287.7h0M42.7 282.6h0M45.4 284.7h0" stroke="#000" stroke-opacity="0.22" stroke-width="0.8" stroke-linecap="round" fill="none"/>
<path d="M37.3 286.0h0M32.2 282.9h0M42.9 281.9h0M44.9 284.7h0M36.9 286.3h0M43.4 278.6h0M30.2 290.8h0M47.9 277.6h0M42.5 289.5h0M44.1 285.6h0M44.4 280.9h0M46.9 276.7h0M44.6 281.3h0M38.1 287.2h0M38.6 285.7h0M37.2 288.3h0M32.1 288.1h0M49.3 280.7h0M45.1 277.7h0M45.4 285.7h0M47.4 283.5h0M40.4 283.5h0M40.1 283.8h0M44.5 283.2h0M47.2 283.2h0M46.0 284.1h0M44.2 283.1h0M45.0 283.8h0M45.5 284.8h0M39.8 284.4h0M44.4 285.0h0M42.6 283.1h0M48.1 278.6h0M45.7 282.1h0M36.2 281.3h0M44.3 284.7h0M43.3 279.5h0M43.8 281.8h0M39.5 292.0h0M49.9 281.9h0M36.3 285.1h0M33.9 285.8h0M41.6 282.5h0M40.1 285.2h0M44.2 280.0h0M43.8 278.6h0M48.6 279.9h0M47.4 280.1h0M40.4 282.6h0M40.5 287.8h0M39.2 287.0h0M34.4 287.4h0M46.9 278.5h0M47.3 282.1h0M44.2 282.0h0M38.8 284.8h0M50.4 283.7h0M39.2 285.0h0M47.1 279.0h0M45.7 288.3h0M45.6 282.0h0M44.3 281.5h0M41.4 279.3h0M33.2 283.8h0M47.6 280.0h0M47.1 280.6h0M46.7 278.7h0M31.5 287.1h0M44.6 282.3h0M43.1 286.1h0M42.4 285.8h0M46.8 286.0h0M46.4 277.6h0M36.7 282.9h0M34.4 283.6h0M42.9 282.4h0M42.3 282.2h0M45.6 283.9h0M44.4 281.3h0M55.0 277.8h0M31.5 286.1h0M44.0 287.8h0M48.0 282.1h0M47.3 277.5h0M39.0 287.2h0M46.1 283.9h0M46.5 277.5h0M44.6 281.1h0M43.7 284.1h0M47.7 277.7h0M36.0 286.3h0M35.7 285.5h0M40.7 283.5h0M49.7 276.3h0M44.5 282.8h0M38.3 286.1h0M42.4 289.0h0M39.6 281.3h0" stroke="#000" stroke-opacity="0.22" stroke-width="0.8" stroke-linecap="round" fill="none"/>
<path d="M43.0 285.3h0M43.8 280.4h0M47.6 281.4h0M43.0 283.2h0M39.5 283.4h0M44.9 283.8h0M50.1 279.5h0M36.8 284.9h0M40.8 282.5h0M44.7 282.1h0M42.2 284.3h0M45.9 283.8h0M49.2 279.0h0M46.9 281.8h0M47.9 279.9h0M43.9 284.0h0M39.9 288.1h0M34.6 283.5h0M42.8 281.8h0M48.9 279.5h0M42.6 281.8h0M35.3 285.6h0M32.9 287.0h0M36.0 287.0h0M36.2 284.8h0M37.9 287.7h0M47.0 280.8h0M42.0 281.2h0M41.1 283.7h0M44.6 279.1h0M39.9 284.6h0M44.6 284.0h0M43.9 282.3h0M44.2 280.4h0M47.3 281.7h0M41.9 287.9h0M43.1 286.8h0M45.3 286.8h0M36.4 287.9h0M51.2 277.8h0M33.7 286.7h0M45.3 279.6h0M40.7 283.3h0M43.0 278.7h0M41.1 283.9h0M46.2 280.6h0M38.4 285.9h0M41.0 284.8h0M44.5 281.2h0M42.3 284.4h0M39.4 280.2h0M50.6 280.4h0M41.3 289.3h0M36.6 281.5h0M35.1 284.2h0M48.7 282.9h0M43.2 283.8h0M46.8 282.8h0M42.7 283.9h0M50.2 277.6h0M47.5 282.4h0M37.4 286.8h0M40.8 285.0h0M47.1 283.0h0M42.4 284.2h0M42.9 280.4h0M44.6 284.1h0M42.4 283.5h0M43.4 285.6h0M43.1 284.2h0M48.5 280.6h0M38.6 282.4h0M34.5 288.8h0M46.6 280.6h0M37.5 285.4h0M30.2 284.5h0M48.5 281.3h0M36.2 283.4h0M48.0 279.1h0M44.7 284.1h0M46.8 278.6h0M47.5 276.9h0M45.5 281.3h0M50.5 279.8h0M40.8 289.8h0M43.8 285.5h0M40.1 276.1h0M43.4 284.0h0M47.4 284.1h0M44.3 282.4h0M43.0 280.6h0M40.5 285.1h0M46.3 281.9h0M44.1 285.4h0M49.1 277.6h0M34.1 285.3h0M47.3 280.0h0M40.0 284.9h0M43.1 288.2h0M46.1 278.8h0" stroke="#000" stroke-opacity="0.22" stroke-width="0.8" stroke-linecap="round" fill="none"/>
<path d="M43.6 283.6h0M43.6 284.2h0M38.9 284.4h0M47.1 277.4h0M50.0 278.8h0M39.0 288.2h0M49.8 277.6h0M49.1 279.9h0M44.6 280.5h0M47.2 279.8h0M44.1 279.5h0M44.4 281.7h0M43.1 287.4h0M41.4 282.5h0M41.0 279.7h0M39.9 287.4h0M41.3 286.0h0M46.1 285.4h0M35.7 287.7h0M44.7 281.3h0M43.7 281.6h0M43.0 280.9h0M42.7 281.2h0M47.6 285.1h0M46.1 284.4h0M35.9 281.8h0M43.3 284.0h0M47.6 285.6h0M40.1 286.6h0M42.4 287.0h0M46.1 288.4h0M39.8 283.3h0M46.1 280.2h0M44.7 280.5h0M49.6 283.9h0M46.7 275.2h0M38.6 285.5h0M42.6 281.3h0M45.0 279.0h0M43.4 282.8h0M42.3 287.4h0M31.1 285.2h0M47.4 283.0h0M45.8 278.5h0M38.7 286.9h0M41.8 286.0h0M47.5 283.9h0M42.1 281.5h0M30.2 289.3h0M45.3 282.8h0M41.0 282.6h0M45.7 277.7h0M34.5 287.7h0M35.8 286.8h0M46.8 275.8h0M47.6 283.2h0M46.0 279.5h0M43.5 284.0h0M45.4 283.7h0M43.7 280.8h0M45.5 282.2h0M39.5 283.5h0M42.7 283.8h0M43.3 282.1h0M32.9 284.5h0M39.3 277.0h0M47.7 276.6h0M48.6 286.7h0M46.9 279.5h0M43.1 282.4h0M40.3 285.1h0M49.0 279.0h0M46.4 284.4h0M42.6 281.4h0M34.9 286.1h0M41.1 286.6h0M34.5 284.0h0M43.4 284.4h0M47.6 280.5h0M42.9 285.7h0M47.4 285.8h0M43.7 282.3h0M42.5 282.2h0M48.1 287.1h0M45.3 279.4h0M49.6 281.9h0M45.1 280.3h0M49.3 280.0h0M42.3 287.6h0M39.9 286.7h0M44.0 283.3h0M47.4 287.9h0M37.9 282.2h0M44.3 280.4h0M46.6 275.8h0M49.9 282.4h0M38.7 285.9h0M38.5 286.6h0M43.4 284.0h0M43.3 283.5h0" stroke="#000" stroke-opacity="0.22" stroke-width="0.8" stroke-linecap="round" fill="none"/>
<ellipse cx="113" cy="199" rx="3" ry="7" transform="rotate(0 113 199)" fill="#000" fill-opacity="0.1" filter="url(#b15)"/>
<ellipse cx="129" cy="200" rx="10" ry="3.5" transform="rotate(-38 129 200)" fill="#000" fill-opacity="0.08" filter="url(#b20)"/>
<ellipse cx="113.5" cy="214.5" rx="3.5" ry="2.6" transform="rotate(-20 113.5 214.5)" fill="#000" fill-opacity="0.3" filter="url(#b15)"/>
<path d="M133.3 193.1h0M106.8 222.3h0M123.6 215.9h0M116.5 216.2h0M134.3 199.5h0M119.9 195.3h0M117.3 214.4h0M139.1 189.1h0M113.2 216.2h0M114.7 212.6h0M102.9 195.7h0M116.5 215.2h0M114.7 197.8h0M110.2 214.1h0M116.1 212.3h0M114.9 197.0h0M128.6 215.5h0M131.0 195.8h0M123.9 213.3h0M122.4 213.7h0M111.0 214.8h0M115.9 203.0h0M130.7 193.6h0M131.8 200.8h0M129.2 197.9h0M135.2 216.9h0M112.8 214.8h0M114.7 217.0h0M115.9 212.2h0M113.5 213.1h0M131.2 197.6h0M131.8 200.8h0M131.0 198.2h0M112.2 207.5h0M110.6 217.7h0M112.0 212.5h0M117.2 215.9h0M125.1 209.8h0M124.2 208.7h0M135.1 191.6h0M136.8 190.8h0M115.6 214.3h0M110.5 215.8h0M115.5 218.6h0M110.5 215.6h0M115.5 199.7h0M131.0 212.5h0M125.9 198.5h0M128.4 200.9h0M112.8 216.8h0M109.0 209.1h0M139.8 189.2h0M110.4 200.1h0M116.6 209.9h0M136.7 210.0h0M130.2 195.8h0M107.1 216.7h0M114.6 216.6h0M133.1 199.2h0M111.2 219.3h0M110.9 212.9h0M116.8 214.1h0M114.9 221.1h0M119.4 214.9h0M125.8 206.4h0M135.7 194.1h0M109.4 216.4h0M138.8 194.1h0M113.4 215.4h0M116.3 207.4h0M110.9 194.9h0M148.5 188.0h0M118.7 203.1h0M109.0 212.3h0M124.4 203.8h0M113.4 210.1h0M114.5 187.2h0M120.5 218.5h0M114.5 199.6h0M114.5 192.4h0M113.2 216.5h0M120.3 218.6h0M125.1 207.4h0M113.5 210.1h0M117.3 213.9h0M111.6 210.5h0M118.3 216.6h0M124.6 200.6h0M117.4 205.5h0M112.6 214.5h0M110.9 213.3h0M115.2 219.6h0M113.6 205.1h0M120.7 215.2h0M109.9 216.1h0M121.6 207.9h0M112.0 216.2h0M114.1 193.6h0M107.8 213.3h0M140.0 199.8h0M126.4 206.6h0M117.1 189.0h0M114.1 210.8h0M122.9 217.3h0M110.7 216.7h0M133.7 194.2h0M116.9 211.1h0M115.5 217.1h0M128.9 197.5h0M119.5 214.8h0M129.7 203.8h0M115.7 207.9h0M114.9 214.6h0M110.0 213.1h0M127.8 212.1h0M119.9 212.3h0M110.4 211.8h0M118.9 195.0h0M108.4 199.5h0M111.7 212.9h0M131.8 201.9h0M112.1 216.9h0M116.2 211.1h0M114.9 212.4h0M111.2 207.7h0M136.7 193.2h0M102.6 195.3h0M112.7 192.0h0M108.4 204.2h0M113.4 210.3h0M131.2 196.6h0M111.2 216.1h0M118.1 207.0h0M134.6 195.3h0M109.2 201.5h0M117.1 205.3h0M114.8 212.4h0M115.4 194.8h0M116.8 210.5h0M128.7 206.4h0M128.4 199.7h0M123.6 212.5h0M129.0 200.6h0M122.0 214.0h0M119.1 214.8h0M145.7 190.5h0M129.2 189.7h0M116.0 191.0h0M111.5 208.6h0" stroke="#000" stroke-opacity="0.16" stroke-width="0.8" stroke-linecap="round" fill="none"/>
<path d="M133.9 199.6h0M108.6 215.3h0M125.2 202.7h0M112.3 219.3h0M105.7 200.9h0M115.4 215.4h0M127.9 196.2h0M132.1 207.2h0M110.6 208.7h0M123.1 217.3h0M110.6 195.5h0M114.0 215.7h0M113.9 195.0h0M114.1 210.6h0M109.1 216.3h0M119.7 218.1h0M112.4 212.6h0M113.7 217.4h0M117.0 208.7h0M126.7 207.8h0M118.0 209.3h0M118.3 215.3h0M110.1 214.7h0M125.2 216.2h0M132.2 204.8h0M112.4 200.6h0M111.5 216.5h0M115.6 192.5h0M114.7 215.7h0M121.7 192.4h0M124.5 199.0h0M112.5 197.7h0M132.2 200.5h0M112.4 214.7h0M112.7 218.7h0M113.6 212.3h0M110.7 209.6h0M113.0 188.4h0M115.1 217.3h0M112.1 220.7h0M110.4 215.3h0M103.3 208.5h0M112.4 214.7h0M117.3 218.1h0M122.4 217.4h0M116.6 214.1h0M112.9 213.0h0M109.3 195.5h0M130.3 202.2h0M115.1 213.8h0M113.0 212.0h0M114.7 188.4h0M114.9 203.3h0M111.2 218.5h0M113.4 206.9h0M109.8 214.6h0M114.6 194.9h0M115.0 194.3h0M130.3 208.0h0M112.3 210.1h0M113.7 217.5h0M133.0 199.4h0M113.1 212.3h0M119.9 216.3h0M125.8 191.1h0M111.3 207.3h0M132.0 213.0h0M115.4 203.1h0M140.5 198.8h0M106.3 218.2h0M124.5 206.2h0M114.9 195.1h0M125.5 199.0h0M129.6 200.2h0M112.7 213.4h0M114.5 215.7h0M116.1 221.0h0M114.4 217.0h0M125.1 208.7h0M106.5 208.1h0M104.1 219.6h0M121.9 215.3h0M111.9 208.5h0M111.6 220.2h0M111.0 221.5h0M114.4 217.9h0M113.4 215.6h0M136.3 195.6h0M111.9 201.3h0M138.2 190.6h0M119.2 206.2h0M112.9 210.6h0M118.5 212.4h0M109.1 206.5h0M110.6 204.7h0M109.5 214.5h0M118.4 206.3h0M119.2 190.1h0M117.7 209.1h0M113.2 220.1h0M113.5 211.6h0M109.9 217.4h0M114.5 203.1h0M137.2 186.4h0M116.4 217.4h0M143.4 186.1h0M107.4 217.2h0M135.4 190.8h0M109.7 215.3h0M106.2 216.4h0M114.7 212.9h0M109.7 216.6h0M115.7 215.4h0M119.4 214.3h0M117.6 213.1h0M120.4 202.3h0M113.7 218.8h0M118.6 213.8h0M119.9 209.2h0M111.2 204.6h0M113.5 215.7h0M109.9 223.5h0M131.1 197.0h0M109.6 223.7h0M117.7 209.2h0M113.8 215.1h0M112.7 213.5h0M112.8 213.0h0M113.7 188.6h0M126.6 200.9h0M114.5 205.7h0M116.6 206.6h0M116.5 220.2h0M119.9 207.8h0M116.6 205.8h0M124.7 205.2h0M116.3 213.2h0M108.4 215.0h0M112.3 215.5h0M126.1 211.9h0M117.2 211.3h0M112.0 179.5h0M114.8 214.0h0M116.1 213.0h0M115.2 208.8h0M120.3 212.8h0" stroke="#000" stroke-opacity="0.16" stroke-width="0.8" stroke-linecap="round" fill="none"/>
<path d="M131.2 199.0h0M139.9 188.0h0M118.5 217.0h0M114.7 216.2h0M110.0 219.7h0M128.2 203.7h0M103.9 213.1h0M121.4 199.7h0M131.7 205.0h0M122.2 216.0h0M130.4 197.0h0M113.6 218.0h0M116.1 210.2h0M119.7 203.5h0M115.3 219.5h0M112.4 210.1h0M111.0 208.8h0M115.9 216.0h0M118.0 216.2h0M112.0 185.4h0M120.1 208.8h0M129.7 200.8h0M111.9 212.5h0M133.1 192.1h0M114.8 215.7h0M121.6 212.0h0M111.8 216.6h0M129.2 194.6h0M112.6 217.5h0M113.7 213.2h0M117.0 210.6h0M124.6 204.2h0M109.4 206.8h0M122.4 201.8h0M120.4 209.2h0M129.0 201.0h0M125.9 206.0h0M115.0 213.3h0M116.4 203.5h0M124.2 212.6h0M123.2 205.0h0M133.1 211.4h0M116.1 212.7h0M108.1 199.9h0M135.6 196.1h0M115.3 217.0h0M131.8 198.6h0M139.2 193.0h0M113.6 216.3h0M114.9 215.0h0M115.6 214.0h0M111.6 211.2h0M111.9 204.3h0M107.5 214.6h0M115.1 207.9h0M115.2 210.9h0M114.0 209.5h0M107.8 201.1h0M112.2 220.0h0M112.0 216.3h0M115.4 200.9h0M131.0 196.8h0M112.0 215.0h0M126.7 204.9h0M126.0 210.2h0M124.5 213.9h0M112.6 203.6h0M119.7 216.5h0M133.8 199.6h0M116.3 213.5h0M135.1 192.0h0M111.7 205.6h0M115.3 213.4h0M116.8 210.3h0M107.4 219.5h0M107.7 199.8h0M114.4 213.9h0M111.2 210.8h0M118.8 193.3h0M122.5 211.7h0M113.6 207.5h0M113.7 216.0h0M117.8 209.7h0M108.8 214.6h0M102.4 200.6h0M110.2 212.2h0M109.8 210.8h0M134.5 189.2h0M124.8 203.0h0M130.0 205.7h0M131.6 204.5h0M108.0 213.7h0M112.4 211.7h0M122.6 216.3h0M135.1 185.7h0M107.0 209.2h0M115.4 215.3h0M116.1 216.5h0M121.4 201.8h0M139.8 187.5h0M110.7 181.6h0M113.2 192.8h0M112.6 214.9h0M121.9 216.3h0M113.8 211.9h0M114.7 215.8h0M129.1 193.4h0M114.9 215.9h0M110.6 217.2h0M123.7 205.0h0M130.1 191.4h0M114.2 212.8h0M114.4 221.2h0M114.8 214.4h0M115.7 215.9h0M100.4 215.2h0M114.1 209.5h0M109.6 191.6h0M113.1 214.8h0M123.9 216.9h0M133.0 208.5h0M111.8 200.4h0M112.3 203.6h0M116.6 213.5h0M123.4 187.1h0M122.3 214.5h0M117.2 211.1h0M110.8 216.6h0M114.4 189.2h0M116.1 222.5h0M123.3 214.7h0M107.0 198.2h0M128.4 202.7h0M113.6 201.0h0M137.6 188.0h0M104.9 199.7h0M109.4 218.6h0M121.7 209.4h0M114.5 214.7h0M120.9 201.3h0M114.3 223.8h0M111.4 215.8h0M109.3 216.7h0M121.4 205.8h0M114.0 215.8h0M117.5 212.7h0M113.1 209.2h0" stroke="#000" stroke-opacity="0.16" stroke-width="0.8" stroke-linecap="round" fill="none"/>
<path d="M113.1 215.5h0M128.4 204.6h0M126.6 211.5h0M111.4 186.4h0M112.5 210.7h0M113.1 213.2h0M115.1 214.3h0M114.6 217.3h0M114.5 203.3h0M111.6 198.5h0M105.6 213.3h0M112.1 183.2h0M110.3 187.6h0M108.3 218.2h0M113.9 214.2h0M114.2 217.5h0M115.6 215.2h0M115.6 196.6h0M115.6 215.7h0M115.9 215.2h0M123.7 215.5h0M111.0 193.5h0M118.8 194.8h0M111.8 215.0h0M124.5 211.9h0M122.3 218.8h0M112.0 213.2h0M103.5 215.7h0M114.7 214.0h0M113.9 213.0h0M108.7 210.7h0M122.1 204.4h0M113.0 215.9h0M115.7 212.7h0M102.6 198.8h0M110.6 217.8h0M112.3 217.1h0M111.8 217.0h0M124.9 209.3h0M121.7 206.0h0M123.6 202.3h0M126.3 215.3h0M112.8 217.0h0M105.2 198.4h0M125.4 210.9h0M112.9 213.0h0M126.1 194.6h0M134.5 191.9h0M117.3 218.5h0M121.1 213.3h0M135.0 193.1h0M113.2 217.6h0M120.7 212.1h0M112.6 212.7h0M114.1 219.2h0M141.6 191.6h0M122.2 209.7h0M114.9 206.9h0M113.0 213.9h0M127.2 195.5h0M114.0 213.2h0M109.6 212.5h0M125.4 197.4h0M126.9 215.6h0M109.7 211.2h0M127.6 216.6h0M115.1 213.8h0M131.5 196.9h0M135.3 206.2h0M119.9 211.0h0M123.9 204.8h0M111.0 196.2h0M115.4 190.3h0M108.9 211.5h0M132.1 195.8h0M112.1 212.9h0M114.9 210.9h0M107.7 215.2h0M114.8 203.4h0M111.7 195.5h0M106.8 202.3h0M120.3 212.3h0M121.7 214.1h0M124.2 210.8h0M113.7 198.8h0M112.7 216.8h0M113.2 215.9h0M117.9 217.1h0M116.7 220.6h0M114.8 205.4h0M119.4 205.5h0M111.4 216.3h0M107.0 198.5h0M112.9 182.1h0M108.8 196.9h0M113.8 213.1h0M116.5 213.5h0M135.3 197.5h0M100.3 211.1h0M109.7 200.4h0M111.5 212.1h0M129.5 201.6h0M110.3 218.2h0M121.3 205.5h0M117.7 210.8h0M134.1 208.3h0M108.0 214.0h0M134.8 192.2h0M119.1 211.9h0M123.7 215.5h0M115.7 201.4h0M119.2 207.4h0M127.5 213.3h0M125.9 203.6h0M119.0 205.9h0M127.8 202.3h0M108.1 203.8h0M121.2 212.8h0M115.6 210.3h0M133.2 186.8h0M108.6 204.8h0M109.7 206.4h0M138.3 195.2h0M112.2 215.8h0M115.2 211.4h0M119.0 212.3h0M110.1 218.1h0M113.8 211.3h0M121.5 208.7h0M110.4 212.4h0M115.6 216.5h0M117.9 211.8h0M113.3 209.9h0M128.1 196.2h0M112.7 211.0h0M127.4 212.9h0M124.9 209.5h0M111.0 196.6h0M127.9 197.2h0M116.2 209.3h0M113.3 215.7h0M112.8 214.3h0M133.1 195.1h0M114.7 211.4h0M122.6 215.2h0M115.6 192.5h0M130.3 208.2h0M137.3 203.6h0" stroke="#000" stroke-opacity="0.16" stroke-width="0.8" stroke-linecap="round" fill="none"/>
<path d="M116.4 215.5h0M119.2 216.2h0M108.8 201.9h0M116.9 198.0h0M117.3 217.2h0M126.2 212.1h0M114.7 203.5h0M128.3 203.1h0M108.3 219.8h0M102.9 189.5h0M121.9 211.8h0M131.3 197.0h0M112.1 215.0h0M113.4 215.3h0M113.4 189.7h0M115.6 209.3h0M115.4 208.0h0M116.1 213.6h0M115.6 191.5h0M111.6 206.6h0M113.9 204.0h0M113.0 214.1h0M113.3 211.5h0M111.5 220.0h0M115.5 199.3h0M133.3 182.0h0M124.2 218.9h0M108.2 193.2h0M110.7 200.0h0M111.0 214.6h0M143.0 193.2h0M111.0 217.3h0M127.7 201.6h0M116.8 217.6h0M111.0 203.4h0M119.0 211.8h0M112.3 188.2h0M118.2 210.4h0M112.0 217.5h0M127.8 212.8h0M130.9 195.8h0M118.5 216.6h0M117.8 217.7h0M112.8 210.9h0M118.2 211.7h0M111.8 218.3h0M110.0 201.5h0M114.1 191.3h0M132.2 199.0h0M131.1 197.5h0M114.1 220.1h0M114.1 197.6h0M113.5 189.6h0M111.6 206.3h0M133.9 197.7h0M122.3 213.2h0M128.5 214.8h0M122.0 210.8h0M138.4 198.8h0M127.0 213.9h0M129.8 211.2h0M116.2 197.8h0M109.0 216.7h0M117.9 206.4h0M112.1 217.3h0M122.6 200.1h0M111.2 212.8h0M120.5 213.2h0M127.4 208.4h0M115.2 217.3h0M117.4 213.9h0M109.7 215.6h0M109.6 212.6h0M115.0 202.8h0M113.4 217.8h0M137.7 203.5h0M124.0 209.8h0M112.0 215.4h0M120.8 209.9h0M108.3 193.4h0M109.9 203.5h0M109.7 220.6h0M110.6 206.4h0M114.2 194.5h0M117.2 213.6h0M117.8 210.4h0M111.7 216.1h0M116.5 214.1h0M109.8 216.0h0M125.2 211.2h0M112.8 215.7h0M132.8 203.4h0M111.9 199.1h0M119.4 212.0h0M111.1 206.2h0M115.7 217.2h0M120.0 212.8h0M112.5 214.3h0M137.9 201.0h0M127.2 201.2h0M111.8 209.4h0M126.9 202.8h0M111.3 207.9h0M111.6 217.4h0M111.1 195.4h0M114.6 211.1h0M111.2 210.0h0M112.8 212.2h0M114.3 210.2h0M114.1 217.3h0M128.7 202.3h0M111.3 198.6h0M114.9 213.5h0M115.2 198.8h0M111.6 213.2h0M114.2 211.8h0M115.3 192.9h0M111.2 213.3h0M109.6 213.5h0M130.3 216.0h0M114.0 196.0h0M107.9 212.8h0M118.3 206.7h0M134.3 199.4h0M125.6 197.6h0M123.5 212.8h0M113.0 214.8h0M116.9 219.8h0M112.7 199.0h0M120.7 210.3h0M114.2 210.8h0M116.8 193.0h0M117.4 214.8h0M121.1 206.0h0M129.6 197.8h0M109.2 215.9h0M125.8 215.3h0M117.5 203.8h0M132.0 204.1h0M131.8 205.9h0M134.8 190.5h0M115.3 213.7h0M116.3 206.3h0M119.0 211.2h0M122.9 205.7h0M133.0 197.3h0M116.2 194.8h0" stroke="#000" stroke-opacity="0.16" stroke-width="0.8" stroke-linecap="round" fill="none"/>
<path d="M114.1 218.5h0M112.9 211.0h0M115.5 209.3h0M119.6 209.2h0M112.7 214.1h0M122.4 218.9h0M134.8 196.7h0M116.7 213.5h0M112.7 216.2h0M122.4 211.2h0M133.9 200.9h0M112.6 198.0h0M139.2 193.5h0M107.9 202.1h0M111.7 209.9h0M109.5 220.6h0M135.2 205.4h0M113.8 214.2h0M132.2 200.5h0M114.3 215.7h0M118.2 205.2h0M121.3 217.3h0M117.8 212.4h0M115.4 216.8h0M112.2 202.9h0M113.7 213.6h0M110.1 221.3h0M114.5 211.9h0M110.0 212.1h0M122.3 214.6h0M113.2 200.5h0M119.4 215.3h0M130.5 204.2h0M113.5 218.4h0M130.1 194.9h0M112.9 211.9h0M113.8 192.2h0M138.9 196.5h0M112.9 213.3h0M113.0 210.0h0M116.6 215.7h0M115.7 213.8h0M111.8 215.0h0M111.6 209.7h0M107.9 212.2h0M101.1 214.9h0M111.8 215.9h0M123.7 207.6h0M138.5 194.7h0M118.4 215.0h0M118.5 201.8h0M115.8 203.0h0M139.1 201.8h0M100.8 206.2h0M128.7 201.9h0M126.7 216.3h0M112.3 214.5h0M115.0 217.0h0M112.3 212.9h0M119.9 195.3h0M114.1 207.9h0M112.1 196.0h0M109.9 214.3h0M114.8 197.0h0M112.3 203.8h0M116.3 200.0h0M112.7 207.6h0M114.3 216.2h0M110.1 215.2h0M114.3 208.8h0M110.3 216.4h0M114.0 211.7h0M116.3 207.7h0M125.2 214.7h0M119.5 213.9h0M115.6 215.7h0M115.8 214.1h0M109.2 223.0h0M118.3 214.6h0M114.1 189.4h0M109.8 184.0h0M111.3 211.3h0M116.2 214.5h0M112.2 207.3h0M126.3 204.6h0M126.3 206.6h0M115.8 200.2h0M113.5 196.7h0M110.5 213.0h0M124.8 200.4h0M110.0 187.7h0M112.5 205.9h0M124.4 196.0h0M137.9 194.1h0M111.2 199.5h0M115.5 200.2h0M143.0 192.4h0M114.0 207.2h0M112.2 214.0h0M118.1 212.4h0M113.3 189.9h0M111.3 217.0h0M110.6 206.5h0M134.8 199.5h0M139.0 191.5h0M129.5 210.1h0M130.8 191.7h0M110.1 188.1h0M113.2 193.5h0M112.7 206.8h0M113.9 215.2h0M111.1 214.1h0M131.8 213.5h0M123.5 202.5h0M108.1 215.0h0M117.6 212.0h0M110.5 193.6h0M113.0 192.7h0M115.2 212.4h0M117.2 208.2h0M134.4 195.3h0M118.8 212.8h0M111.6 210.0h0M110.9 214.5h0M118.3 201.1h0M117.5 187.6h0M132.2 198.4h0M116.5 211.7h0M114.1 212.4h0M132.7 199.7h0M123.0 200.4h0M119.3 200.4h0M109.3 216.3h0M116.6 199.6h0M121.8 202.9h0M115.2 209.7h0M134.8 196.2h0M110.8 217.3h0M127.8 209.5h0M125.5 207.4h0M114.0 214.6h0M112.7 214.6h0M138.9 194.1h0M123.8 201.9h0" stroke="#000" stroke-opacity="0.16" stroke-width="0.8" stroke-linecap="round" fill="none"/>
<ellipse cx="112.5" cy="282.5" rx="2.6" ry="2.2" transform="rotate(-30 112.5 282.5)" fill="#000" fill-opacity="0.9" filter="url(#b10)"/>
<ellipse cx="126.3" cy="270.8" rx="9" ry="1.9" transform="rotate(-45 126.3 270.8)" fill="#000" fill-opacity="0.45" filter="url(#b14)"/>
<path d="M110.1 277.2h0M120.9 281.8h0M114.8 282.2h0M116.6 267.8h0M135.3 265.5h0M125.4 270.5h0M126.6 269.9h0M111.5 279.7h0M111.7 285.2h0M114.6 282.9h0M125.0 265.8h0M130.4 272.3h0M127.7 276.3h0M124.4 272.9h0M129.7 268.4h0M128.4 271.4h0M115.0 283.4h0M124.3 284.3h0M128.1 274.5h0M128.8 271.8h0M124.9 268.2h0M125.4 272.8h0M126.7 271.9h0M131.7 266.7h0M131.3 266.2h0M116.9 281.3h0M127.8 265.7h0M134.2 266.7h0M113.5 282.0h0M128.5 268.1h0M120.3 271.3h0M122.3 278.1h0M128.0 267.4h0M127.6 269.1h0M125.2 272.1h0M127.1 270.5h0M108.8 285.1h0M139.6 280.0h0M126.4 266.3h0M123.1 274.3h0M117.4 276.9h0M121.2 274.0h0M111.4 283.9h0M121.1 277.0h0M113.6 282.1h0M113.9 288.6h0M133.7 263.2h0M119.9 269.6h0M125.4 268.8h0M127.0 286.1h0M121.8 270.8h0M129.6 268.7h0M110.4 277.9h0M129.0 283.3h0M111.1 279.5h0M119.3 277.5h0M113.8 279.6h0M113.1 276.3h0M118.1 264.5h0M111.3 284.1h0M120.6 276.3h0M115.9 262.8h0M125.7 267.6h0M124.4 270.7h0M126.4 270.8h0M135.4 264.8h0M122.7 272.4h0M130.0 265.0h0M123.2 270.7h0M127.6 268.9h0M110.4 280.1h0M111.2 262.5h0M107.0 283.1h0M109.6 280.4h0M114.9 284.2h0M130.9 265.0h0M117.4 283.2h0M123.0 274.6h0M128.8 264.0h0M116.0 281.9h0M129.7 266.1h0M115.1 279.7h0M111.2 284.6h0M139.9 264.6h0M110.1 280.4h0M124.0 268.2h0M110.3 279.5h0M109.9 274.5h0M115.8 280.6h0M113.9 280.5h0M113.9 281.5h0M124.7 273.9h0M116.6 281.5h0M133.7 262.6h0M109.2 276.5h0M129.9 265.1h0M127.9 271.8h0M131.5 265.9h0M122.1 288.8h0M133.5 263.5h0M108.5 282.0h0M111.8 284.4h0M127.3 273.6h0M116.3 281.3h0M112.5 279.5h0M109.8 290.3h0M128.3 268.6h0M124.7 268.3h0M111.9 280.9h0M111.6 282.9h0M128.7 269.4h0M110.6 285.5h0M113.0 283.7h0M124.2 276.0h0M113.4 265.7h0M123.7 271.4h0M130.0 266.8h0M134.7 262.8h0M113.2 281.0h0M121.0 281.0h0M119.5 276.5h0M127.8 270.2h0M119.5 284.9h0M111.0 290.4h0M127.1 264.9h0M120.8 273.1h0M113.3 286.2h0M120.8 277.9h0M122.2 278.7h0M117.1 284.7h0M110.8 282.7h0M126.2 274.4h0M128.2 271.2h0M116.4 280.9h0M112.3 286.8h0M121.9 275.3h0M131.1 265.2h0M133.0 267.8h0M126.0 267.7h0M123.9 272.4h0M133.0 262.6h0M111.7 277.5h0M110.9 282.2h0M126.4 266.6h0M111.0 279.9h0M113.2 283.3h0M112.6 280.4h0M126.5 273.5h0M119.1 272.5h0M114.4 284.4h0M109.7 280.9h0M133.5 265.2h0M133.1 265.9h0M117.0 279.8h0M111.9 284.9h0M128.8 269.5h0M118.8 275.2h0M111.9 281.0h0M109.3 283.2h0M128.1 271.3h0M130.3 271.0h0M108.3 283.4h0M117.5 272.8h0M121.5 275.2h0M125.9 276.3h0M115.2 277.7h0M112.7 284.4h0M112.3 281.9h0M125.2 284.2h0M132.3 268.8h0M117.4 279.2h0M116.3 281.2h0M116.6 262.2h0M113.6 268.0h0M116.3 277.2h0M117.5 279.1h0M117.8 265.1h0M117.6 281.6h0M135.7 286.5h0M129.0 266.7h0M124.6 273.6h0M115.9 273.4h0M116.1 279.9h0M119.4 278.6h0" stroke="#000" stroke-opacity="0.2" stroke-width="0.8" stroke-linecap="round" fill="none"/>
<path d="M127.8 267.0h0M110.8 270.3h0M105.2 284.3h0M134.9 260.4h0M126.3 267.3h0M102.0 266.5h0M110.5 283.3h0M110.9 281.1h0M110.0 282.6h0M119.6 273.1h0M132.9 286.6h0M124.0 273.7h0M113.1 282.5h0M116.4 283.4h0M126.6 275.1h0M125.0 270.1h0M107.7 287.0h0M139.1 262.6h0M130.6 265.6h0M106.3 281.1h0M125.7 273.0h0M111.9 280.9h0M122.8 271.5h0M115.1 271.7h0M110.9 272.5h0M117.0 282.0h0M137.7 259.2h0M114.7 285.6h0M113.0 268.2h0M124.3 290.2h0M118.0 280.1h0M116.2 278.4h0M123.4 284.8h0M129.7 267.1h0M112.1 285.6h0M130.0 266.6h0M128.2 268.4h0M116.1 282.4h0M120.4 280.0h0M109.7 282.9h0M118.3 267.7h0M129.9 264.8h0M129.3 272.7h0M126.9 270.6h0M122.1 276.5h0M129.1 269.7h0M114.6 283.8h0M120.7 276.2h0M137.6 261.5h0M110.1 280.0h0M128.1 270.4h0M133.0 267.8h0M113.5 284.5h0M116.2 275.7h0M117.4 282.4h0M113.8 282.7h0M128.3 272.6h0M127.3 268.5h0M123.0 287.5h0M139.3 249.7h0M136.9 261.4h0M109.2 280.3h0M113.9 284.7h0M130.7 264.6h0M106.9 287.6h0M123.0 274.1h0M106.8 281.0h0M119.0 289.4h0M128.4 265.9h0M110.4 270.9h0M118.6 276.9h0M121.0 282.9h0M116.2 261.3h0M111.4 267.7h0M137.0 259.1h0M123.9 289.6h0M115.1 279.1h0M111.5 284.8h0M112.3 287.2h0M133.3 264.1h0M129.8 269.2h0M116.5 284.3h0M126.2 269.9h0M116.8 277.8h0M122.5 285.0h0M116.4 279.4h0M129.2 267.9h0M115.1 281.2h0M108.7 273.2h0M117.3 267.8h0M114.9 285.5h0M109.5 281.2h0M125.6 271.5h0M125.3 274.1h0M113.4 280.7h0M124.2 275.6h0M117.8 279.0h0M110.9 279.8h0M110.7 268.1h0M113.2 285.5h0M108.5 282.9h0M125.9 288.1h0M115.7 287.9h0M112.6 262.5h0M126.3 274.2h0M115.2 260.6h0M113.5 278.7h0M132.5 269.4h0M138.2 260.5h0M119.6 275.0h0M129.8 271.9h0M113.5 265.6h0M124.3 274.4h0M117.8 284.0h0M126.3 273.5h0M107.1 282.0h0M127.3 270.2h0M113.9 283.1h0M112.7 279.6h0M109.1 282.0h0M122.2 271.4h0M130.7 267.6h0M133.5 260.9h0M131.9 265.1h0M112.8 281.1h0M114.3 282.2h0M111.6 280.7h0M125.4 274.7h0M111.6 265.9h0M116.3 287.4h0M111.4 282.7h0M121.5 270.5h0M114.5 263.8h0M133.3 263.7h0M119.7 271.4h0M118.9 271.8h0M119.4 277.7h0M124.4 272.4h0M123.0 275.2h0M111.4 278.1h0M123.1 271.3h0M127.6 284.8h0M108.3 266.2h0M125.9 266.3h0M111.3 262.4h0M110.8 266.7h0M124.1 283.3h0M130.3 266.3h0M128.6 266.8h0M110.5 284.9h0M120.7 275.6h0M128.9 264.0h0M119.7 275.9h0M111.0 285.1h0M128.4 264.1h0M117.4 281.8h0M125.7 270.3h0M126.6 271.8h0M116.5 274.9h0M130.3 281.7h0M128.1 267.2h0M135.4 261.5h0M113.2 282.9h0M122.2 270.3h0M111.6 282.5h0M109.2 283.4h0M114.4 282.2h0M109.4 278.4h0M108.3 285.4h0M133.6 263.5h0M128.3 264.3h0M119.8 278.3h0M119.6 271.1h0M116.3 284.4h0M114.2 277.4h0M126.8 270.3h0M109.7 281.0h0M125.3 279.4h0M123.9 270.3h0M120.2 284.7h0M114.0 282.5h0M130.8 266.0h0M132.5 264.3h0M126.2 273.3h0" stroke="#000" stroke-opacity="0.2" stroke-width="0.8" stroke-linecap="round" fill="none"/>
<path d="M134.1 265.6h0M115.9 284.1h0M124.5 268.6h0M132.1 267.2h0M131.0 265.5h0M132.1 266.1h0M115.9 264.7h0M131.3 270.2h0M110.5 283.9h0M127.2 265.6h0M118.4 281.1h0M123.6 271.5h0M113.9 281.6h0M114.3 277.3h0M110.0 277.3h0M115.5 274.0h0M131.0 268.8h0M127.3 267.9h0M118.3 282.1h0M128.2 265.7h0M112.2 281.8h0M111.5 267.8h0M115.5 285.3h0M113.1 279.7h0M126.7 272.6h0M117.5 280.4h0M112.0 280.9h0M130.1 269.0h0M118.1 282.7h0M112.3 278.4h0M114.4 285.0h0M112.2 280.2h0M116.3 265.0h0M127.8 265.9h0M124.1 273.7h0M113.7 279.6h0M112.5 283.0h0M116.6 284.2h0M126.9 272.0h0M114.9 278.9h0M116.7 279.5h0M130.2 287.2h0M109.8 286.6h0M128.9 270.6h0M143.1 259.4h0M124.5 271.4h0M125.3 270.4h0M110.0 282.4h0M134.8 261.9h0M134.3 265.2h0M124.0 269.0h0M111.0 280.8h0M125.6 269.7h0M111.5 283.3h0M125.8 272.0h0M109.7 269.2h0M132.5 265.5h0M125.1 273.5h0M124.2 270.6h0M112.3 280.7h0M114.6 267.8h0M124.6 280.2h0M122.8 284.1h0M125.4 276.8h0M123.0 279.6h0M116.3 281.2h0M126.0 270.6h0M112.7 286.2h0M107.6 268.3h0M121.8 273.9h0M113.2 272.7h0M119.2 276.7h0M117.6 283.5h0M124.0 269.6h0M128.5 268.3h0M110.8 284.1h0M133.6 264.9h0M104.6 265.4h0M131.5 266.7h0M110.3 284.7h0M131.8 266.5h0M125.1 285.6h0M109.9 284.7h0M127.4 268.4h0M144.7 288.5h0M121.1 276.6h0M133.2 264.9h0M133.4 266.7h0M134.1 267.4h0M115.6 281.9h0M113.0 283.3h0M132.7 268.2h0M111.5 278.7h0M111.9 281.4h0M118.2 278.1h0M125.8 278.3h0M122.5 284.2h0M133.4 267.6h0M135.5 262.6h0M122.7 273.5h0M111.8 279.0h0M129.9 271.0h0M113.9 264.1h0M124.4 272.0h0M131.2 285.9h0M127.0 267.0h0M115.7 262.0h0M127.4 268.3h0M113.8 286.5h0M128.5 268.5h0M111.8 282.9h0M113.1 266.3h0M113.7 278.9h0M112.6 283.7h0M115.3 261.6h0M128.4 270.1h0M132.0 273.2h0M113.9 281.1h0M113.7 262.7h0M110.5 284.6h0M126.7 273.1h0M123.4 274.3h0M109.0 281.0h0M113.9 278.5h0M125.1 272.9h0M111.8 282.7h0M110.6 280.5h0M115.3 284.7h0M104.0 282.6h0M110.8 281.6h0M114.2 288.6h0M127.0 281.4h0M113.1 289.1h0M112.7 283.2h0M129.7 271.5h0M116.2 279.3h0M113.1 282.3h0M123.8 277.4h0M127.1 273.3h0M122.7 273.7h0M118.1 284.7h0M112.4 281.7h0M127.2 268.2h0M137.1 259.9h0M118.5 279.7h0M122.1 270.8h0M110.5 260.6h0M120.5 276.4h0M129.6 264.6h0M108.5 281.6h0M110.1 285.5h0M109.4 281.1h0M115.8 281.4h0M117.1 281.9h0M112.2 281.5h0M106.8 285.3h0M141.8 256.8h0M128.5 266.8h0M128.8 267.4h0M124.8 268.8h0M129.4 270.1h0M115.5 281.4h0M115.8 282.7h0M127.9 274.5h0M109.2 285.2h0M113.3 285.2h0M112.1 269.5h0M128.9 267.7h0M112.4 270.2h0M113.1 269.6h0M124.7 270.9h0M108.7 282.1h0M133.5 267.4h0M129.9 271.7h0M120.0 269.9h0M119.9 277.0h0M124.0 270.6h0M132.7 263.9h0M116.7 282.2h0M110.8 257.8h0M118.0 279.2h0M123.5 278.7h0M104.6 279.9h0" stroke="#000" stroke-opacity="0.2" stroke-width="0.8" stroke-linecap="round" fill="none"/>
<path d="M131.8 266.6h0M112.9 284.3h0M119.2 285.3h0M125.9 272.8h0M109.3 284.7h0M113.2 279.0h0M120.6 270.2h0M109.9 281.2h0M117.0 275.4h0M116.6 286.1h0M127.4 262.7h0M109.0 270.4h0M110.2 279.8h0M115.2 283.3h0M111.9 282.9h0M125.7 267.1h0M124.6 274.0h0M131.8 274.0h0M130.8 264.0h0M113.7 271.6h0M129.5 269.9h0M119.8 274.3h0M111.7 284.3h0M138.2 263.5h0M117.6 282.2h0M114.9 280.9h0M118.8 275.0h0M124.4 273.8h0M113.9 261.1h0M123.6 274.2h0M127.5 267.6h0M136.5 282.9h0M128.9 269.7h0M121.4 273.7h0M132.6 261.8h0M115.0 258.1h0M113.0 263.6h0M115.0 278.0h0M122.9 283.3h0M117.3 286.7h0M109.2 281.8h0M119.1 268.5h0M120.4 275.2h0M108.3 277.9h0M122.1 269.2h0M112.9 281.0h0M109.7 266.9h0M113.3 267.9h0M125.5 269.6h0M112.8 281.3h0M126.3 268.8h0M118.3 278.1h0M113.0 264.2h0M129.8 271.2h0M115.8 275.2h0M112.1 281.3h0M133.7 261.2h0M114.4 278.6h0M109.9 281.3h0M125.8 277.1h0M99.1 282.6h0M132.3 268.6h0M123.6 274.1h0M118.0 262.1h0M128.1 269.0h0M113.4 269.2h0M123.3 267.2h0M110.2 278.9h0M122.8 284.1h0M106.3 283.1h0M113.8 270.1h0M110.9 263.3h0M112.5 282.6h0M109.9 286.0h0M112.1 266.1h0M117.4 278.4h0M114.5 272.9h0M116.6 268.0h0M111.1 280.0h0M120.7 273.5h0M127.5 269.3h0M124.2 271.5h0M116.2 269.9h0M109.9 285.5h0M118.8 283.6h0M119.6 276.2h0M127.1 278.0h0M126.3 269.1h0M116.3 282.9h0M130.9 268.7h0M114.0 283.6h0M114.6 262.9h0M122.4 275.4h0M128.9 279.3h0M115.3 279.2h0M114.6 280.5h0M112.2 280.0h0M126.6 273.1h0M107.4 274.3h0M112.5 279.5h0M132.8 264.3h0M130.1 269.4h0M123.2 274.3h0M129.1 284.1h0M140.1 282.0h0M123.9 288.8h0M111.2 278.9h0M112.2 267.6h0M103.5 280.4h0M122.9 275.2h0M114.6 283.3h0M125.7 267.4h0M134.6 263.8h0M111.0 281.2h0M114.1 282.5h0M116.0 261.1h0M129.2 282.2h0M113.6 281.6h0M109.2 267.4h0M115.4 283.8h0M120.7 276.9h0M106.7 284.5h0M126.7 266.8h0M114.0 283.5h0M132.3 261.3h0M131.7 268.8h0M123.6 268.7h0M116.1 266.5h0M125.0 274.2h0M112.7 282.4h0M131.2 267.0h0M107.9 285.4h0M126.7 273.0h0M124.8 267.0h0M114.9 262.4h0M113.0 282.3h0M110.2 285.7h0M117.2 274.9h0M114.5 279.2h0M129.3 264.7h0M114.4 263.0h0M116.6 281.2h0M125.4 269.9h0M120.1 281.2h0M132.6 272.3h0M118.7 283.6h0M115.0 277.3h0M128.8 264.6h0M125.5 272.6h0M115.4 277.1h0M108.2 267.8h0M112.9 278.1h0M135.6 270.4h0M130.3 284.6h0M111.4 283.5h0M127.1 287.8h0M125.2 265.5h0M113.2 255.2h0M125.1 267.2h0M119.0 278.7h0M114.9 283.4h0M128.4 271.1h0M106.6 270.9h0M117.8 277.2h0M126.9 272.5h0M111.7 279.4h0M111.7 281.1h0M116.7 280.3h0M135.4 264.5h0M111.4 280.3h0M121.6 279.1h0M108.9 266.9h0M120.5 274.6h0M106.6 277.5h0M110.5 264.2h0M107.3 286.5h0M117.6 277.1h0M123.8 271.8h0M114.9 282.8h0M135.0 259.2h0M122.7 276.7h0M112.0 284.1h0M116.4 280.6h0" stroke="#000" stroke-opacity="0.2" stroke-width="0.8" stroke-linecap="round" fill="none"/>
<path d="M121.5 278.2h0M107.4 266.9h0M112.6 264.5h0M138.7 287.5h0M108.3 264.4h0M120.4 275.9h0M112.1 286.8h0M110.7 286.9h0M126.2 268.5h0M128.8 268.7h0M136.4 261.5h0M114.1 281.2h0M127.4 265.0h0M127.1 271.4h0M128.6 273.2h0M119.3 280.8h0M114.7 279.0h0M136.1 286.6h0M117.0 267.1h0M134.4 284.6h0M116.1 286.0h0M122.4 273.2h0M111.2 280.4h0M119.1 265.5h0M118.4 283.4h0M118.2 283.2h0M129.5 270.9h0M112.7 280.2h0M122.2 278.8h0M131.0 268.3h0M122.4 277.2h0M126.6 274.5h0M111.3 280.3h0M113.3 262.4h0M120.4 280.8h0M129.6 271.6h0M114.0 281.3h0M130.6 265.6h0M127.5 268.5h0M126.4 267.8h0M114.3 280.4h0M128.5 272.4h0M125.5 271.3h0M119.5 276.0h0M112.9 278.2h0M126.2 270.3h0M127.7 266.8h0M114.0 283.0h0M120.8 288.1h0M122.8 276.2h0M105.5 278.3h0M120.6 275.5h0M111.7 284.7h0M132.1 266.4h0M135.7 258.1h0M110.7 279.9h0M110.3 286.3h0M112.2 280.1h0M112.5 281.0h0M117.8 278.8h0M113.9 274.0h0M112.6 280.8h0M128.2 285.0h0M116.7 285.0h0M113.1 286.1h0M109.5 279.9h0M119.9 278.2h0M130.7 264.2h0M131.5 264.0h0M130.0 270.3h0M125.0 272.8h0M106.2 284.1h0M124.1 273.8h0M120.6 278.2h0M128.6 284.8h0M122.3 269.7h0M116.2 277.3h0M116.4 281.3h0M132.8 266.5h0M132.2 266.1h0M112.6 280.4h0M120.6 283.1h0M105.6 281.6h0M110.0 284.7h0M112.5 273.4h0M115.3 273.4h0M117.4 285.1h0M131.2 266.4h0M128.2 265.4h0M113.3 283.9h0M110.3 268.3h0M131.2 266.2h0M112.8 283.7h0M118.6 287.1h0M107.7 283.6h0M113.8 270.5h0M109.7 282.1h0M117.0 283.1h0M114.2 286.4h0M113.9 283.7h0M112.1 267.2h0M124.9 283.2h0M116.7 265.6h0M112.0 283.1h0M108.6 277.3h0M113.7 276.4h0M119.3 274.1h0M124.2 278.9h0M118.7 277.6h0M111.6 285.1h0M114.1 279.8h0M112.7 281.0h0M122.3 275.0h0M133.4 264.5h0M131.2 284.0h0M112.2 286.3h0M117.1 278.6h0M128.1 285.5h0M128.9 284.2h0M124.1 269.1h0M119.1 272.0h0M128.6 269.5h0M124.2 272.1h0M113.1 265.8h0M131.1 269.6h0M131.3 281.6h0M138.5 259.0h0M114.8 281.8h0M128.5 272.2h0M122.8 278.2h0M130.7 271.9h0M113.1 280.3h0M119.4 276.3h0M103.5 287.6h0M114.8 284.9h0M125.8 269.2h0M111.1 278.9h0M122.1 271.3h0M110.2 282.3h0M128.0 267.2h0M110.8 280.7h0M115.2 280.6h0M110.4 281.7h0M114.3 260.4h0M118.8 272.6h0M115.5 287.3h0M128.6 263.1h0M129.0 270.8h0M111.8 278.8h0M113.4 282.1h0M136.4 264.2h0M108.7 270.5h0M109.4 281.0h0M134.1 264.9h0M133.2 262.5h0M115.3 277.3h0M111.4 285.9h0M120.5 282.6h0M132.0 263.7h0M112.0 284.1h0M122.8 274.7h0M123.6 275.0h0M122.5 272.8h0M120.2 272.2h0M117.9 279.5h0M125.5 273.9h0M130.8 266.5h0M129.0 265.1h0M120.9 283.6h0M113.3 282.8h0M115.3 268.8h0M126.3 284.5h0M130.3 264.3h0M116.6 268.7h0M116.9 281.7h0M109.2 266.3h0M110.3 283.3h0M122.0 270.4h0M114.3 281.5h0M128.2 270.9h0M116.6 278.1h0M107.2 286.8h0M134.5 261.3h0" stroke="#000" stroke-opacity="0.2" stroke-width="0.8" stroke-linecap="round" fill="none"/>
<path d="M112.2 259.4h0M121.5 266.5h0M135.6 266.0h0M132.0 270.2h0M113.6 270.6h0M120.1 276.2h0M111.7 280.0h0M129.9 269.0h0M108.4 283.3h0M126.4 266.9h0M133.6 269.2h0M127.7 264.4h0M115.1 280.3h0M110.7 270.8h0M133.2 265.3h0M117.9 285.9h0M111.9 262.6h0M126.9 268.6h0M111.0 281.4h0M110.6 282.1h0M114.2 280.0h0M125.3 267.5h0M123.1 274.2h0M123.8 275.3h0M120.0 278.1h0M134.5 264.1h0M112.6 285.8h0M141.7 260.0h0M126.4 267.8h0M113.2 281.8h0M115.6 279.1h0M112.1 281.3h0M132.3 264.1h0M110.3 284.0h0M114.9 278.5h0M121.7 272.7h0M115.0 281.1h0M135.9 260.1h0M137.0 259.7h0M130.8 267.9h0M141.3 257.0h0M114.4 279.7h0M109.6 277.0h0M124.7 271.6h0M123.9 269.8h0M107.0 275.4h0M113.7 279.7h0M115.1 268.4h0M120.0 282.6h0M122.4 276.3h0M115.7 280.3h0M140.7 255.3h0M129.6 263.3h0M111.7 278.5h0M131.5 267.5h0M112.9 277.5h0M133.2 267.2h0M121.3 274.0h0M111.5 289.8h0M111.6 279.3h0M131.4 266.0h0M114.1 283.4h0M113.2 282.0h0M114.6 282.9h0M113.0 283.7h0M110.7 282.4h0M124.3 274.9h0M118.8 279.1h0M131.6 269.2h0M111.4 281.4h0M128.4 290.1h0M114.1 279.3h0M121.0 275.0h0M115.4 267.1h0M116.3 279.8h0M113.0 284.3h0M117.8 271.6h0M113.2 260.0h0M120.7 272.5h0M112.6 281.9h0M114.5 280.6h0M129.4 272.9h0M140.0 285.1h0M118.3 282.9h0M129.1 271.2h0M132.5 259.2h0M131.0 268.3h0M110.0 267.6h0M115.7 281.3h0M115.1 278.9h0M111.7 281.4h0M125.1 273.1h0M109.9 267.6h0M134.7 261.7h0M133.8 268.6h0M114.0 279.7h0M113.2 280.6h0M108.5 283.1h0M114.7 278.3h0M112.2 279.9h0M108.1 287.4h0M135.0 267.8h0M110.2 287.0h0M129.8 270.2h0M112.5 282.5h0M108.3 286.3h0M110.5 282.0h0M125.2 271.9h0M125.4 271.8h0M111.5 270.6h0M125.2 273.7h0M117.3 259.4h0M113.0 284.1h0M111.5 268.0h0M128.7 273.5h0M113.0 286.3h0M110.5 275.1h0M132.7 267.3h0M120.1 289.5h0M127.5 266.5h0M110.7 282.2h0M112.9 282.1h0M110.6 269.8h0M115.4 281.4h0M123.9 271.4h0M123.0 274.1h0M128.6 266.8h0M126.1 272.2h0M111.2 279.3h0M134.9 287.4h0M122.3 278.2h0M114.5 280.5h0M136.1 262.8h0M112.1 285.9h0M126.2 270.2h0M125.7 269.8h0M122.7 271.2h0M114.0 289.2h0M112.4 283.3h0M109.8 284.8h0M111.2 283.4h0M112.2 280.4h0M116.8 277.8h0M121.2 281.8h0M124.0 268.2h0M125.1 273.5h0M132.6 288.7h0M112.1 260.6h0M129.6 266.3h0M131.0 267.3h0M132.4 260.7h0M128.0 267.7h0M131.1 268.9h0M108.2 285.5h0M111.3 283.7h0M130.0 271.2h0M134.0 265.9h0M114.4 269.4h0M111.0 283.6h0M135.9 258.8h0M123.8 286.2h0M127.6 269.1h0M107.3 281.9h0M126.2 271.7h0M130.8 261.4h0M110.7 282.1h0M109.5 268.5h0M118.2 276.5h0M110.4 268.5h0M137.0 260.2h0M135.7 282.8h0M124.8 284.3h0M110.4 283.0h0M114.8 281.1h0M126.5 271.0h0M107.4 279.0h0M124.5 272.5h0M128.4 286.1h0M129.5 268.4h0M117.8 282.1h0M113.5 286.1h0M126.1 267.8h0M118.7 280.2h0" stroke="#000" stroke-opacity="0.2" stroke-width="0.8" stroke-linecap="round" fill="none"/>
<line x1="225.8" y1="201.1" x2="225.8" y2="284.4" stroke="#111" stroke-width="1.45" />
<line x1="223.3" y1="201.7" x2="225.8" y2="201.7" stroke="#111" stroke-width="1.45" />
<text x="220.1" y="204.4" font-size="7.9" text-anchor="end" >80</text>
<line x1="223.3" y1="222.2" x2="225.8" y2="222.2" stroke="#111" stroke-width="1.45" />
<text x="220.1" y="224.9" font-size="7.9" text-anchor="end" >60</text>
<line x1="223.3" y1="242.8" x2="225.8" y2="242.8" stroke="#111" stroke-width="1.45" />
<text x="220.1" y="245.5" font-size="7.9" text-anchor="end" >40</text>
<line x1="223.3" y1="263.3" x2="225.8" y2="263.3" stroke="#111" stroke-width="1.45" />
<text x="220.1" y="266.0" font-size="7.9" text-anchor="end" >20</text>
<line x1="223.3" y1="283.8" x2="225.8" y2="283.8" stroke="#111" stroke-width="1.45" />
<text x="220.1" y="286.5" font-size="7.9" text-anchor="end" >0</text>
<line x1="225.1" y1="283.8" x2="307.8" y2="283.8" stroke="#111" stroke-width="1.45" />
<line x1="246.5" y1="283.8" x2="246.5" y2="286.3" stroke="#111" stroke-width="1.45" />
<line x1="287.0" y1="283.8" x2="287.0" y2="286.3" stroke="#111" stroke-width="1.45" />
<rect x="233.60" y="279.80" width="10.20" height="4.00" fill="#de8585" />
<circle cx="238.7" cy="276.0" r="1.69" fill="#8c1a31"/>
<circle cx="236.3" cy="281.7" r="1.69" fill="#8c1a31"/>
<circle cx="241.3" cy="281.7" r="1.69" fill="#8c1a31"/>
<rect x="248.90" y="227.37" width="10.20" height="56.43" fill="#8fa898" />
<rect x="249.9" y="218.8" width="3.1" height="3.1" fill="#2f5f47"/>
<rect x="254.4" y="221.8" width="3.1" height="3.1" fill="#2f5f47"/>
<rect x="252.9" y="236.8" width="3.1" height="3.1" fill="#2f5f47"/>
<rect x="274.70" y="276.00" width="10.20" height="7.80" fill="#de8585" />
<circle cx="279.8" cy="266.4" r="1.69" fill="#8c1a31"/>
<circle cx="276.5" cy="280.9" r="1.69" fill="#8c1a31"/>
<circle cx="282.0" cy="280.9" r="1.69" fill="#8c1a31"/>
<rect x="290.00" y="215.57" width="10.20" height="68.23" fill="#8fa898" />
<rect x="293.5" y="208.2" width="3.1" height="3.1" fill="#2f5f47"/>
<rect x="295.9" y="214.6" width="3.1" height="3.1" fill="#2f5f47"/>
<rect x="290.9" y="219.0" width="3.1" height="3.1" fill="#2f5f47"/>
<line x1="239.6" y1="212.2" x2="253.6" y2="212.2" stroke="#111" stroke-width="1.2" />
<text x="246.6" y="212.5" font-size="8" text-anchor="middle" >****</text>
<line x1="280.2" y1="206.2" x2="293.9" y2="206.2" stroke="#111" stroke-width="1.2" />
<text x="287.0" y="206.5" font-size="8" text-anchor="middle" >****</text>
<line x1="252.3" y1="196.1" x2="294.6" y2="196.1" stroke="#111" stroke-width="1.2" />
<text x="273.6" y="193.7" font-size="7.4" text-anchor="middle" >ns</text>
<text x="267.8" y="181.2" font-size="10" font-weight="bold" text-anchor="middle" >TNF&#945;</text>
<text x="246.5" y="296.6" font-size="8.4" text-anchor="middle" >Ctrl</text>
<text x="287.4" y="296.8" font-size="8.4" text-anchor="middle" >CD7<tspan dy="-3.2" font-size="6">KO</tspan></text>
<text x="195.8" y="241.4" font-size="8.8" text-anchor="middle" textLength="81" lengthAdjust="spacingAndGlyphs" transform="rotate(-90 195.8 241.4)" >Percentage of TNF&#945;+</text>
<text x="205.5" y="241.0" font-size="8.8" text-anchor="middle" textLength="90.5" lengthAdjust="spacingAndGlyphs" transform="rotate(-90 205.5 241.0)" >cells in CD4 CAR T cells</text>
<line x1="358.0" y1="201.6" x2="358.0" y2="284.8" stroke="#111" stroke-width="1.45" />
<line x1="355.5" y1="202.2" x2="358.0" y2="202.2" stroke="#111" stroke-width="1.45" />
<text x="352.3" y="204.9" font-size="7.9" text-anchor="end" >60</text>
<line x1="355.5" y1="229.5" x2="358.0" y2="229.5" stroke="#111" stroke-width="1.45" />
<text x="352.3" y="232.2" font-size="7.9" text-anchor="end" >40</text>
<line x1="355.5" y1="256.9" x2="358.0" y2="256.9" stroke="#111" stroke-width="1.45" />
<text x="352.3" y="259.6" font-size="7.9" text-anchor="end" >20</text>
<line x1="355.5" y1="284.2" x2="358.0" y2="284.2" stroke="#111" stroke-width="1.45" />
<text x="352.3" y="286.9" font-size="7.9" text-anchor="end" >0</text>
<line x1="357.3" y1="284.2" x2="437.7" y2="284.2" stroke="#111" stroke-width="1.45" />
<line x1="378.6" y1="284.2" x2="378.6" y2="286.7" stroke="#111" stroke-width="1.45" />
<line x1="418.6" y1="284.2" x2="418.6" y2="286.7" stroke="#111" stroke-width="1.45" />
<rect x="365.60" y="280.37" width="10.00" height="3.83" fill="#de8585" />
<circle cx="371.6" cy="277.5" r="1.69" fill="#8c1a31"/>
<circle cx="368.0" cy="282.0" r="1.69" fill="#8c1a31"/>
<circle cx="373.5" cy="282.0" r="1.69" fill="#8c1a31"/>
<rect x="380.60" y="245.51" width="10.00" height="38.69" fill="#8fa898" />
<rect x="384.2" y="236.6" width="3.1" height="3.1" fill="#2f5f47"/>
<rect x="384.2" y="242.6" width="3.1" height="3.1" fill="#2f5f47"/>
<rect x="384.2" y="249.1" width="3.1" height="3.1" fill="#2f5f47"/>
<rect x="406.00" y="274.90" width="10.00" height="9.30" fill="#de8585" />
<circle cx="411.0" cy="263.7" r="1.69" fill="#8c1a31"/>
<circle cx="407.5" cy="281.5" r="1.69" fill="#8c1a31"/>
<circle cx="413.0" cy="281.5" r="1.69" fill="#8c1a31"/>
<rect x="421.10" y="231.84" width="10.00" height="52.36" fill="#8fa898" />
<rect x="424.5" y="204.0" width="3.1" height="3.1" fill="#2f5f47"/>
<rect x="421.9" y="244.2" width="3.1" height="3.1" fill="#2f5f47"/>
<rect x="426.9" y="243.1" width="3.1" height="3.1" fill="#2f5f47"/>
<line x1="370.7" y1="230.7" x2="387.0" y2="230.7" stroke="#111" stroke-width="1.2" />
<text x="378.8" y="230.3" font-size="8" text-anchor="middle" >*</text>
<line x1="411.3" y1="202.1" x2="426.5" y2="202.1" stroke="#111" stroke-width="1.2" />
<text x="418.6" y="201.1" font-size="8" text-anchor="middle" >*</text>
<line x1="384.9" y1="194.7" x2="425.0" y2="194.7" stroke="#111" stroke-width="1.2" />
<text x="405.4" y="192.2" font-size="7.4" text-anchor="middle" >ns</text>
<text x="394.6" y="182.8" font-size="10" font-weight="bold" text-anchor="middle" >IFN&#947;</text>
<text x="378.7" y="296.4" font-size="8.4" text-anchor="middle" >Ctrl</text>
<text x="418.9" y="296.8" font-size="8.4" text-anchor="middle" >CD7<tspan dy="-3.2" font-size="6">KO</tspan></text>
<text x="326.4" y="242.7" font-size="8.8" text-anchor="middle" textLength="80" lengthAdjust="spacingAndGlyphs" transform="rotate(-90 326.4 242.7)" >Percentage of INF&#947;+</text>
<text x="337.7" y="241.3" font-size="8.8" text-anchor="middle" textLength="91.5" lengthAdjust="spacingAndGlyphs" transform="rotate(-90 337.7 241.3)" >cells in CD4 CAR T cells</text>
<rect x="448.00" y="234.20" width="9.00" height="5.00" fill="#de8585" />
<text x="459.7" y="240.1" font-size="8.0" >Media</text>
<rect x="448.00" y="244.30" width="9.00" height="5.00" fill="#8fa898" />
<text x="459.7" y="249.9" font-size="8.0" >NALM6</text>
<rect x="160.50" y="366.20" width="61.00" height="61.00" fill="none" stroke="#a0a0a0" stroke-width="0.7" />
<text x="166.0" y="437.6" font-size="5.0" text-anchor="middle" fill="#222" >0</text>
<text x="172.9" y="437.6" font-size="5.0" text-anchor="middle" fill="#222" >10<tspan dy="-2.1" font-size="3.9">2</tspan></text>
<text x="187.1" y="437.6" font-size="5.0" text-anchor="middle" fill="#222" >10<tspan dy="-2.1" font-size="3.9">3</tspan></text>
<text x="201.7" y="437.6" font-size="5.0" text-anchor="middle" fill="#222" >10<tspan dy="-2.1" font-size="3.9">4</tspan></text>
<text x="216.1" y="437.6" font-size="5.0" text-anchor="middle" fill="#222" >10<tspan dy="-2.1" font-size="3.9">5</tspan></text>
<text x="155.9" y="375.7" font-size="5.0" text-anchor="end" fill="#222" >10<tspan dy="-2.1" font-size="3.9">5</tspan></text>
<text x="155.9" y="389.1" font-size="5.0" text-anchor="end" fill="#222" >10<tspan dy="-2.1" font-size="3.9">4</tspan></text>
<text x="155.9" y="403.4" font-size="5.0" text-anchor="end" fill="#222" >10<tspan dy="-2.1" font-size="3.9">3</tspan></text>
<text x="155.9" y="417.9" font-size="5.0" text-anchor="end" fill="#222" >10<tspan dy="-2.1" font-size="3.9">2</tspan></text>
<text x="155.9" y="423.4" font-size="5.0" text-anchor="end" fill="#222" >0</text>
<path d="M172.9 427.2v1.6M177.2 427.2v1.0M179.7 427.2v1.0M181.4 427.2v1.0M182.8 427.2v1.0M183.9 427.2v1.0M184.9 427.2v1.0M185.7 427.2v1.0M186.5 427.2v1.0M187.1 427.2v1.6M191.5 427.2v1.0M194.1 427.2v1.0M195.9 427.2v1.0M197.3 427.2v1.0M198.5 427.2v1.0M199.4 427.2v1.0M200.3 427.2v1.0M201.0 427.2v1.0M201.7 427.2v1.6M206.0 427.2v1.0M208.6 427.2v1.0M210.4 427.2v1.0M211.8 427.2v1.0M212.9 427.2v1.0M213.9 427.2v1.0M214.7 427.2v1.0M215.4 427.2v1.0M216.1 427.2v1.6M220.4 427.2v1.0" stroke="#333" stroke-width="0.8"/>
<path d="M160.5 373.8h-1.6M160.5 369.8h-1.0M160.5 367.4h-1.0M160.5 365.7h-1.0M160.5 387.2h-1.6M160.5 382.9h-1.0M160.5 380.4h-1.0M160.5 378.6h-1.0M160.5 377.2h-1.0M160.5 376.1h-1.0M160.5 375.1h-1.0M160.5 374.3h-1.0M160.5 373.6h-1.0M160.5 401.5h-1.6M160.5 397.1h-1.0M160.5 394.6h-1.0M160.5 392.8h-1.0M160.5 391.4h-1.0M160.5 390.2h-1.0M160.5 389.2h-1.0M160.5 388.4h-1.0M160.5 387.7h-1.0M160.5 416.0h-1.6M160.5 411.6h-1.0M160.5 409.1h-1.0M160.5 407.3h-1.0M160.5 405.9h-1.0M160.5 404.7h-1.0M160.5 403.7h-1.0M160.5 402.9h-1.0M160.5 402.2h-1.0" stroke="#333" stroke-width="0.8"/>
<rect x="160.50" y="366.20" width="33.80" height="20.40" fill="none" stroke="#888" stroke-width="0.8" />
<rect x="161.50" y="394.30" width="29.70" height="24.20" fill="none" stroke="#888" stroke-width="0.8" />
<rect x="241.00" y="366.20" width="61.30" height="61.00" fill="none" stroke="#a0a0a0" stroke-width="0.7" />
<text x="246.5" y="437.6" font-size="5.0" text-anchor="middle" fill="#222" >0</text>
<text x="253.4" y="437.6" font-size="5.0" text-anchor="middle" fill="#222" >10<tspan dy="-2.1" font-size="3.9">2</tspan></text>
<text x="267.6" y="437.6" font-size="5.0" text-anchor="middle" fill="#222" >10<tspan dy="-2.1" font-size="3.9">3</tspan></text>
<text x="282.2" y="437.6" font-size="5.0" text-anchor="middle" fill="#222" >10<tspan dy="-2.1" font-size="3.9">4</tspan></text>
<text x="296.6" y="437.6" font-size="5.0" text-anchor="middle" fill="#222" >10<tspan dy="-2.1" font-size="3.9">5</tspan></text>
<text x="236.4" y="375.7" font-size="5.0" text-anchor="end" fill="#222" >10<tspan dy="-2.1" font-size="3.9">5</tspan></text>
<text x="236.4" y="389.1" font-size="5.0" text-anchor="end" fill="#222" >10<tspan dy="-2.1" font-size="3.9">4</tspan></text>
<text x="236.4" y="403.4" font-size="5.0" text-anchor="end" fill="#222" >10<tspan dy="-2.1" font-size="3.9">3</tspan></text>
<text x="236.4" y="417.9" font-size="5.0" text-anchor="end" fill="#222" >10<tspan dy="-2.1" font-size="3.9">2</tspan></text>
<text x="236.4" y="423.4" font-size="5.0" text-anchor="end" fill="#222" >0</text>
<path d="M253.4 427.2v1.6M257.7 427.2v1.0M260.2 427.2v1.0M261.9 427.2v1.0M263.3 427.2v1.0M264.4 427.2v1.0M265.4 427.2v1.0M266.2 427.2v1.0M267.0 427.2v1.0M267.6 427.2v1.6M272.0 427.2v1.0M274.6 427.2v1.0M276.4 427.2v1.0M277.8 427.2v1.0M279.0 427.2v1.0M279.9 427.2v1.0M280.8 427.2v1.0M281.5 427.2v1.0M282.2 427.2v1.6M286.5 427.2v1.0M289.1 427.2v1.0M290.9 427.2v1.0M292.3 427.2v1.0M293.4 427.2v1.0M294.4 427.2v1.0M295.2 427.2v1.0M295.9 427.2v1.0M296.6 427.2v1.6M300.9 427.2v1.0" stroke="#333" stroke-width="0.8"/>
<path d="M241.0 373.8h-1.6M241.0 369.8h-1.0M241.0 367.4h-1.0M241.0 365.7h-1.0M241.0 387.2h-1.6M241.0 382.9h-1.0M241.0 380.4h-1.0M241.0 378.6h-1.0M241.0 377.2h-1.0M241.0 376.1h-1.0M241.0 375.1h-1.0M241.0 374.3h-1.0M241.0 373.6h-1.0M241.0 401.5h-1.6M241.0 397.1h-1.0M241.0 394.6h-1.0M241.0 392.8h-1.0M241.0 391.4h-1.0M241.0 390.2h-1.0M241.0 389.2h-1.0M241.0 388.4h-1.0M241.0 387.7h-1.0M241.0 416.0h-1.6M241.0 411.6h-1.0M241.0 409.1h-1.0M241.0 407.3h-1.0M241.0 405.9h-1.0M241.0 404.7h-1.0M241.0 403.7h-1.0M241.0 402.9h-1.0M241.0 402.2h-1.0" stroke="#333" stroke-width="0.8"/>
<rect x="241.00" y="366.20" width="34.70" height="20.30" fill="none" stroke="#888" stroke-width="0.8" />
<rect x="242.00" y="394.30" width="29.80" height="24.20" fill="none" stroke="#888" stroke-width="0.8" />
<rect x="321.80" y="366.10" width="61.20" height="61.30" fill="none" stroke="#a0a0a0" stroke-width="0.7" />
<text x="327.3" y="437.6" font-size="5.0" text-anchor="middle" fill="#222" >0</text>
<text x="334.2" y="437.6" font-size="5.0" text-anchor="middle" fill="#222" >10<tspan dy="-2.1" font-size="3.9">2</tspan></text>
<text x="348.4" y="437.6" font-size="5.0" text-anchor="middle" fill="#222" >10<tspan dy="-2.1" font-size="3.9">3</tspan></text>
<text x="363.0" y="437.6" font-size="5.0" text-anchor="middle" fill="#222" >10<tspan dy="-2.1" font-size="3.9">4</tspan></text>
<text x="377.4" y="437.6" font-size="5.0" text-anchor="middle" fill="#222" >10<tspan dy="-2.1" font-size="3.9">5</tspan></text>
<text x="317.2" y="375.7" font-size="5.0" text-anchor="end" fill="#222" >10<tspan dy="-2.1" font-size="3.9">5</tspan></text>
<text x="317.2" y="389.1" font-size="5.0" text-anchor="end" fill="#222" >10<tspan dy="-2.1" font-size="3.9">4</tspan></text>
<text x="317.2" y="403.4" font-size="5.0" text-anchor="end" fill="#222" >10<tspan dy="-2.1" font-size="3.9">3</tspan></text>
<text x="317.2" y="417.9" font-size="5.0" text-anchor="end" fill="#222" >10<tspan dy="-2.1" font-size="3.9">2</tspan></text>
<text x="317.2" y="423.4" font-size="5.0" text-anchor="end" fill="#222" >0</text>
<path d="M334.2 427.4v1.6M338.5 427.4v1.0M341.0 427.4v1.0M342.7 427.4v1.0M344.1 427.4v1.0M345.2 427.4v1.0M346.2 427.4v1.0M347.0 427.4v1.0M347.8 427.4v1.0M348.4 427.4v1.6M352.8 427.4v1.0M355.4 427.4v1.0M357.2 427.4v1.0M358.6 427.4v1.0M359.8 427.4v1.0M360.7 427.4v1.0M361.6 427.4v1.0M362.3 427.4v1.0M363.0 427.4v1.6M367.3 427.4v1.0M369.9 427.4v1.0M371.7 427.4v1.0M373.1 427.4v1.0M374.2 427.4v1.0M375.2 427.4v1.0M376.0 427.4v1.0M376.7 427.4v1.0M377.4 427.4v1.6M381.7 427.4v1.0" stroke="#333" stroke-width="0.8"/>
<path d="M321.8 373.8h-1.6M321.8 369.8h-1.0M321.8 367.4h-1.0M321.8 365.7h-1.0M321.8 387.2h-1.6M321.8 382.9h-1.0M321.8 380.4h-1.0M321.8 378.6h-1.0M321.8 377.2h-1.0M321.8 376.1h-1.0M321.8 375.1h-1.0M321.8 374.3h-1.0M321.8 373.6h-1.0M321.8 401.5h-1.6M321.8 397.1h-1.0M321.8 394.6h-1.0M321.8 392.8h-1.0M321.8 391.4h-1.0M321.8 390.2h-1.0M321.8 389.2h-1.0M321.8 388.4h-1.0M321.8 387.7h-1.0M321.8 416.0h-1.6M321.8 411.6h-1.0M321.8 409.1h-1.0M321.8 407.3h-1.0M321.8 405.9h-1.0M321.8 404.7h-1.0M321.8 403.7h-1.0M321.8 402.9h-1.0M321.8 402.2h-1.0" stroke="#333" stroke-width="0.8"/>
<rect x="321.80" y="366.10" width="34.50" height="20.60" fill="none" stroke="#888" stroke-width="0.8" />
<rect x="322.80" y="394.50" width="29.20" height="23.80" fill="none" stroke="#888" stroke-width="0.8" />
<text x="203.4" y="380.6" font-size="8.2" text-anchor="middle" >66</text>
<text x="203.5" y="410.6" font-size="8.2" text-anchor="middle" >27</text>
<text x="283.5" y="380.6" font-size="8.2" text-anchor="middle" >1</text>
<text x="283.1" y="410.4" font-size="8.2" text-anchor="middle" >97</text>
<text x="364.6" y="381.1" font-size="8.2" text-anchor="middle" >1</text>
<text x="364.4" y="410.8" font-size="8.2" text-anchor="middle" >96</text>
<text x="190.2" y="360.9" font-size="10" font-weight="bold" text-anchor="middle" >Ctrl CAR</text>
<text x="270.4" y="350.9" font-size="10" font-weight="bold" text-anchor="middle" >Ctrl</text>
<text x="270.0" y="362.4" font-size="10" font-weight="bold" text-anchor="middle" >CD19 CAR</text>
<text x="352.0" y="351.1" font-size="10" font-weight="bold" text-anchor="middle" >CD7<tspan dy="-3.6" font-size="6.5">KO</tspan></text>
<text x="351.8" y="362.8" font-size="10" font-weight="bold" text-anchor="middle" >CD19 CAR</text>
<text x="146.6" y="428.6" font-size="10.0" textLength="43.4" lengthAdjust="spacingAndGlyphs" transform="rotate(-90 146.6 428.6)" >GFP (RAJI)</text>
<line x1="143.5" y1="384.0" x2="143.5" y2="369.0" stroke="#111" stroke-width="1.7" />
<path d="M143.5 363.0L146.7 371.4L143.5 369.8L140.3 371.4z" fill="#111"/>
<text x="160.7" y="448.9" font-size="9.9" textLength="24.0" lengthAdjust="spacingAndGlyphs" >7-AAD</text>
<line x1="188.5" y1="445.4" x2="381.0" y2="445.4" stroke="#111" stroke-width="1.7" />
<path d="M387.0 445.4L379.4 442.2L380.8 445.4L379.4 448.6z" fill="#111"/>
<clipPath id="k1"><rect x="160.8" y="366.5" width="60.40" height="60.40"/></clipPath><g clip-path="url(#k1)">
<ellipse cx="185" cy="371" rx="9.5" ry="7" transform="rotate(0 185 371)" fill="#000" fill-opacity="0.85" filter="url(#b20)"/>
<ellipse cx="188" cy="368" rx="7" ry="4" transform="rotate(0 188 368)" fill="#000" fill-opacity="0.6" filter="url(#b15)"/>
<ellipse cx="182.5" cy="378" rx="5.5" ry="5" transform="rotate(-20 182.5 378)" fill="#000" fill-opacity="0.7" filter="url(#b18)"/>
<ellipse cx="180" cy="383" rx="2.8" ry="2.5" transform="rotate(0 180 383)" fill="#000" fill-opacity="0.4" filter="url(#b12)"/>
<ellipse cx="175" cy="409" rx="6" ry="3.4" transform="rotate(-52 175 409)" fill="#000" fill-opacity="0.95" filter="url(#b12)"/>
<ellipse cx="176" cy="400" rx="1.8" ry="3.5" transform="rotate(10 176 400)" fill="#000" fill-opacity="0.25" filter="url(#b12)"/>
<path d="M175.0 373.6h0M187.3 367.4h0M186.2 373.9h0M179.9 409.7h0M180.4 378.6h0M196.7 372.6h0M209.0 382.1h0M175.8 408.8h0M166.7 406.3h0M176.3 409.6h0M183.7 373.7h0M188.3 370.3h0M189.0 383.5h0M176.4 401.8h0M185.7 374.4h0M178.9 399.3h0M188.5 374.7h0M179.7 407.4h0M172.2 410.8h0M182.2 412.8h0M192.7 366.7h0M174.1 410.7h0M186.0 366.8h0M166.9 413.9h0M182.6 379.3h0M177.5 392.2h0M172.3 412.1h0M183.0 369.7h0M196.5 370.1h0M170.7 412.1h0M183.0 379.1h0M176.9 403.1h0M184.3 376.4h0M173.5 409.6h0M169.5 376.6h0M168.9 376.9h0M170.6 418.7h0M186.5 372.9h0M183.7 405.7h0M189.1 368.6h0M179.7 368.7h0M179.8 407.3h0M177.3 386.8h0M181.4 371.3h0M213.4 369.6h0M170.1 402.0h0M177.6 379.8h0M181.2 376.5h0M181.3 410.5h0M173.2 403.4h0M188.5 368.0h0M175.5 411.3h0M177.0 374.1h0M180.2 381.5h0M177.8 399.4h0M165.2 408.8h0M183.9 380.3h0M175.1 398.6h0M193.7 370.7h0M169.7 411.2h0M179.8 415.4h0M176.1 414.1h0M185.4 369.2h0M175.4 368.3h0M168.7 414.4h0M178.8 379.9h0M180.2 396.8h0M184.1 377.4h0M180.2 401.5h0M182.8 404.7h0M184.7 378.6h0M184.7 386.4h0M179.5 410.8h0M184.1 368.8h0M181.4 367.7h0M188.6 382.7h0M184.2 376.3h0M186.3 376.4h0M183.6 374.9h0M170.1 367.4h0M177.4 383.6h0M182.8 376.4h0M171.7 390.3h0M179.9 395.1h0M181.0 375.2h0M171.1 412.1h0M173.3 408.5h0M183.7 399.6h0M188.6 380.0h0M184.6 372.7h0M188.1 377.5h0M170.0 413.2h0M174.1 379.7h0M183.6 384.9h0M188.0 368.8h0M197.9 373.2h0M193.2 378.4h0M171.4 410.6h0M172.5 411.2h0M179.8 373.2h0M183.5 402.4h0M176.0 400.5h0M176.2 404.6h0M195.6 372.2h0M188.4 368.9h0M178.8 385.6h0M175.3 399.7h0M179.6 404.4h0M178.7 387.9h0M189.3 376.3h0M168.0 383.1h0M178.8 407.7h0M184.9 375.5h0M176.0 417.0h0M188.6 374.6h0M180.5 391.0h0M180.8 407.7h0M176.3 404.4h0M180.5 372.7h0M191.6 372.5h0M176.0 404.3h0M197.3 380.8h0M163.3 410.7h0M176.4 409.2h0M201.0 374.0h0M176.1 400.5h0M174.1 384.4h0M188.9 373.4h0M170.1 414.1h0M193.0 378.9h0M192.9 374.5h0M204.3 373.8h0M205.0 377.3h0M180.9 378.2h0M181.4 377.6h0M178.9 367.1h0M179.1 399.6h0M180.1 413.1h0M175.1 405.5h0M180.8 387.8h0M186.7 383.8h0M181.5 370.5h0M176.4 405.7h0M194.1 387.8h0M173.4 373.3h0M191.9 383.6h0M193.9 368.5h0M194.8 378.9h0M199.3 370.3h0M180.4 383.5h0M184.6 383.3h0M172.6 405.9h0M178.6 384.6h0M179.4 406.6h0M173.9 409.5h0M175.0 410.2h0M196.4 377.2h0M181.9 376.3h0M169.3 411.4h0M177.3 372.9h0M177.4 405.5h0M179.5 404.7h0M170.4 414.8h0M179.1 406.7h0M174.2 396.1h0M176.6 413.5h0M205.4 398.1h0M181.2 408.9h0M178.6 386.2h0M183.0 369.1h0M175.2 381.6h0M171.8 416.7h0M174.3 407.7h0M184.1 368.6h0M197.3 369.1h0M174.0 397.9h0M171.4 395.9h0M175.0 383.1h0M169.3 409.5h0M185.6 368.6h0M186.5 376.4h0M177.0 391.1h0M187.7 390.0h0M176.3 409.3h0M193.6 373.0h0M216.3 386.5h0M178.8 383.9h0M197.2 371.7h0M177.9 371.1h0M175.8 411.0h0M173.8 407.1h0M177.9 395.6h0M200.7 376.1h0M197.2 369.0h0M176.7 415.2h0M169.7 406.9h0M191.6 387.8h0M176.8 377.9h0M179.9 407.3h0M192.5 380.4h0M175.7 408.2h0M176.9 387.2h0M174.9 405.2h0M180.0 376.3h0M192.3 379.1h0M180.2 406.1h0M190.9 378.2h0M177.8 376.1h0M171.7 401.7h0M178.2 384.1h0M170.0 414.7h0M179.2 393.9h0M190.0 374.2h0M198.2 382.9h0M171.5 411.7h0M172.3 393.1h0M177.1 368.1h0M182.7 383.6h0M186.7 378.1h0M188.7 380.5h0M185.5 373.3h0M177.3 368.7h0M173.3 411.7h0M185.8 383.3h0M173.0 412.9h0M185.8 377.4h0M180.0 377.3h0M176.7 394.4h0M194.7 377.6h0M188.4 380.2h0M178.5 387.0h0M171.7 407.2h0M194.0 376.1h0M179.2 370.4h0M176.5 395.2h0M172.5 414.5h0M178.7 389.5h0M186.2 375.6h0M189.9 367.2h0M198.7 377.4h0M170.6 415.5h0M180.1 404.8h0M172.8 409.4h0M194.8 376.5h0M178.5 412.1h0M192.0 375.3h0M176.6 402.6h0M178.5 369.5h0M188.6 375.0h0M187.3 369.9h0M175.3 392.4h0M176.1 400.0h0M168.3 405.3h0M181.2 406.7h0M171.9 411.1h0M188.0 376.9h0M190.2 378.2h0M190.2 370.9h0M190.5 370.5h0M181.1 374.4h0M184.5 379.5h0M176.1 387.7h0M177.9 396.1h0M186.5 376.0h0M193.7 367.1h0M174.5 394.4h0M180.0 373.6h0M177.6 371.9h0M174.5 384.9h0M172.1 411.2h0M168.0 368.8h0M181.6 369.0h0M191.5 367.4h0M179.2 389.1h0M168.8 368.8h0M175.9 387.6h0M180.5 370.5h0M181.6 381.0h0M171.6 376.1h0M189.0 381.1h0M180.5 397.1h0M188.3 379.2h0M181.6 389.7h0M175.0 392.6h0M179.2 404.0h0M185.9 380.2h0M178.4 401.0h0M178.9 385.5h0M182.3 408.3h0M184.7 389.7h0M182.5 407.0h0M195.0 373.2h0M175.9 374.7h0M191.0 367.3h0M168.5 421.6h0M190.4 379.3h0M205.8 370.8h0M178.1 378.7h0M172.9 417.2h0M177.4 384.1h0M178.6 406.9h0M180.2 372.5h0M175.3 384.6h0M190.4 379.5h0M178.2 408.2h0M212.5 400.1h0M178.7 372.1h0M190.8 378.2h0M172.1 409.7h0M207.9 426.8h0M187.4 375.9h0M179.4 370.0h0M174.2 401.3h0M179.0 368.5h0M182.9 375.2h0M172.8 384.7h0M180.7 375.3h0M193.7 406.7h0M175.3 409.9h0M174.2 407.5h0M175.8 408.0h0M177.0 405.8h0M175.2 388.9h0M185.4 394.1h0M185.8 401.5h0M177.5 410.2h0M189.8 377.1h0M172.1 414.0h0M194.0 366.6h0M173.2 380.2h0M177.6 393.5h0M180.7 407.4h0M196.3 410.0h0M179.3 391.2h0M176.7 386.6h0M194.6 400.5h0M192.5 387.0h0M181.3 375.7h0M178.5 385.7h0M178.9 382.8h0M188.0 376.0h0M202.6 377.2h0M172.7 406.1h0M188.1 367.3h0M173.6 407.3h0M183.5 368.2h0M178.2 408.5h0" stroke="#000" stroke-opacity="0.22" stroke-width="0.8" stroke-linecap="round" fill="none"/>
<path d="M176.1 373.5h0M167.5 413.0h0M176.9 375.8h0M167.2 409.0h0M189.8 377.0h0M179.0 373.2h0M181.2 407.6h0M187.7 377.0h0M174.5 396.7h0M172.9 407.0h0M178.6 380.9h0M172.3 367.1h0M178.8 371.2h0M168.0 417.2h0M189.9 373.0h0M173.3 404.2h0M180.7 366.9h0M175.9 408.7h0M178.6 371.2h0M189.9 374.5h0M176.8 407.5h0M175.1 406.3h0M170.7 406.0h0M189.0 372.4h0M170.9 416.7h0M184.3 375.2h0M189.0 368.6h0M179.8 379.5h0M181.4 388.9h0M178.2 388.2h0M186.7 378.3h0M185.4 398.8h0M181.7 381.6h0M180.6 372.8h0M181.2 389.9h0M180.0 405.8h0M168.7 412.9h0M177.8 403.4h0M175.7 407.7h0M177.1 376.1h0M170.4 413.5h0M187.1 375.9h0M180.6 379.2h0M178.7 410.2h0M189.6 380.1h0M191.0 375.7h0M174.4 403.2h0M185.7 369.8h0M185.5 379.6h0M180.5 381.5h0M181.0 377.4h0M181.4 381.8h0M182.6 370.0h0M181.5 373.6h0M171.9 408.6h0M195.3 378.4h0M175.4 409.5h0M185.1 376.8h0M179.6 370.6h0M176.6 410.0h0M179.1 388.9h0M176.9 411.4h0M179.6 372.4h0M171.2 376.6h0M173.7 401.5h0M176.8 389.1h0M181.3 396.2h0M175.0 396.6h0M174.5 397.2h0M191.3 381.0h0M185.3 371.3h0M179.9 376.4h0M195.4 369.4h0M203.7 386.0h0M174.5 405.2h0M182.4 380.0h0M175.3 389.8h0M180.1 370.9h0M183.6 378.5h0M180.3 380.4h0M173.3 409.4h0M191.5 384.7h0M180.3 377.4h0M177.4 406.1h0M200.2 374.3h0M173.4 409.1h0M178.3 413.4h0M180.6 401.7h0M174.8 409.7h0M189.0 372.3h0M169.3 414.4h0M175.9 366.7h0M176.6 398.9h0M172.8 412.0h0M181.8 372.9h0M163.5 413.8h0M180.0 372.5h0M178.0 372.4h0M194.7 382.3h0M175.9 378.8h0M170.5 379.4h0M175.7 408.2h0M180.0 369.7h0M182.0 372.8h0M193.6 374.6h0M177.1 405.5h0M180.6 404.9h0M175.9 391.9h0M187.3 370.4h0M175.1 381.6h0M191.5 379.8h0M172.5 401.0h0M163.3 410.0h0M183.2 411.3h0M198.4 377.1h0M172.3 407.8h0M187.8 374.0h0M175.4 372.1h0M166.9 413.5h0M177.4 411.3h0M187.7 371.3h0M168.8 369.1h0M175.0 400.3h0M171.9 412.4h0M190.0 373.3h0M187.4 377.4h0M196.2 373.3h0M195.9 369.7h0M177.1 384.1h0M173.7 404.4h0M177.2 380.3h0M176.5 393.5h0M183.9 373.4h0M174.2 415.2h0M175.1 408.9h0M174.1 414.6h0M178.9 399.8h0M183.1 374.6h0M188.3 369.8h0M192.8 422.8h0M174.1 376.8h0M186.6 379.6h0M183.5 373.8h0M179.7 404.2h0M178.3 396.5h0M186.8 373.1h0M178.3 392.0h0M197.2 368.7h0M178.3 409.3h0M181.2 407.4h0M177.1 409.0h0M168.4 412.0h0M204.3 369.5h0M171.7 406.0h0M186.6 367.9h0M176.8 412.7h0M175.4 371.1h0M188.3 375.2h0M179.1 375.3h0M174.4 410.3h0M182.7 400.4h0M173.1 404.7h0M178.8 399.2h0M186.5 370.0h0M196.4 382.8h0M190.2 369.3h0M190.3 377.2h0M186.2 371.6h0M180.4 375.3h0M167.1 409.2h0M204.4 370.8h0M178.4 378.1h0M184.0 370.5h0M182.0 376.9h0M200.5 372.9h0M172.8 405.1h0M194.6 368.2h0M184.7 381.9h0M174.4 382.0h0M191.5 366.5h0M185.0 376.8h0M171.1 405.6h0M173.8 408.4h0M188.3 400.2h0M183.3 382.2h0M179.0 407.1h0M187.3 380.7h0M220.1 390.8h0M180.9 410.3h0M172.3 393.8h0M177.3 390.8h0M178.4 382.5h0M177.0 375.0h0M174.4 401.3h0M184.2 367.4h0M177.6 404.6h0M171.3 410.9h0M188.2 370.2h0M175.3 408.2h0M178.2 376.3h0M182.7 375.5h0M174.9 372.4h0M178.9 405.9h0M166.1 410.0h0M176.5 410.4h0M176.4 410.7h0M176.6 407.8h0M175.1 407.6h0M190.5 366.9h0M173.8 391.5h0M177.2 390.2h0M185.9 375.8h0M189.4 371.8h0M181.6 396.6h0M192.3 372.3h0M184.8 373.6h0M179.7 371.5h0M171.6 409.7h0M169.8 370.8h0M195.5 374.3h0M171.3 381.1h0M174.2 414.3h0M169.8 368.9h0M169.4 380.2h0M178.2 371.5h0M176.8 406.3h0M184.0 373.6h0M179.6 374.3h0M187.0 374.3h0M170.6 399.1h0M177.7 393.6h0M199.6 369.6h0M178.8 393.3h0M173.2 397.7h0M177.3 411.7h0M185.7 372.3h0M182.4 407.6h0M192.3 376.2h0M170.8 407.9h0M173.0 393.1h0M183.9 375.9h0M201.8 378.2h0M176.9 376.2h0M169.6 415.7h0M181.4 385.6h0M188.0 378.1h0M180.4 409.0h0M180.5 376.2h0M169.2 416.2h0M172.1 373.9h0M218.0 376.5h0M182.7 374.6h0M169.8 372.0h0M188.1 371.3h0M168.8 397.8h0M165.0 410.2h0M178.7 369.6h0M180.6 370.8h0M179.4 375.9h0M183.0 371.9h0M170.0 410.0h0M173.8 414.3h0M170.4 400.3h0M174.4 404.7h0M178.7 385.8h0M183.3 378.9h0M179.3 372.4h0M177.9 393.0h0M181.1 366.8h0M182.9 374.1h0M190.7 373.5h0M186.4 366.9h0M176.9 384.0h0M173.0 408.4h0M180.8 371.5h0M174.5 399.0h0M178.3 404.6h0M185.4 370.2h0M175.2 402.7h0M175.4 388.1h0M184.3 377.7h0M187.3 373.0h0M171.7 413.3h0M172.6 407.4h0M188.3 389.6h0M168.2 405.0h0M175.1 398.3h0M211.0 366.5h0M177.1 384.6h0M166.9 392.6h0M174.4 419.8h0M173.4 410.9h0M178.7 384.0h0M178.2 395.5h0M180.7 378.3h0M191.4 385.1h0M173.6 401.1h0M181.7 389.7h0M179.3 379.3h0M184.0 382.2h0M191.3 384.5h0M191.5 388.1h0M178.5 371.8h0M179.6 373.6h0M179.3 375.7h0M187.2 367.1h0M180.1 366.5h0M182.2 379.6h0M182.3 377.0h0M173.8 378.6h0M186.8 374.2h0M177.5 368.7h0M186.7 370.1h0M178.5 374.0h0M183.6 405.6h0M177.0 408.5h0M167.7 385.3h0M190.3 374.7h0M169.4 420.3h0M176.3 388.8h0M211.0 377.2h0M194.0 381.2h0M187.8 373.3h0M173.2 368.2h0M186.9 368.4h0M199.3 387.2h0M182.2 401.9h0M173.0 408.6h0M181.1 375.8h0M177.1 380.4h0M178.1 404.4h0M171.7 371.1h0M190.6 384.9h0M181.2 372.4h0M177.4 376.0h0M177.7 391.7h0M173.2 410.5h0M185.5 400.1h0M171.3 368.7h0M186.8 366.5h0M173.7 405.4h0M174.2 415.9h0M196.1 377.5h0M178.2 406.4h0M179.4 399.7h0M173.4 411.5h0M177.9 411.3h0M185.7 372.2h0M198.0 383.8h0M176.8 403.7h0M170.6 410.5h0M194.4 369.9h0M189.3 368.6h0M177.9 406.9h0M187.2 370.5h0M177.9 382.8h0M184.8 379.8h0M175.4 384.0h0M175.6 406.7h0M175.6 415.9h0" stroke="#000" stroke-opacity="0.22" stroke-width="0.8" stroke-linecap="round" fill="none"/>
<path d="M198.3 368.3h0M181.3 402.3h0M177.6 404.9h0M171.6 412.5h0M175.1 374.1h0M188.0 373.5h0M182.9 375.8h0M181.6 376.6h0M174.8 401.6h0M194.4 369.4h0M171.8 369.8h0M174.9 411.8h0M199.3 402.3h0M194.0 368.3h0M184.8 370.6h0M177.6 371.6h0M173.0 408.8h0M183.1 376.4h0M187.2 368.2h0M191.0 393.7h0M177.3 417.3h0M172.3 413.8h0M171.7 374.0h0M172.1 395.8h0M173.6 409.4h0M177.9 392.3h0M174.7 399.9h0M175.6 388.1h0M171.8 403.0h0M182.4 370.9h0M188.6 377.2h0M182.7 400.0h0M197.7 374.4h0M214.7 390.1h0M187.9 368.9h0M185.4 379.4h0M177.7 405.9h0M182.2 373.4h0M174.7 397.7h0M178.1 374.6h0M169.3 412.4h0M180.3 391.8h0M180.0 380.1h0M169.5 415.2h0M183.9 378.5h0M198.0 373.7h0M196.0 368.2h0M175.1 409.9h0M174.4 416.3h0M184.2 367.3h0M172.2 382.9h0M182.8 378.3h0M176.1 385.6h0M173.8 410.5h0M185.3 421.2h0M175.9 405.8h0M176.9 400.8h0M171.9 405.8h0M172.2 414.2h0M177.2 410.1h0M187.1 391.6h0M179.5 411.0h0M198.9 383.0h0M194.7 369.3h0M176.0 405.0h0M179.7 371.8h0M174.1 407.4h0M172.6 409.7h0M175.8 371.1h0M193.9 378.0h0M178.5 388.2h0M183.8 377.1h0M180.9 381.3h0M186.7 378.1h0M188.2 372.0h0M185.6 371.5h0M184.5 383.3h0M179.5 378.4h0M177.4 411.0h0M180.8 404.3h0M179.9 405.4h0M172.3 413.7h0M174.7 371.8h0M193.3 368.3h0M178.7 390.9h0M179.2 386.8h0M189.9 372.8h0M179.2 410.3h0M173.4 408.6h0M180.3 369.2h0M171.4 398.1h0M177.3 369.3h0M187.6 385.9h0M188.1 368.2h0M177.2 391.6h0M189.9 380.8h0M169.5 371.6h0M184.7 370.5h0M174.0 411.7h0M176.0 405.9h0M186.9 370.3h0M179.4 370.6h0M173.1 403.0h0M191.0 369.4h0M192.4 378.0h0M180.2 373.8h0M200.4 367.2h0M177.6 380.1h0M174.8 419.5h0M187.7 376.2h0M184.9 369.4h0M191.0 376.1h0M176.3 405.9h0M176.9 405.7h0M179.3 396.2h0M188.1 371.0h0M182.8 366.4h0M176.7 394.6h0M181.9 389.1h0M180.0 383.9h0M173.5 412.3h0M194.1 373.4h0M173.5 406.3h0M173.8 368.0h0M188.0 385.5h0M174.2 406.4h0M176.3 405.9h0M171.1 409.6h0M177.6 406.7h0M180.8 374.6h0M182.1 406.6h0M173.8 412.5h0M172.0 371.1h0M187.2 370.2h0M198.5 368.3h0M176.3 392.8h0M182.1 369.4h0M178.4 397.4h0M171.3 411.5h0M175.9 404.1h0M193.4 373.5h0M174.3 412.3h0M184.1 369.7h0M185.1 381.5h0M185.4 367.5h0M177.5 381.9h0M195.6 379.8h0M178.4 367.8h0M181.4 368.9h0M180.2 381.9h0M178.9 389.3h0M171.8 406.2h0M178.8 367.2h0M177.4 409.9h0M188.7 370.2h0M178.0 404.3h0M186.0 380.0h0M180.3 378.7h0M178.9 386.4h0M193.1 367.6h0M178.4 387.0h0M173.0 408.6h0M186.4 375.2h0M174.4 409.5h0M183.5 374.5h0M178.5 401.5h0M191.2 371.8h0M170.9 371.0h0M185.0 369.0h0M187.9 379.0h0M177.6 368.3h0M177.8 396.5h0M201.5 368.3h0M164.8 410.5h0M177.8 388.1h0M185.5 375.9h0M177.4 401.8h0M173.4 397.4h0M186.4 377.9h0M179.9 374.4h0M175.9 395.6h0M189.2 382.9h0M166.8 413.7h0M183.6 368.5h0M175.9 391.5h0M186.0 379.6h0M177.9 381.6h0M171.8 404.7h0M184.1 369.5h0M181.1 406.8h0M208.0 369.5h0M167.5 417.5h0M177.9 371.0h0M176.3 396.8h0M189.7 374.2h0M184.9 368.1h0M171.0 414.5h0M176.0 383.4h0M172.7 413.7h0M199.4 391.7h0M180.2 373.4h0M181.1 399.3h0M200.6 387.5h0M195.6 374.4h0M171.8 371.7h0M166.6 368.7h0M169.6 404.0h0M162.7 418.4h0M190.8 383.8h0M182.3 368.9h0M178.5 376.6h0M173.6 416.0h0M174.1 395.6h0M167.6 411.4h0M177.2 394.4h0M172.8 410.3h0M195.1 373.1h0M180.5 375.5h0M187.9 370.0h0M172.9 414.7h0M171.2 375.1h0M173.7 408.8h0M175.4 387.7h0M173.3 381.5h0M190.5 383.0h0M179.2 381.0h0M173.2 371.9h0M176.3 366.5h0M188.3 371.0h0M189.2 376.9h0M185.9 378.1h0M189.7 375.7h0M176.9 394.3h0M187.0 366.8h0M176.6 411.2h0M193.3 373.9h0M171.2 412.9h0M179.4 394.8h0M168.9 409.3h0M189.5 370.1h0M189.7 384.6h0M180.1 371.8h0M172.5 396.3h0M204.3 370.5h0M176.3 404.3h0M177.6 406.9h0M194.9 368.4h0M185.2 379.3h0M176.8 375.5h0M190.2 374.8h0M181.2 403.5h0M175.8 403.3h0M174.3 401.1h0M175.9 409.1h0M176.1 408.6h0M188.6 382.8h0M167.7 381.2h0M182.8 367.6h0M175.2 387.0h0M181.9 373.0h0M175.7 395.0h0M173.8 411.3h0M180.6 413.4h0M169.4 412.0h0M201.5 371.0h0M193.7 373.7h0M183.3 380.6h0M179.2 393.1h0M172.6 413.2h0M178.1 396.4h0M181.3 369.5h0M176.5 400.4h0M171.3 413.3h0M180.1 388.0h0M204.9 426.6h0M181.4 400.4h0M182.9 383.0h0M200.2 379.2h0M180.2 394.0h0M187.8 382.0h0M168.5 410.0h0M179.0 411.9h0M196.1 376.5h0M170.0 410.5h0M169.4 407.4h0M169.2 367.1h0M176.2 399.5h0M176.1 401.0h0M165.2 412.3h0M183.8 376.1h0M193.0 384.6h0M181.2 374.6h0M178.2 378.3h0M179.8 404.0h0M179.0 370.3h0M192.1 374.1h0M180.3 387.7h0M176.7 405.1h0M174.6 404.4h0M168.8 370.2h0M179.5 392.0h0M173.0 410.4h0M191.4 378.0h0M180.0 373.1h0M174.1 385.8h0M170.9 406.9h0M183.4 368.1h0M189.8 371.0h0M177.7 367.7h0M192.8 370.3h0M173.0 415.5h0M185.8 381.8h0M172.5 404.9h0M178.5 410.8h0M175.4 386.8h0M178.7 396.4h0M175.7 380.9h0M187.5 370.2h0M177.9 373.7h0M175.7 387.0h0M183.7 373.3h0M197.8 376.6h0M176.8 405.2h0M177.8 407.0h0M168.5 415.0h0M188.9 369.2h0M172.8 412.1h0M173.2 411.3h0M174.8 413.8h0M175.5 398.6h0M174.0 416.9h0M172.8 401.2h0M175.3 405.8h0M188.1 409.9h0M186.3 377.5h0M188.7 373.7h0M193.0 381.4h0M179.3 409.6h0M183.9 374.5h0M188.5 378.7h0M184.4 399.6h0M180.4 367.7h0M183.1 375.6h0M164.5 413.3h0M174.2 392.6h0M174.3 379.0h0M177.0 399.5h0M177.0 377.4h0M172.7 404.4h0M175.3 418.1h0M185.2 369.7h0M183.3 384.2h0M178.8 404.2h0M173.0 404.4h0M187.0 386.5h0M185.8 387.1h0" stroke="#000" stroke-opacity="0.22" stroke-width="0.8" stroke-linecap="round" fill="none"/>
<path d="M173.5 394.4h0M180.8 404.2h0M172.8 408.9h0M183.5 383.5h0M179.2 379.4h0M175.7 390.8h0M189.5 379.9h0M185.5 369.9h0M173.7 402.9h0M184.7 375.0h0M169.5 409.8h0M182.8 403.6h0M182.0 368.6h0M179.5 374.2h0M199.3 371.7h0M174.5 410.4h0M176.3 412.4h0M175.0 404.8h0M177.8 406.3h0M193.6 368.5h0M181.4 412.8h0M193.7 377.0h0M181.8 382.8h0M194.1 368.5h0M196.4 407.1h0M179.8 408.8h0M190.4 374.5h0M170.5 376.4h0M184.1 377.3h0M176.4 370.5h0M169.5 415.0h0M178.2 403.5h0M175.1 399.2h0M195.5 373.6h0M179.2 409.1h0M178.6 407.3h0M190.2 369.6h0M174.1 395.5h0M192.0 370.1h0M181.8 375.7h0M171.6 411.6h0M185.4 375.0h0M179.6 411.0h0M180.5 389.6h0M195.2 373.2h0M178.7 383.0h0M169.9 408.2h0M182.8 373.0h0M174.5 411.8h0M177.5 411.5h0M188.2 377.2h0M185.8 381.2h0M189.1 371.3h0M176.0 410.7h0M189.7 373.5h0M178.3 409.7h0M183.6 375.0h0M199.8 370.7h0M171.6 407.7h0M192.3 377.6h0M187.7 369.3h0M183.5 376.4h0M175.8 387.1h0M184.2 383.4h0M171.8 405.8h0M173.4 412.7h0M188.3 388.7h0M168.6 412.6h0M193.3 371.1h0M170.6 407.7h0M179.7 405.1h0M174.8 413.2h0M173.4 395.0h0M169.0 383.5h0M186.2 375.0h0M175.2 397.7h0M175.5 378.5h0M175.0 405.4h0M185.9 374.2h0M182.8 403.8h0M177.0 391.1h0M174.7 378.2h0M176.2 413.4h0M174.3 416.3h0M192.6 369.4h0M174.7 409.1h0M184.1 368.7h0M192.1 368.6h0M189.5 368.2h0M183.6 367.5h0M176.3 367.5h0M175.8 387.1h0M182.8 371.0h0M174.1 398.7h0M172.4 405.7h0M179.7 405.2h0M184.1 373.4h0M174.9 411.0h0M171.8 409.3h0M169.2 409.4h0M191.8 374.2h0M170.2 371.7h0M194.9 369.7h0M179.8 405.4h0M178.3 406.9h0M188.9 372.6h0M177.1 401.4h0M183.0 384.3h0M179.5 377.9h0M181.0 382.3h0M171.3 413.9h0M206.1 377.1h0M182.3 378.0h0M206.3 371.9h0M174.2 396.8h0M179.9 402.2h0M174.1 413.0h0M176.0 414.4h0M189.0 380.0h0M184.8 375.6h0M181.3 383.5h0M180.5 395.1h0M175.1 415.0h0M177.2 375.4h0M193.2 368.8h0M183.3 367.1h0M176.0 409.0h0M173.1 403.6h0M190.4 374.5h0M179.3 384.5h0M187.0 369.0h0M194.5 378.8h0M185.7 374.5h0M178.5 394.0h0M188.0 380.2h0M197.1 390.7h0M187.9 414.9h0M186.2 407.8h0M180.1 382.4h0M175.8 413.0h0M176.3 390.3h0M173.3 386.3h0M176.2 407.2h0M189.1 366.6h0M179.2 403.6h0M194.0 379.3h0M177.1 378.1h0M187.7 370.7h0M186.2 373.2h0M176.1 404.6h0M171.7 411.3h0M170.9 407.2h0M177.4 404.0h0M176.9 408.4h0M173.9 414.9h0M174.4 407.1h0M183.1 372.0h0M171.1 414.8h0M174.5 409.7h0M186.8 386.9h0M185.5 369.8h0M197.8 374.1h0M205.5 372.3h0M177.2 393.0h0M196.2 368.3h0M176.6 409.4h0M184.1 374.5h0M179.7 388.5h0M169.7 408.0h0M177.1 376.0h0M181.4 377.0h0M180.0 373.9h0M182.9 368.8h0M178.6 376.1h0M173.0 402.4h0M184.9 403.4h0M170.8 411.0h0M185.0 380.1h0M178.5 387.6h0M178.1 393.1h0M188.7 378.5h0M177.6 370.8h0M188.6 385.1h0M179.0 404.8h0M198.0 379.6h0M187.4 376.5h0M173.1 415.5h0M197.4 369.7h0M179.8 406.1h0M178.7 416.7h0M199.9 367.2h0M185.1 368.5h0M188.7 377.3h0M174.7 408.7h0M166.7 418.4h0M176.8 408.8h0M175.9 411.0h0M188.9 376.7h0M196.2 419.0h0M175.0 399.0h0M188.1 382.0h0M175.1 413.6h0M195.7 367.5h0M177.9 378.7h0M181.8 381.4h0M177.6 389.7h0M176.1 396.3h0M187.9 366.4h0M172.7 411.2h0M189.5 380.2h0M177.4 403.4h0M172.9 410.1h0M172.3 408.3h0M177.8 371.4h0M176.2 373.9h0M171.7 401.6h0M175.5 398.6h0M172.7 403.1h0M172.8 382.7h0M186.8 384.2h0M177.8 387.1h0M174.2 387.3h0M170.8 406.6h0M173.5 407.6h0M192.3 368.1h0M167.8 413.1h0M175.7 400.2h0M182.9 373.5h0M178.7 376.3h0M172.9 372.6h0M175.2 367.6h0M177.9 368.3h0M171.7 376.6h0M182.3 382.5h0M178.8 403.7h0M182.7 388.9h0M167.8 416.0h0M180.5 376.2h0M175.3 386.4h0M172.1 371.6h0M194.1 374.9h0M178.1 412.0h0M173.1 406.0h0M178.4 374.9h0M188.6 372.6h0M182.4 375.9h0M173.0 371.8h0M184.2 377.1h0M178.5 401.0h0M171.5 415.9h0M180.2 374.6h0M175.4 396.5h0M182.4 404.0h0M183.1 381.9h0M179.8 368.7h0M173.4 403.3h0M175.6 377.3h0M173.7 377.6h0M182.8 373.4h0M177.6 376.7h0M179.4 407.1h0M183.2 369.7h0M177.0 397.1h0M184.9 366.5h0M171.2 411.3h0M184.9 387.6h0M183.6 375.7h0M186.9 366.5h0M193.3 373.2h0M178.6 368.1h0M174.9 372.6h0M177.6 387.2h0M191.1 370.0h0M175.0 405.8h0M185.8 379.8h0M179.4 375.5h0M189.9 371.8h0M190.3 379.0h0M178.9 380.4h0M175.5 411.6h0M180.3 384.9h0M172.5 409.9h0M182.9 373.1h0M176.5 379.4h0M179.9 410.2h0M180.7 375.8h0M177.2 402.9h0M190.1 376.7h0M185.6 371.6h0M193.1 374.0h0M174.8 405.8h0M188.8 372.9h0M181.7 375.0h0M173.0 416.0h0M218.6 383.4h0M185.3 373.5h0M182.0 372.5h0M178.7 369.7h0M176.9 382.6h0M162.7 416.6h0M187.3 367.9h0M194.3 370.0h0M179.8 405.0h0M171.8 413.7h0M180.9 372.3h0M182.8 383.6h0M174.5 383.6h0M184.9 374.1h0M186.2 369.7h0M169.1 371.1h0M170.6 406.0h0M176.5 393.9h0M189.5 378.8h0M175.4 396.3h0M178.1 372.8h0M197.5 368.1h0M202.9 369.7h0M177.7 411.4h0M163.2 367.4h0M177.9 382.5h0M176.1 408.9h0M190.2 371.6h0M176.0 413.6h0M181.5 388.2h0M175.9 397.9h0M192.2 369.6h0M185.5 374.3h0M177.2 410.3h0M175.4 396.3h0M174.3 409.7h0M185.0 373.2h0M177.0 415.6h0M182.9 407.6h0M174.5 396.0h0M170.9 400.5h0M169.7 367.6h0M173.3 405.6h0M179.3 367.6h0M177.0 406.7h0M189.0 370.9h0M184.8 371.9h0M179.5 390.0h0M174.9 377.3h0M195.4 404.0h0M177.2 379.4h0M205.7 370.2h0M185.3 370.9h0M180.0 400.3h0M182.0 376.2h0M191.1 382.1h0M176.8 402.8h0M173.3 417.5h0M177.7 401.5h0M182.1 370.8h0M189.9 367.1h0" stroke="#000" stroke-opacity="0.22" stroke-width="0.8" stroke-linecap="round" fill="none"/>
<path d="M183.7 377.2h0M180.6 376.7h0M183.1 374.3h0M190.0 378.6h0M173.1 408.7h0M186.7 368.1h0M173.4 409.7h0M178.8 408.5h0M176.6 404.1h0M199.1 375.1h0M179.3 405.2h0M184.5 366.5h0M170.4 407.3h0M180.3 406.5h0M180.6 372.4h0M178.9 370.0h0M178.7 384.6h0M173.7 384.2h0M177.6 384.4h0M180.4 407.9h0M186.4 378.0h0M178.6 387.8h0M179.2 374.0h0M177.5 404.4h0M178.9 368.6h0M179.0 403.6h0M180.9 372.2h0M185.7 369.7h0M176.9 385.2h0M168.3 409.9h0M188.7 370.6h0M196.9 369.3h0M177.0 405.1h0M176.4 402.2h0M186.6 374.1h0M182.2 376.9h0M177.4 372.5h0M177.3 413.7h0M174.7 412.8h0M184.5 383.8h0M174.1 413.0h0M175.3 373.6h0M165.4 415.0h0M181.7 408.8h0M181.1 370.0h0M177.9 384.7h0M173.5 379.7h0M174.6 406.0h0M180.1 380.6h0M180.6 367.7h0M169.0 420.6h0M181.7 390.4h0M173.4 373.5h0M192.8 370.7h0M182.3 369.4h0M172.7 408.0h0M191.5 371.7h0M177.5 382.6h0M180.8 380.0h0M180.2 379.3h0M170.5 414.0h0M185.5 377.2h0M174.9 405.9h0M207.3 370.3h0M186.9 375.8h0M181.3 376.8h0M169.9 417.2h0M178.2 398.4h0M193.7 370.7h0M177.2 398.2h0M182.6 379.4h0M176.7 398.2h0M187.5 378.4h0M176.9 406.9h0M188.5 379.1h0M177.9 383.5h0M186.9 378.6h0M181.9 411.3h0M191.2 366.7h0M185.8 387.9h0M182.3 381.0h0M189.2 373.7h0M167.1 416.6h0M179.2 388.1h0M170.8 404.3h0M172.2 397.2h0M187.5 375.6h0M178.6 410.8h0M179.5 391.9h0M168.6 410.4h0M186.0 374.1h0M186.6 374.2h0M182.8 379.4h0M171.4 407.3h0M183.8 376.3h0M185.7 397.9h0M176.0 409.0h0M180.3 399.3h0M172.5 396.8h0M181.0 401.8h0M182.9 408.8h0M189.0 374.2h0M175.1 411.9h0M197.5 378.2h0M187.6 371.5h0M182.9 383.0h0M174.7 404.8h0M179.1 401.2h0M178.2 376.9h0M175.5 371.1h0M202.5 369.4h0M192.1 376.5h0M180.7 377.8h0M177.1 410.3h0M182.5 375.4h0M187.7 369.1h0M178.3 390.7h0M177.2 412.9h0M182.8 369.4h0M176.9 410.4h0M172.5 412.2h0M191.6 370.0h0M177.5 367.0h0M184.4 373.8h0M170.6 405.9h0M192.6 370.2h0M174.6 374.9h0M183.8 379.1h0M192.3 367.6h0M186.7 375.1h0M183.6 401.4h0M184.8 371.5h0M192.5 375.3h0M179.5 409.3h0M165.1 407.9h0M176.6 399.9h0M176.6 401.0h0M184.8 374.7h0M184.9 373.4h0M171.4 407.3h0M187.8 379.5h0M186.9 379.6h0M181.1 373.9h0M177.3 369.6h0M168.0 408.2h0M197.2 369.9h0M178.4 403.8h0M172.5 414.4h0M184.5 377.8h0M168.2 416.0h0M174.4 407.1h0M197.5 370.7h0M181.8 386.9h0M178.2 399.0h0M200.5 395.9h0M180.4 372.8h0M179.2 389.7h0M185.8 370.0h0M170.4 409.9h0M176.7 388.5h0M185.1 377.9h0M169.9 412.8h0M173.2 410.8h0M185.7 376.6h0M203.4 390.1h0M176.9 369.4h0M187.9 374.2h0M177.9 405.4h0M180.6 381.8h0M181.9 407.5h0M169.7 413.1h0M185.2 384.7h0M177.8 390.6h0M173.9 406.8h0M181.2 384.7h0M184.7 376.8h0M190.1 368.3h0M171.6 416.6h0M178.0 406.7h0M171.8 413.9h0M181.7 415.1h0M179.0 379.7h0M174.8 396.7h0M178.4 404.7h0M200.2 371.2h0M174.6 406.3h0M172.0 385.2h0M201.0 373.5h0M184.5 385.4h0M178.7 417.3h0M178.0 376.5h0M174.8 409.1h0M182.7 380.7h0M177.9 394.6h0M184.0 408.9h0M188.1 413.0h0M179.4 375.7h0M182.3 366.9h0M177.2 406.8h0M182.6 367.3h0M173.4 407.6h0M175.0 412.6h0M196.2 369.9h0M177.5 393.9h0M197.5 367.4h0M179.1 381.9h0M172.8 411.6h0M180.7 367.5h0M174.7 405.0h0M179.1 380.2h0M176.4 402.8h0M180.0 406.4h0M184.4 382.8h0M182.2 370.6h0M186.3 370.9h0M179.1 409.4h0M170.1 415.7h0M193.3 372.3h0M174.8 389.1h0M179.9 405.2h0M190.8 378.3h0M187.0 385.6h0M181.1 390.6h0M202.4 368.4h0M182.9 367.3h0M176.3 391.2h0M176.3 380.2h0M187.0 368.8h0M173.7 396.4h0M193.7 379.2h0M181.6 379.7h0M181.5 376.6h0M179.1 368.3h0M178.4 389.1h0M172.9 376.6h0M173.9 383.9h0M189.2 380.5h0M176.3 393.6h0M177.4 405.4h0M186.6 377.1h0M174.9 405.0h0M184.8 385.7h0M188.8 380.7h0M185.2 383.0h0M195.2 366.5h0M181.9 367.7h0M189.4 372.5h0M188.0 372.4h0M185.9 402.8h0M182.8 407.5h0M170.3 410.4h0M173.9 373.5h0M190.3 371.8h0M197.0 376.6h0M173.5 368.6h0M176.4 414.4h0M174.1 396.0h0M183.2 373.3h0M180.0 381.4h0M175.5 404.8h0M177.5 379.4h0M193.3 375.3h0M175.1 380.4h0M179.3 408.8h0M176.7 395.8h0M184.7 370.3h0M177.7 367.2h0M178.5 414.1h0M181.2 386.2h0M175.1 401.4h0M175.7 366.5h0M182.7 378.9h0M197.2 374.4h0M172.5 406.1h0M179.5 374.7h0M171.0 413.6h0M181.1 370.4h0M186.4 376.2h0M188.0 367.7h0M181.6 383.6h0M178.5 400.8h0M167.1 407.8h0M180.9 385.2h0M188.0 401.4h0M165.3 419.4h0M179.6 399.3h0M176.8 379.8h0M181.8 378.0h0M196.7 375.0h0M177.4 408.0h0M172.8 403.9h0M184.7 372.9h0M192.5 370.6h0M170.7 413.6h0M179.7 402.1h0M198.3 373.9h0M181.5 369.0h0M177.9 410.8h0M185.5 377.8h0M189.3 371.0h0M181.4 376.6h0M174.1 382.6h0M176.4 373.1h0M177.1 393.5h0M175.0 382.2h0M189.5 380.3h0M194.2 381.1h0M195.9 376.8h0M162.4 418.7h0M194.8 373.4h0M179.5 381.2h0M183.5 372.8h0M176.9 400.8h0M180.9 373.9h0M179.0 399.2h0M173.9 388.9h0M184.1 369.0h0M186.9 401.3h0M182.5 406.0h0M179.0 372.2h0M192.7 372.3h0M182.7 388.0h0M188.0 374.0h0M190.1 367.4h0M174.8 368.1h0M179.8 384.5h0M181.7 372.7h0M171.6 377.3h0M188.2 383.3h0M183.2 380.9h0M182.0 375.0h0M198.0 369.3h0M197.3 367.5h0M173.3 410.7h0M172.1 413.2h0M183.6 383.7h0M167.9 411.7h0M171.4 408.3h0M180.1 374.3h0M210.9 377.8h0M181.0 412.7h0M177.9 376.0h0M190.2 374.5h0M174.4 409.3h0M173.3 414.5h0M178.4 406.2h0M173.8 409.4h0M167.6 413.2h0" stroke="#000" stroke-opacity="0.22" stroke-width="0.8" stroke-linecap="round" fill="none"/>
<path d="M176.2 416.3h0M178.1 396.8h0M179.1 394.7h0M178.0 377.1h0M180.0 366.5h0M177.7 389.7h0M182.1 378.8h0M174.2 374.6h0M188.4 373.8h0M189.4 378.4h0M186.0 376.8h0M178.9 404.3h0M182.2 394.0h0M176.5 394.3h0M178.5 384.8h0M182.6 369.4h0M182.6 374.0h0M171.4 412.2h0M182.5 376.6h0M178.6 387.2h0M177.1 408.3h0M178.3 374.0h0M178.8 400.5h0M188.9 370.1h0M172.8 389.0h0M183.6 368.9h0M177.4 387.7h0M183.8 372.6h0M189.2 368.0h0M183.3 380.6h0M175.7 399.7h0M176.0 402.4h0M171.8 379.7h0M176.8 375.1h0M171.0 412.9h0M175.2 397.7h0M173.6 401.8h0M205.1 378.6h0M175.0 368.5h0M180.3 370.0h0M169.0 412.9h0M176.5 388.6h0M193.0 368.9h0M173.9 385.2h0M186.7 380.5h0M177.8 391.0h0M177.2 378.3h0M183.7 367.0h0M183.6 374.9h0M181.3 373.8h0M191.5 371.1h0M177.4 376.8h0M191.6 377.8h0M177.3 412.9h0M189.3 372.8h0M176.2 374.9h0M183.9 377.8h0M174.5 402.7h0M184.2 372.0h0M173.0 408.9h0M193.3 372.1h0M189.6 372.3h0M171.1 405.1h0M174.0 372.5h0M175.3 384.6h0M171.3 413.7h0M190.2 369.0h0M174.5 377.6h0M170.9 378.0h0M175.1 369.8h0M195.1 372.7h0M189.4 371.8h0M175.6 404.1h0M183.0 373.9h0M170.8 414.9h0M180.3 388.6h0M177.7 367.1h0M187.7 379.6h0M175.3 410.5h0M171.4 408.1h0M180.2 381.2h0M184.5 372.5h0M177.4 407.9h0M172.3 412.2h0M181.3 379.2h0M169.9 409.9h0M176.3 385.3h0M169.3 411.3h0M176.7 402.3h0M175.1 367.6h0M175.8 366.8h0M180.6 375.0h0M173.8 412.1h0M187.5 369.7h0M198.2 368.6h0M186.3 408.1h0M175.1 412.2h0M175.4 412.1h0M180.7 376.9h0M183.0 371.6h0M190.8 376.4h0M188.2 381.1h0M177.3 388.1h0M172.3 367.1h0M176.9 402.6h0M183.3 374.4h0M175.8 407.2h0M173.8 397.3h0M177.2 374.6h0M189.6 372.3h0M190.4 375.1h0M176.2 371.1h0M177.4 381.2h0M172.1 397.9h0M175.6 370.0h0M172.7 413.3h0M172.8 412.6h0M171.7 405.6h0M175.7 405.9h0M195.8 382.5h0M169.3 412.9h0M177.5 394.2h0M173.8 411.6h0M176.1 396.0h0M176.5 406.5h0M180.9 410.8h0M191.5 371.4h0M182.4 373.2h0M170.7 405.3h0M197.5 375.2h0M174.1 408.2h0M174.8 405.0h0M191.2 389.9h0M188.8 373.2h0M175.1 367.1h0M175.9 407.0h0M191.8 376.2h0M179.1 403.6h0M178.9 370.8h0M168.9 413.3h0M175.5 412.8h0M181.4 393.1h0M177.9 382.5h0M177.2 403.4h0M184.2 373.3h0M179.8 401.3h0M176.5 385.6h0M181.5 380.4h0M190.2 368.5h0M185.0 424.0h0M173.9 401.1h0M179.0 409.6h0M194.2 369.9h0M186.0 383.4h0M179.6 405.5h0M178.2 372.4h0M175.7 389.7h0M199.9 399.4h0M192.1 374.4h0M171.8 417.0h0M183.2 383.1h0M179.3 404.9h0M178.1 386.3h0M176.9 400.9h0M182.6 375.3h0M192.8 369.6h0M185.6 378.8h0M185.9 367.6h0M176.1 406.4h0M176.3 403.6h0M181.4 402.7h0M183.9 382.4h0M184.7 378.1h0M179.4 372.4h0M190.5 401.2h0M176.8 413.4h0M192.1 375.8h0M175.0 408.7h0M182.0 375.2h0M188.9 376.8h0M178.2 412.4h0M187.6 376.9h0M185.8 382.2h0M176.6 385.2h0M174.8 412.9h0M172.5 405.8h0M181.9 374.9h0M182.3 386.5h0M176.7 382.2h0M168.0 412.4h0M202.6 374.6h0M170.4 412.2h0M199.5 377.0h0M170.1 415.7h0M186.2 383.4h0M190.5 375.7h0M169.9 409.2h0M175.8 416.0h0M179.2 373.2h0M169.8 414.0h0M211.6 375.3h0M179.7 371.2h0M186.8 381.5h0M168.5 410.4h0M170.8 413.8h0M187.7 370.4h0M181.4 387.4h0M169.2 414.8h0M185.7 374.5h0M179.0 381.0h0M180.5 376.9h0M174.8 391.5h0M177.6 394.3h0M171.1 410.2h0M182.9 371.0h0M180.1 368.7h0M181.1 374.0h0M180.6 382.7h0M175.7 410.2h0M170.6 413.7h0M170.1 410.9h0M177.0 407.4h0M190.4 371.4h0M184.9 371.1h0M196.9 374.9h0M179.6 367.2h0M185.7 382.6h0M177.0 383.6h0M178.5 401.2h0M184.0 393.6h0M171.9 378.9h0M179.8 391.2h0M177.0 370.4h0M176.9 385.5h0M179.5 404.3h0M168.2 415.9h0M179.4 369.2h0M171.6 408.7h0M184.1 377.9h0M174.8 371.5h0M178.0 387.2h0M185.8 370.6h0M176.6 381.4h0M172.9 408.8h0M176.2 394.1h0M178.6 374.6h0M188.5 377.5h0M180.8 372.3h0M178.4 407.8h0M182.3 379.2h0M185.2 371.7h0M166.6 411.7h0M183.5 380.0h0M174.1 390.2h0M186.3 378.9h0M178.2 370.2h0M186.9 402.6h0M175.9 366.9h0M179.1 409.9h0M187.6 380.5h0M181.5 377.3h0M176.7 404.5h0M177.3 371.6h0M176.3 411.3h0M193.9 373.1h0M172.9 376.3h0M169.4 369.6h0M183.6 369.4h0M179.2 372.9h0M184.9 382.2h0M197.8 373.2h0M194.5 368.1h0M179.0 386.3h0M167.6 373.9h0M182.5 407.0h0M180.2 374.2h0M176.3 406.1h0M182.9 372.9h0M176.4 409.4h0M171.8 400.9h0M177.3 395.7h0M167.2 406.1h0M180.4 403.4h0M180.5 379.9h0M181.8 372.1h0M194.8 370.3h0M194.2 374.4h0M185.5 386.1h0M195.6 370.5h0M173.3 409.6h0M191.5 379.2h0M175.9 405.4h0M177.8 371.7h0M185.7 375.2h0M182.6 370.7h0M175.0 392.1h0M188.4 409.8h0M200.9 369.3h0M177.1 368.6h0M180.1 389.5h0M179.1 375.5h0M171.2 372.6h0M171.9 412.0h0M185.1 380.3h0M179.8 404.4h0M181.1 375.7h0M181.0 389.0h0M176.6 398.7h0M175.5 380.9h0M176.2 410.3h0M181.4 378.3h0M193.7 372.2h0M177.7 375.9h0M175.0 409.4h0M174.6 408.3h0M175.9 397.7h0M164.3 381.3h0M179.8 369.5h0M184.2 368.4h0M180.6 382.3h0M172.8 411.3h0M206.7 374.0h0M186.0 374.3h0M174.8 384.7h0M180.9 385.9h0M176.9 410.0h0M180.1 376.9h0M174.2 406.8h0M186.5 371.8h0M177.4 368.6h0M168.3 415.8h0M177.2 398.9h0M174.5 414.1h0M190.0 378.3h0M186.6 368.0h0M182.4 409.6h0M178.4 372.2h0M178.7 386.7h0M184.4 369.5h0M174.5 376.9h0M181.4 383.3h0M185.6 371.1h0M180.7 377.6h0M182.3 377.2h0M187.9 371.6h0M170.8 415.3h0M183.8 380.2h0M176.8 369.0h0M173.5 370.1h0M181.5 380.7h0M178.3 390.8h0M183.3 380.3h0M177.5 387.6h0M178.0 394.4h0M177.7 384.9h0M181.3 376.0h0M184.1 375.6h0M184.8 375.1h0M166.1 369.3h0M174.7 407.5h0M181.7 369.7h0M171.9 376.1h0M186.3 370.8h0M195.2 368.6h0M176.9 389.1h0M181.4 376.3h0" stroke="#000" stroke-opacity="0.22" stroke-width="0.8" stroke-linecap="round" fill="none"/>
</g>
<ellipse cx="257" cy="406.5" rx="8" ry="3.4" transform="rotate(-45 257 406.5)" fill="#000" fill-opacity="0.95" filter="url(#b11)"/>
<ellipse cx="264.5" cy="400" rx="5" ry="1.6" transform="rotate(-45 264.5 400)" fill="#000" fill-opacity="0.7" filter="url(#b9)"/>
<path d="M260.2 407.5h0M242.4 416.3h0M248.8 409.7h0M264.1 407.5h0M260.7 409.5h0M266.3 397.1h0M258.6 390.7h0M262.7 402.8h0M267.8 398.5h0M254.3 408.7h0M249.3 414.7h0M249.7 417.8h0M254.6 403.4h0M255.3 412.2h0M262.5 398.5h0M266.3 395.7h0M252.4 414.2h0M269.1 402.8h0M258.0 414.1h0M250.0 407.4h0M254.9 405.6h0M255.0 397.2h0M261.9 407.1h0M265.3 397.2h0M252.7 405.4h0M260.2 411.0h0M258.6 406.1h0M264.1 397.1h0M263.5 399.6h0M249.1 415.1h0M260.8 410.5h0M248.8 414.1h0M266.9 395.7h0M266.2 398.7h0M265.2 399.4h0M250.6 410.9h0M254.2 411.3h0M262.5 402.8h0M261.6 404.8h0M265.0 405.3h0M260.1 400.7h0M263.1 404.6h0M261.0 404.3h0M252.4 406.9h0M242.1 420.2h0M249.0 408.6h0M266.2 395.8h0M265.6 382.3h0M254.6 406.8h0M263.4 403.7h0M251.7 408.7h0M266.8 397.2h0M261.7 386.7h0M254.6 416.3h0M259.5 405.0h0M254.8 406.0h0M258.1 408.8h0M267.6 400.8h0M253.3 409.3h0M259.7 405.8h0M243.2 412.0h0M270.4 398.6h0M256.4 399.6h0M264.5 404.3h0M263.1 404.2h0M257.3 402.5h0M263.8 402.0h0M255.2 400.4h0M246.6 422.4h0M252.6 418.2h0M257.0 409.0h0M255.4 412.4h0M246.9 412.3h0M254.8 403.0h0M264.3 397.7h0M244.8 412.7h0M257.3 407.1h0M256.6 409.1h0M264.6 402.9h0M259.3 413.0h0M259.3 400.7h0M250.8 401.7h0M267.8 395.6h0M269.5 376.6h0M262.5 407.6h0M253.2 409.8h0M257.3 399.2h0M267.8 401.6h0M259.5 413.5h0M261.9 399.3h0M259.7 400.1h0M262.7 395.3h0M272.3 394.4h0M266.1 397.4h0M263.6 397.3h0M259.1 409.3h0M258.3 378.2h0M253.3 411.4h0M257.5 404.4h0M265.5 392.6h0M252.5 401.8h0M262.1 406.5h0M268.0 399.8h0M251.5 412.9h0M264.1 401.7h0M262.1 378.6h0M267.1 399.8h0M261.1 397.6h0M255.1 416.5h0M257.8 407.8h0M251.7 416.4h0M258.4 410.2h0M271.5 388.5h0M257.7 404.8h0M247.5 415.6h0M262.3 402.7h0M253.0 408.3h0M267.2 398.6h0M267.2 393.4h0M253.6 411.3h0M259.8 405.5h0M253.7 419.9h0M261.6 398.7h0M248.9 402.4h0M264.1 404.6h0M256.9 413.0h0M263.5 402.0h0M258.0 399.8h0M265.4 395.2h0M252.9 408.5h0M248.3 418.2h0M246.2 410.4h0M258.9 403.3h0M253.1 405.8h0M259.9 406.6h0M244.0 412.9h0M262.8 400.5h0M265.6 404.0h0M258.6 407.6h0M258.0 407.2h0M274.0 393.6h0M259.2 406.5h0M248.0 414.8h0M262.2 407.2h0M256.8 405.1h0M259.8 399.3h0M270.6 396.7h0M247.7 414.0h0M262.8 402.9h0M250.3 401.9h0M255.2 399.6h0M262.3 397.7h0M254.8 402.9h0M253.7 408.8h0M268.4 399.9h0M262.2 411.8h0M266.5 409.4h0M261.5 368.1h0M249.2 379.0h0M255.7 413.9h0M257.3 404.0h0M261.5 404.2h0M262.0 409.2h0M254.5 407.8h0M253.4 410.2h0M258.4 392.6h0M255.1 424.7h0M266.0 394.9h0M268.1 397.1h0M250.1 415.1h0M257.1 411.6h0M258.9 401.8h0M259.5 407.6h0M265.9 381.5h0M259.5 404.2h0M270.6 398.6h0M252.0 411.7h0M268.3 395.5h0M256.4 407.7h0" stroke="#000" stroke-opacity="0.22" stroke-width="0.8" stroke-linecap="round" fill="none"/>
<path d="M261.7 403.8h0M250.9 415.2h0M251.2 408.2h0M252.9 393.0h0M265.2 398.3h0M255.7 417.4h0M251.6 407.6h0M266.2 396.8h0M265.8 398.7h0M262.5 405.2h0M265.7 404.2h0M262.5 395.6h0M261.6 409.6h0M254.5 411.0h0M250.3 411.5h0M279.1 381.5h0M275.0 375.9h0M249.0 412.3h0M256.7 408.9h0M266.5 398.7h0M265.3 403.3h0M262.0 401.1h0M268.1 394.5h0M264.1 408.4h0M258.8 406.2h0M258.1 406.3h0M256.5 410.8h0M255.8 413.0h0M251.1 406.1h0M256.8 411.9h0M258.4 408.7h0M260.8 409.5h0M264.1 399.4h0M261.4 404.0h0M249.9 408.1h0M245.2 407.7h0M246.9 415.2h0M278.9 376.2h0M249.2 405.8h0M244.6 409.1h0M254.2 406.3h0M259.6 380.5h0M264.8 403.9h0M265.1 404.7h0M250.1 414.4h0M260.5 398.2h0M258.2 401.4h0M256.4 412.2h0M257.9 403.8h0M260.4 370.4h0M257.8 411.1h0M256.9 405.1h0M271.8 395.6h0M264.2 400.9h0M252.8 412.5h0M253.3 411.4h0M265.7 396.5h0M247.7 415.2h0M268.0 393.7h0M259.2 412.3h0M263.8 394.9h0M269.4 400.6h0M259.8 406.8h0M249.9 404.0h0M258.4 397.0h0M257.3 403.7h0M255.7 406.5h0M261.8 402.6h0M254.1 410.0h0M257.1 401.1h0M255.0 413.1h0M269.3 368.8h0M265.7 406.2h0M259.2 380.6h0M266.4 410.9h0M254.9 373.2h0M252.7 412.6h0M256.9 402.1h0M261.7 404.8h0M254.1 409.9h0M262.6 405.2h0M255.3 411.6h0M261.6 403.0h0M269.6 395.3h0M254.9 405.3h0M282.2 381.0h0M267.3 401.9h0M268.8 397.8h0M252.5 412.0h0M257.8 410.7h0M251.8 413.5h0M258.0 405.6h0M258.2 396.6h0M266.6 396.8h0M266.1 398.8h0M266.9 395.9h0M263.7 406.4h0M254.5 403.1h0M268.2 397.7h0M267.9 386.7h0M258.1 411.4h0M260.0 404.3h0M259.8 406.1h0M254.6 412.3h0M252.0 413.9h0M256.9 415.8h0M262.8 402.6h0M259.7 386.1h0M267.7 401.6h0M252.3 409.5h0M255.5 413.7h0M262.9 407.5h0M246.7 413.0h0M259.1 400.5h0M243.9 416.2h0M262.3 405.2h0M273.9 383.8h0M260.8 399.4h0M253.2 404.6h0M268.1 393.7h0M271.8 384.1h0M256.3 409.8h0M263.6 400.5h0M261.1 399.7h0M259.4 402.4h0M249.6 402.6h0M260.0 399.5h0M261.8 388.4h0M258.7 415.2h0M259.8 404.5h0M257.8 407.3h0M275.3 395.7h0M241.7 418.7h0M264.6 396.0h0M280.1 372.6h0M257.9 410.9h0M260.0 406.3h0M264.7 401.7h0M262.1 403.4h0M249.6 404.7h0M241.4 416.1h0M272.9 396.1h0M246.4 412.4h0M261.4 406.9h0M249.7 411.0h0M261.1 408.1h0M248.8 412.5h0M258.7 394.3h0M261.1 398.7h0M266.0 399.3h0M251.8 412.2h0M256.1 399.2h0M257.5 408.5h0M253.8 403.5h0M263.6 400.3h0M247.8 410.7h0M262.1 402.8h0M263.2 397.9h0M262.2 407.0h0M253.8 406.3h0M254.5 407.9h0M270.1 396.3h0M257.4 412.6h0M263.4 396.9h0M270.6 398.2h0M260.9 369.3h0M265.3 398.3h0M247.7 386.8h0M257.6 394.6h0M268.7 403.0h0M257.4 409.6h0M264.5 401.3h0M265.0 378.8h0M260.6 400.7h0M258.8 401.3h0M256.8 407.2h0M254.7 407.2h0" stroke="#000" stroke-opacity="0.22" stroke-width="0.8" stroke-linecap="round" fill="none"/>
<path d="M247.0 412.3h0M250.5 406.2h0M263.6 400.6h0M261.5 409.7h0M264.8 398.8h0M262.5 408.2h0M255.5 407.3h0M266.5 400.9h0M253.0 407.8h0M264.2 398.6h0M257.2 403.3h0M257.5 405.7h0M257.5 401.0h0M260.2 402.5h0M263.3 397.9h0M265.3 406.1h0M260.8 399.8h0M242.6 416.7h0M255.2 410.1h0M250.1 406.3h0M267.8 396.4h0M247.6 410.0h0M261.8 400.0h0M269.7 389.1h0M261.8 399.3h0M263.9 395.0h0M254.8 406.3h0M263.3 401.8h0M256.0 410.1h0M257.4 400.5h0M259.1 403.8h0M259.8 398.8h0M246.4 417.6h0M260.3 401.7h0M263.1 400.1h0M249.9 410.4h0M262.5 401.3h0M260.7 397.3h0M247.5 409.9h0M265.5 398.4h0M264.2 399.3h0M255.0 407.9h0M250.4 412.3h0M270.1 378.0h0M262.1 396.4h0M265.7 396.3h0M268.2 394.9h0M252.9 406.4h0M248.7 410.5h0M252.6 409.3h0M270.3 395.7h0M258.3 408.6h0M257.9 401.8h0M246.8 409.2h0M253.1 409.9h0M263.1 399.7h0M261.7 396.2h0M245.9 414.6h0M255.0 410.9h0M261.7 403.4h0M272.6 392.1h0M250.9 402.1h0M256.3 389.4h0M256.9 410.7h0M254.7 412.7h0M265.2 405.1h0M257.9 411.2h0M246.8 414.9h0M244.3 417.2h0M262.0 402.2h0M255.0 416.0h0M248.0 414.0h0M262.6 406.2h0M254.5 410.0h0M262.4 403.9h0M284.0 391.9h0M256.7 413.2h0M263.0 404.8h0M257.6 406.7h0M262.2 396.6h0M259.0 399.7h0M251.5 408.0h0M263.2 401.0h0M253.5 413.9h0M255.4 401.4h0M259.8 408.1h0M268.3 392.1h0M247.3 417.5h0M250.9 403.6h0M255.2 401.2h0M262.0 402.8h0M265.7 375.2h0M258.6 407.3h0M255.4 405.4h0M253.7 404.3h0M263.1 407.7h0M256.3 404.4h0M257.7 377.8h0M263.7 404.1h0M260.5 406.2h0M249.6 413.1h0M248.1 408.9h0M261.9 410.9h0M257.1 408.9h0M255.9 412.2h0M258.1 405.5h0M251.6 419.0h0M259.7 399.1h0M262.2 402.2h0M257.7 408.4h0M268.3 398.6h0M260.7 406.6h0M249.5 419.9h0M262.4 404.2h0M248.9 415.6h0M260.5 404.8h0M251.0 410.3h0M262.5 405.4h0M268.1 404.2h0M264.3 392.6h0M263.1 402.8h0M258.2 407.5h0M253.1 410.0h0M258.2 403.6h0M264.9 402.8h0M254.4 408.8h0M249.4 410.0h0M262.0 396.8h0M270.8 387.6h0M268.9 403.9h0M263.1 399.7h0M256.4 409.0h0M257.8 405.6h0M263.5 395.5h0M264.8 400.6h0M260.3 402.2h0M248.5 416.1h0M249.2 411.3h0M249.3 381.2h0M246.1 415.1h0M261.2 404.2h0M270.6 390.5h0M263.9 398.1h0M261.1 398.3h0M258.5 405.5h0M262.8 403.1h0M250.6 413.8h0M259.5 409.7h0M246.1 425.3h0M243.4 420.3h0M249.0 412.1h0M251.5 409.5h0M264.4 405.0h0M257.4 409.8h0M253.4 415.1h0M255.8 412.6h0M256.7 406.8h0M256.9 407.6h0M259.5 372.4h0M269.4 390.7h0M255.9 410.5h0M270.1 391.3h0M258.5 408.7h0M259.3 400.9h0M259.8 400.0h0M259.2 404.4h0M259.3 403.0h0M253.6 407.6h0M258.1 404.2h0M249.8 408.7h0M265.4 398.2h0M257.5 395.6h0M254.9 407.8h0M250.8 408.6h0M266.1 391.1h0M261.6 404.6h0M254.6 413.1h0M245.1 409.9h0M254.9 394.2h0" stroke="#000" stroke-opacity="0.22" stroke-width="0.8" stroke-linecap="round" fill="none"/>
<path d="M251.8 415.2h0M252.9 405.0h0M258.7 400.5h0M266.6 404.0h0M258.7 410.1h0M252.3 413.1h0M242.1 416.5h0M268.9 405.1h0M262.7 400.9h0M270.0 396.5h0M253.0 415.9h0M251.7 408.5h0M261.9 404.1h0M257.7 402.4h0M259.0 401.5h0M257.5 410.6h0M256.9 403.7h0M256.9 411.1h0M256.0 412.1h0M247.6 412.9h0M249.9 402.2h0M252.2 415.4h0M257.0 398.4h0M253.3 414.1h0M263.4 399.5h0M256.5 402.8h0M252.4 419.5h0M256.3 403.3h0M268.0 392.0h0M259.7 381.6h0M248.8 410.6h0M271.6 400.2h0M263.3 389.2h0M247.1 410.4h0M253.2 406.1h0M254.1 407.0h0M251.4 417.6h0M272.0 375.2h0M257.1 403.6h0M266.4 407.7h0M264.8 368.5h0M259.9 403.4h0M267.4 393.3h0M254.7 409.4h0M255.6 406.6h0M273.3 392.8h0M261.0 403.2h0M255.6 407.2h0M259.4 401.8h0M267.4 394.6h0M252.5 408.2h0M269.7 402.0h0M253.1 404.6h0M263.9 398.6h0M260.1 398.6h0M262.4 404.6h0M249.9 409.1h0M271.2 395.3h0M258.6 402.6h0M257.0 405.5h0M241.4 414.5h0M255.8 387.2h0M269.4 395.9h0M264.8 401.1h0M250.4 412.5h0M245.5 411.7h0M258.2 415.1h0M255.2 414.5h0M255.9 413.8h0M253.0 396.5h0M265.6 395.7h0M250.6 411.2h0M258.4 399.8h0M255.3 411.6h0M249.5 415.9h0M263.5 399.3h0M268.0 403.5h0M264.4 398.1h0M267.8 394.3h0M265.6 403.0h0M259.7 398.9h0M247.4 414.2h0M256.0 401.8h0M271.9 393.1h0M254.4 415.9h0M261.7 403.6h0M250.9 411.4h0M258.4 400.9h0M253.9 377.9h0M266.7 400.9h0M253.8 407.8h0M261.6 388.4h0M258.3 402.9h0M260.3 405.0h0M261.7 406.7h0M277.9 379.6h0M252.4 409.7h0M259.5 414.8h0M259.8 400.1h0M265.3 402.0h0M263.4 396.2h0M256.9 395.2h0M258.3 405.1h0M267.3 399.8h0M263.2 373.9h0M265.3 399.0h0M255.2 399.8h0M252.0 412.4h0M258.8 407.6h0M264.8 410.9h0M263.9 402.3h0M246.2 416.5h0M262.6 401.9h0M251.5 410.4h0M256.7 402.9h0M256.9 413.4h0M257.3 405.9h0M274.3 384.4h0M262.3 397.6h0M257.7 404.9h0M261.6 399.1h0M251.9 402.0h0M250.7 417.0h0M259.3 399.7h0M256.1 406.8h0M272.1 392.9h0M267.4 397.1h0M252.8 409.4h0M262.9 398.8h0M252.6 406.5h0M266.9 393.9h0M262.5 396.4h0M255.4 399.9h0M255.3 402.3h0M254.9 413.7h0M247.3 382.0h0M264.1 399.5h0M256.0 409.4h0M266.7 404.7h0M261.6 399.0h0M268.1 395.8h0M259.7 406.6h0M267.9 401.0h0M252.9 412.7h0M246.6 417.0h0M267.9 398.2h0M261.6 405.7h0M264.9 397.5h0M262.2 403.6h0M260.0 405.9h0M253.7 407.7h0M271.2 383.0h0M258.1 405.6h0M264.0 398.3h0M259.8 405.5h0M264.1 400.7h0M249.6 410.3h0M263.1 402.8h0M254.7 404.8h0M250.3 404.3h0M257.2 405.9h0M266.2 400.8h0M251.0 407.9h0M256.3 396.1h0M262.3 412.2h0M255.7 411.6h0M260.2 400.9h0M263.7 402.8h0M247.2 415.5h0M263.0 409.6h0M249.5 414.2h0M265.7 396.4h0M266.9 400.7h0M263.1 405.4h0M260.9 407.5h0M262.1 401.8h0M273.6 381.9h0M252.2 407.3h0" stroke="#000" stroke-opacity="0.22" stroke-width="0.8" stroke-linecap="round" fill="none"/>
<path d="M254.4 413.9h0M250.5 415.4h0M251.4 408.9h0M260.5 411.8h0M261.8 406.0h0M262.7 403.6h0M253.2 412.3h0M262.2 405.4h0M259.1 401.5h0M268.2 396.9h0M266.5 399.1h0M264.3 403.9h0M266.8 396.1h0M256.5 405.9h0M266.4 396.5h0M266.9 397.1h0M262.8 397.0h0M257.9 407.0h0M247.2 411.7h0M251.6 408.4h0M274.7 393.3h0M257.5 406.5h0M260.0 406.4h0M263.3 404.1h0M257.9 404.8h0M266.3 400.6h0M245.4 421.9h0M258.6 399.1h0M254.9 407.9h0M260.7 407.0h0M262.4 371.5h0M248.8 418.2h0M253.9 404.0h0M260.3 408.0h0M263.6 401.3h0M254.6 409.6h0M262.7 403.1h0M270.3 395.0h0M251.0 381.4h0M245.7 417.1h0M266.3 399.4h0M252.3 413.3h0M256.3 398.0h0M254.5 412.5h0M247.7 414.0h0M254.5 393.5h0M264.4 400.8h0M255.6 406.1h0M255.8 402.3h0M257.5 403.9h0M255.3 399.4h0M252.7 412.1h0M259.9 404.6h0M260.4 402.3h0M264.7 397.5h0M266.7 396.4h0M259.5 405.2h0M251.9 407.7h0M249.6 412.0h0M252.7 403.6h0M262.2 398.5h0M259.2 405.9h0M254.0 411.1h0M260.9 402.5h0M267.8 400.3h0M260.6 400.4h0M245.7 414.5h0M252.6 403.7h0M265.6 405.1h0M265.1 403.2h0M264.8 403.0h0M261.2 406.9h0M268.8 399.4h0M264.7 397.6h0M259.3 405.2h0M266.2 382.4h0M258.6 405.0h0M253.3 411.8h0M264.2 397.6h0M259.8 395.8h0M254.0 405.2h0M268.5 395.6h0M264.7 397.5h0M256.2 381.4h0M261.0 399.3h0M247.7 407.7h0M258.2 402.1h0M255.0 400.7h0M267.2 399.1h0M250.7 413.6h0M256.0 416.3h0M270.0 394.9h0M256.9 399.3h0M263.6 401.7h0M255.8 415.5h0M264.4 396.0h0M256.9 406.4h0M265.7 381.3h0M263.3 378.8h0M251.9 415.0h0M258.9 373.1h0M265.8 402.6h0M267.9 396.1h0M261.5 403.8h0M263.3 401.1h0M252.1 408.8h0M257.1 403.2h0M253.9 409.4h0M258.4 415.1h0M272.4 399.1h0M267.0 403.9h0M260.9 405.4h0M258.9 398.3h0M245.9 420.8h0M266.0 403.3h0M259.5 406.0h0M257.8 400.9h0M247.1 414.8h0M246.9 374.2h0M267.8 399.4h0M271.0 396.1h0M264.6 401.3h0M264.7 400.1h0M262.4 401.9h0M258.9 403.1h0M257.5 404.0h0M265.8 406.7h0M256.8 403.2h0M258.6 407.9h0M263.0 407.3h0M270.0 399.7h0M255.6 409.3h0M270.9 393.2h0M251.4 413.8h0M264.0 400.7h0M254.0 407.8h0M251.7 406.9h0M258.8 401.9h0M265.3 400.1h0M257.9 410.5h0M257.9 414.5h0M266.9 400.3h0M255.6 404.4h0M258.6 399.8h0M258.9 405.6h0M253.4 406.6h0M258.8 408.8h0M256.7 406.1h0M264.5 389.7h0M264.2 379.0h0M273.7 381.8h0M252.6 409.5h0M257.9 412.4h0M257.1 404.6h0M250.6 411.1h0M262.9 408.5h0M255.4 406.4h0M268.6 398.0h0M262.4 405.2h0M258.3 406.8h0M247.9 411.0h0M257.2 407.9h0M250.7 397.3h0M260.1 404.8h0M258.4 407.5h0M260.4 405.2h0M269.2 398.1h0M254.7 416.4h0M252.8 405.3h0M264.5 398.1h0M261.0 402.0h0M265.0 398.8h0M258.0 398.5h0M247.2 410.5h0M256.6 403.3h0M263.7 398.5h0M251.2 401.0h0M259.1 412.0h0M259.6 407.8h0" stroke="#000" stroke-opacity="0.22" stroke-width="0.8" stroke-linecap="round" fill="none"/>
<path d="M258.9 409.7h0M260.1 400.6h0M251.7 414.3h0M257.9 382.7h0M253.5 406.3h0M271.4 390.4h0M256.6 412.5h0M258.0 415.9h0M246.0 415.6h0M260.2 398.2h0M255.5 412.6h0M252.1 416.2h0M258.8 404.8h0M260.5 378.1h0M256.5 399.0h0M254.2 409.2h0M257.6 402.4h0M265.4 395.7h0M251.8 415.9h0M248.1 417.4h0M258.1 402.5h0M262.9 373.1h0M262.6 401.4h0M260.8 403.2h0M264.1 393.3h0M261.8 400.0h0M272.4 386.0h0M261.0 415.2h0M265.1 406.3h0M258.0 404.4h0M251.8 413.2h0M253.6 412.3h0M248.1 409.3h0M263.4 397.6h0M257.1 405.7h0M256.2 409.2h0M254.7 409.0h0M265.4 403.6h0M259.4 406.3h0M260.3 397.0h0M265.7 402.5h0M254.2 402.6h0M251.7 416.4h0M267.0 402.6h0M254.4 407.9h0M251.4 405.8h0M257.8 404.7h0M256.5 400.1h0M262.0 400.7h0M263.9 408.0h0M269.3 399.3h0M258.8 405.1h0M265.7 400.5h0M244.7 395.5h0M258.8 405.6h0M246.0 410.9h0M257.5 404.4h0M265.7 367.0h0M261.8 407.2h0M263.2 396.4h0M263.8 399.6h0M260.4 399.5h0M262.7 400.8h0M260.1 402.8h0M262.3 400.3h0M261.1 401.5h0M258.9 409.8h0M265.2 372.6h0M252.1 417.0h0M255.0 409.8h0M250.2 414.4h0M259.1 401.0h0M258.1 405.5h0M255.3 411.8h0M265.3 406.0h0M265.9 395.5h0M256.7 383.4h0M254.1 410.4h0M254.4 416.6h0M255.3 414.0h0M267.7 401.2h0M258.9 402.4h0M256.2 412.4h0M270.6 377.2h0M258.8 403.8h0M262.7 400.5h0M267.2 396.6h0M259.8 401.2h0M279.5 394.3h0M265.3 403.0h0M263.7 401.2h0M269.1 396.8h0M249.6 411.5h0M250.3 406.9h0M264.0 405.4h0M256.0 404.0h0M249.7 398.9h0M251.3 409.4h0M265.6 396.8h0M257.3 407.9h0M250.7 412.7h0M253.4 403.9h0M259.5 403.7h0M271.8 394.4h0M262.5 398.7h0M258.3 407.4h0M261.8 407.2h0M268.8 407.3h0M264.5 387.9h0M260.7 408.2h0M267.9 394.7h0M254.8 414.1h0M258.7 406.7h0M247.7 416.0h0M257.4 421.9h0M262.6 406.5h0M251.8 411.9h0M264.6 397.9h0M254.0 403.5h0M262.1 404.7h0M256.4 405.0h0M271.9 396.8h0M272.0 395.4h0M256.1 399.7h0M257.0 405.4h0M263.9 412.3h0M262.6 406.5h0M251.3 403.3h0M262.4 400.3h0M247.7 402.0h0M259.7 410.9h0M267.9 401.1h0M258.2 403.3h0M249.5 408.6h0M252.7 417.6h0M248.3 421.5h0M257.2 407.7h0M265.7 398.9h0M255.0 420.6h0M245.9 409.8h0M264.4 400.7h0M270.9 388.2h0M255.0 403.2h0M248.9 372.0h0M263.4 376.4h0M263.8 396.1h0M254.2 410.0h0M260.4 396.2h0M268.6 399.7h0M249.4 408.4h0M262.6 404.8h0M252.1 409.4h0M252.5 410.6h0M280.5 392.7h0M266.4 396.4h0M253.2 405.7h0M264.3 406.2h0M267.2 386.4h0M267.9 397.1h0M264.4 400.4h0M258.0 399.7h0M264.7 405.5h0M265.8 399.7h0M265.5 400.5h0M266.7 397.1h0M280.4 385.4h0M260.7 402.4h0M263.8 398.1h0M251.4 410.6h0M264.8 396.0h0M249.2 417.0h0M266.0 404.3h0M263.2 399.2h0M267.2 401.0h0M243.5 418.6h0M254.9 409.1h0M256.1 408.4h0" stroke="#000" stroke-opacity="0.22" stroke-width="0.8" stroke-linecap="round" fill="none"/>
<ellipse cx="338.5" cy="405.5" rx="6.5" ry="3.2" transform="rotate(-38 338.5 405.5)" fill="#000" fill-opacity="0.95" filter="url(#b11)"/>
<path d="M340.4 408.9h0M337.8 403.8h0M334.0 376.1h0M335.0 409.7h0M339.1 402.5h0M338.0 403.1h0M338.4 408.1h0M351.6 388.5h0M331.7 413.3h0M345.5 402.5h0M337.3 382.3h0M343.4 402.5h0M337.6 406.8h0M358.5 385.7h0M343.0 399.1h0M337.6 408.1h0M341.9 411.4h0M334.2 419.4h0M341.9 405.3h0M335.8 411.0h0M334.0 411.4h0M341.3 406.6h0M335.1 404.0h0M333.5 404.6h0M333.4 402.0h0M338.0 406.8h0M345.0 410.3h0M336.0 402.2h0M338.3 409.9h0M345.2 407.6h0M326.4 416.8h0M340.5 411.4h0M332.5 412.2h0M342.1 405.7h0M335.2 411.1h0M330.4 409.5h0M333.1 403.9h0M338.7 406.0h0M340.1 407.3h0M344.0 404.5h0M335.8 411.4h0M338.6 399.0h0M338.6 406.0h0M339.4 409.3h0M332.8 408.8h0M330.7 404.0h0M337.2 409.0h0M335.3 411.8h0M330.4 409.0h0M335.1 411.5h0M334.1 407.5h0M336.9 407.8h0M336.2 402.4h0M334.5 408.3h0M338.9 401.4h0M343.5 400.5h0M346.8 377.0h0M339.8 405.4h0M355.1 373.5h0M333.1 404.2h0M348.2 398.5h0M340.9 403.8h0M335.7 412.9h0M343.8 400.0h0M365.9 372.5h0M338.8 401.9h0M346.2 405.4h0M332.2 411.2h0M334.0 400.7h0M346.8 396.3h0M340.9 406.0h0M346.4 402.4h0M341.4 404.3h0M335.2 375.9h0M336.7 406.5h0M335.6 406.5h0M329.9 375.8h0M340.9 402.9h0M329.2 411.2h0M336.3 402.2h0M338.0 406.2h0M330.7 404.8h0M340.1 400.2h0M338.1 407.6h0M329.0 412.1h0M333.4 402.5h0M343.2 409.9h0M343.2 410.6h0M340.3 401.5h0M332.8 403.5h0M322.8 410.9h0M343.9 403.5h0M344.0 403.2h0M347.0 402.7h0M342.9 406.9h0M346.5 399.1h0M344.8 404.8h0M343.7 398.0h0M339.4 405.5h0M333.9 410.8h0M345.9 399.6h0M343.5 406.3h0M338.6 404.7h0M337.0 401.4h0M341.6 413.1h0M344.4 400.1h0M347.4 387.5h0M346.9 402.9h0M344.7 397.2h0M346.3 408.6h0M343.7 396.5h0M337.2 408.0h0M327.5 407.6h0M342.3 387.0h0M343.0 401.4h0M346.9 402.6h0M343.0 402.7h0M327.3 405.8h0M345.1 397.5h0M344.5 404.9h0M349.0 377.8h0M332.8 404.6h0M345.3 398.0h0M339.8 400.9h0M329.7 408.9h0M344.4 406.3h0M335.1 406.5h0M340.0 403.6h0M331.9 409.8h0M346.5 398.6h0M334.9 406.1h0M342.6 402.8h0M343.2 398.3h0M331.8 414.3h0M336.9 406.4h0M341.3 400.8h0" stroke="#000" stroke-opacity="0.22" stroke-width="0.8" stroke-linecap="round" fill="none"/>
<path d="M341.5 407.8h0M339.2 405.4h0M334.7 409.1h0M325.6 421.6h0M344.6 403.3h0M336.6 404.2h0M341.5 401.1h0M336.9 398.8h0M341.3 407.2h0M336.9 405.1h0M340.3 401.9h0M335.5 409.0h0M346.0 380.0h0M329.9 415.5h0M347.7 397.1h0M334.6 403.7h0M344.4 407.4h0M341.2 403.1h0M335.6 406.2h0M338.2 402.2h0M340.6 403.2h0M337.9 410.8h0M346.9 401.5h0M347.2 406.7h0M350.5 373.8h0M325.6 414.4h0M346.9 397.2h0M332.1 415.7h0M336.0 406.6h0M339.0 411.8h0M344.5 397.5h0M337.7 404.4h0M334.0 410.6h0M349.7 395.9h0M331.0 404.8h0M334.1 410.9h0M341.2 400.5h0M330.8 412.8h0M333.9 404.4h0M333.4 406.4h0M343.3 407.2h0M333.2 410.8h0M343.3 402.8h0M338.2 410.4h0M338.5 411.4h0M339.6 372.1h0M338.2 397.4h0M340.3 398.6h0M333.6 404.4h0M339.7 404.4h0M327.9 408.8h0M334.7 411.4h0M340.1 402.9h0M342.9 397.7h0M339.5 374.7h0M344.5 405.9h0M341.8 407.3h0M332.8 414.6h0M333.4 408.7h0M334.2 406.4h0M338.5 403.1h0M336.8 401.7h0M338.1 403.3h0M343.7 405.0h0M328.5 412.7h0M333.2 409.5h0M336.2 416.1h0M335.6 401.0h0M338.3 411.8h0M338.9 399.3h0M340.9 407.3h0M335.7 407.0h0M337.4 401.4h0M330.2 414.2h0M331.6 412.6h0M346.1 384.0h0M334.8 417.1h0M330.6 416.2h0M338.0 406.5h0M349.8 403.5h0M337.6 405.0h0M343.4 397.7h0M338.8 404.1h0M337.3 400.3h0M349.9 408.5h0M329.4 407.4h0M340.6 406.4h0M340.2 412.1h0M356.0 373.4h0M345.7 403.8h0M355.6 386.1h0M342.4 400.7h0M325.7 378.1h0M339.8 402.2h0M345.4 406.5h0M334.1 403.9h0M338.1 410.9h0M339.9 404.6h0M343.9 402.2h0M341.7 396.9h0M363.4 383.0h0M343.7 405.8h0M338.1 402.6h0M339.0 401.3h0M339.0 408.0h0M339.6 401.2h0M338.5 406.7h0M338.0 409.3h0M335.7 411.7h0M343.2 406.1h0M343.3 397.6h0M334.7 402.5h0M331.1 402.0h0M338.1 405.4h0M349.8 405.3h0M343.4 400.2h0M339.9 396.9h0M348.9 400.9h0M337.9 409.3h0M340.9 399.6h0M332.6 410.1h0M354.0 389.6h0M336.9 409.4h0M350.0 404.3h0M335.7 408.0h0M348.7 388.8h0M341.1 399.4h0M339.0 408.8h0M331.9 408.4h0M334.5 405.5h0M327.1 408.8h0M340.2 403.8h0M341.7 407.1h0M340.6 403.7h0M336.1 408.6h0M325.2 408.4h0M349.0 381.2h0" stroke="#000" stroke-opacity="0.22" stroke-width="0.8" stroke-linecap="round" fill="none"/>
<path d="M341.2 408.2h0M345.9 402.6h0M349.1 399.2h0M335.8 404.5h0M346.0 410.7h0M340.5 403.3h0M341.7 411.1h0M332.6 408.5h0M332.5 401.3h0M340.2 402.7h0M332.7 405.4h0M366.7 376.3h0M332.4 404.9h0M351.6 400.1h0M344.0 402.7h0M341.8 400.3h0M354.9 387.4h0M337.9 409.3h0M337.0 407.0h0M347.2 403.9h0M327.6 417.7h0M346.5 402.8h0M342.5 399.3h0M337.6 404.3h0M337.9 399.2h0M338.1 404.9h0M345.3 397.9h0M333.9 410.7h0M345.1 403.4h0M346.6 400.2h0M337.3 413.1h0M353.2 381.9h0M334.0 407.2h0M344.3 395.5h0M340.7 402.0h0M345.6 393.9h0M340.6 409.1h0M340.5 405.8h0M359.9 389.6h0M343.1 410.4h0M343.5 405.0h0M355.1 379.0h0M343.2 400.7h0M340.9 406.5h0M338.0 406.6h0M331.9 405.0h0M346.4 399.3h0M333.9 398.6h0M332.5 414.0h0M336.2 404.4h0M352.1 405.9h0M343.9 409.5h0M328.1 412.7h0M341.8 407.7h0M331.5 410.7h0M339.7 402.5h0M338.3 400.6h0M341.5 395.8h0M346.3 401.9h0M339.6 409.8h0M330.0 409.2h0M339.1 405.6h0M346.5 398.4h0M341.9 405.6h0M337.0 408.1h0M339.2 374.3h0M342.0 378.6h0M341.4 410.2h0M337.1 396.6h0M345.5 407.2h0M332.9 400.3h0M334.9 405.0h0M341.3 408.3h0M347.3 396.3h0M335.5 399.1h0M340.7 400.0h0M350.2 392.4h0M342.4 410.3h0M339.5 404.5h0M336.3 407.9h0M333.1 409.7h0M336.8 408.6h0M339.8 406.9h0M338.2 410.0h0M347.0 407.5h0M336.6 404.8h0M339.1 377.7h0M335.0 404.7h0M346.1 403.2h0M327.6 402.4h0M335.0 401.2h0M339.5 405.2h0M335.2 411.2h0M348.4 402.6h0M347.3 392.6h0M332.3 402.5h0M342.1 406.4h0M332.5 411.3h0M332.3 418.1h0M340.9 407.0h0M327.4 411.6h0M333.5 403.8h0M331.7 413.1h0M343.8 402.9h0M337.3 405.7h0M330.8 412.6h0M340.3 410.0h0M332.7 410.6h0M344.4 406.7h0M336.8 402.2h0M339.1 405.7h0M336.7 404.0h0M337.9 395.6h0M337.5 407.7h0M336.5 395.3h0M339.8 403.8h0M335.6 403.6h0M338.6 402.9h0M323.5 416.2h0M342.4 407.7h0M341.1 401.1h0M332.6 411.4h0M340.0 402.7h0M338.3 403.8h0M338.3 410.9h0M339.5 405.9h0M361.4 378.6h0M324.7 380.6h0M329.6 411.1h0M341.4 399.2h0M326.7 407.4h0M333.5 390.7h0M334.3 408.7h0M337.7 405.4h0M337.8 409.8h0M341.8 410.5h0M338.2 400.3h0" stroke="#000" stroke-opacity="0.22" stroke-width="0.8" stroke-linecap="round" fill="none"/>
<path d="M338.4 406.0h0M343.8 405.2h0M338.7 411.6h0M339.9 410.0h0M337.4 404.8h0M349.1 395.9h0M338.5 400.9h0M345.5 391.0h0M331.0 381.5h0M350.7 392.9h0M345.9 401.6h0M345.8 400.9h0M333.8 407.6h0M339.2 402.8h0M334.7 409.5h0M339.2 399.6h0M337.0 410.4h0M345.6 406.7h0M340.1 403.9h0M340.2 403.0h0M329.0 414.4h0M344.0 401.6h0M341.4 404.8h0M322.1 406.2h0M349.5 402.4h0M342.3 409.7h0M338.2 405.2h0M327.1 408.9h0M335.6 409.6h0M334.7 407.0h0M336.6 404.1h0M342.1 398.0h0M339.6 404.1h0M338.9 401.3h0M344.3 404.8h0M337.5 404.7h0M337.7 406.2h0M339.3 407.3h0M337.9 407.1h0M337.2 406.2h0M344.6 368.9h0M328.5 409.3h0M340.7 405.1h0M339.6 401.0h0M340.2 408.8h0M344.4 402.7h0M332.8 405.5h0M341.9 407.1h0M332.3 404.4h0M345.4 409.2h0M334.0 404.2h0M340.7 405.9h0M330.8 403.7h0M346.6 404.0h0M341.7 402.6h0M334.5 405.1h0M333.5 404.3h0M353.0 371.9h0M338.8 401.5h0M337.5 405.6h0M341.3 406.9h0M337.6 404.1h0M347.5 396.9h0M343.0 402.3h0M336.6 402.9h0M339.5 403.2h0M339.2 408.4h0M343.8 397.1h0M345.6 392.0h0M336.9 414.0h0M341.4 405.7h0M331.9 409.1h0M335.0 404.1h0M339.6 404.3h0M348.6 379.5h0M330.5 414.9h0M326.4 414.2h0M337.0 405.2h0M339.2 402.3h0M345.7 381.1h0M326.5 407.7h0M339.3 407.7h0M335.4 409.2h0M333.7 408.3h0M334.6 409.7h0M334.3 405.0h0M329.8 413.3h0M348.9 381.4h0M343.9 384.1h0M341.6 401.6h0M346.2 401.1h0M339.6 406.3h0M327.1 411.6h0M332.4 403.7h0M342.1 397.3h0M335.5 406.2h0M339.9 404.1h0M351.4 405.1h0M341.2 405.0h0M334.0 408.7h0M328.2 413.0h0M341.7 401.5h0M335.9 409.3h0M341.4 402.4h0M341.1 402.3h0M342.4 404.9h0M334.8 405.7h0M334.5 410.3h0M336.2 399.8h0M339.1 407.3h0M332.0 413.4h0M340.0 398.7h0M340.7 409.4h0M340.2 409.4h0M341.2 404.5h0M344.8 405.3h0M347.9 398.8h0M346.6 402.2h0M331.4 418.8h0M345.8 376.6h0M338.1 407.8h0M346.3 382.5h0M334.4 407.8h0M342.2 396.2h0M346.4 404.7h0M333.2 380.9h0M335.9 419.6h0M331.4 408.1h0M342.9 402.0h0M347.0 399.2h0M338.0 408.9h0M346.1 405.1h0M337.9 406.5h0M344.8 400.7h0M335.7 408.2h0M338.2 404.5h0M339.0 404.8h0" stroke="#000" stroke-opacity="0.22" stroke-width="0.8" stroke-linecap="round" fill="none"/>
<path d="M346.0 401.4h0M330.3 410.2h0M346.1 400.4h0M343.2 401.9h0M339.1 403.2h0M344.0 398.2h0M340.4 399.2h0M331.1 408.3h0M332.6 410.1h0M345.1 400.6h0M334.4 410.0h0M335.2 409.1h0M342.9 403.5h0M337.0 402.5h0M339.2 404.4h0M335.2 412.0h0M348.4 397.6h0M333.1 412.2h0M345.8 398.2h0M340.7 407.6h0M344.8 406.2h0M338.9 408.1h0M331.0 401.3h0M355.0 382.1h0M340.4 401.8h0M329.8 411.8h0M346.0 402.6h0M333.2 410.7h0M339.8 403.2h0M341.7 400.3h0M332.9 406.9h0M349.4 396.9h0M354.5 376.4h0M342.4 405.5h0M338.5 407.6h0M338.6 406.4h0M333.6 409.0h0M338.8 399.8h0M331.7 402.5h0M330.4 406.7h0M338.5 411.4h0M331.5 406.9h0M322.4 419.6h0M337.5 407.2h0M343.6 402.8h0M329.0 411.2h0M339.7 404.9h0M338.4 403.4h0M338.5 404.2h0M331.1 407.5h0M333.2 413.3h0M326.1 406.9h0M329.5 409.8h0M332.8 410.5h0M329.6 418.3h0M333.4 408.6h0M333.5 409.5h0M339.8 404.4h0M333.6 408.2h0M343.9 408.2h0M343.5 406.2h0M332.4 412.4h0M337.1 408.1h0M335.7 404.0h0M337.6 403.2h0M333.8 403.8h0M335.4 407.0h0M341.4 399.8h0M340.0 377.1h0M331.7 401.5h0M335.8 403.7h0M327.8 410.4h0M333.7 406.3h0M336.2 406.9h0M329.1 408.2h0M325.7 415.1h0M336.8 406.2h0M329.9 410.7h0M338.3 406.7h0M335.3 405.1h0M339.9 413.5h0M337.4 406.4h0M339.6 398.0h0M339.1 402.6h0M338.3 402.3h0M339.1 406.9h0M342.6 406.9h0M344.0 399.9h0M332.1 411.6h0M337.4 402.8h0M340.0 409.5h0M330.1 410.4h0M333.5 407.6h0M334.5 410.5h0M336.9 380.6h0M335.2 400.4h0M339.9 399.9h0M345.8 404.2h0M335.1 405.5h0M330.4 411.6h0M342.0 400.6h0M349.1 401.0h0M340.3 406.6h0M344.0 405.2h0M347.7 410.1h0M337.4 415.1h0M341.0 411.4h0M354.9 369.6h0M339.7 404.3h0M341.5 404.7h0M327.3 407.3h0M343.3 403.5h0M338.1 369.3h0M340.8 408.4h0M331.0 412.2h0M347.1 400.6h0M342.4 407.1h0M339.0 410.3h0M327.7 405.9h0M342.1 404.7h0M332.9 404.0h0M343.6 395.2h0M340.7 409.8h0M346.0 411.5h0M338.3 409.4h0M352.8 379.7h0M329.8 409.1h0M340.1 404.7h0M331.7 411.8h0M330.3 411.6h0M334.8 403.5h0M333.5 411.5h0M349.4 402.2h0M334.1 403.6h0M338.7 399.0h0" stroke="#000" stroke-opacity="0.22" stroke-width="0.8" stroke-linecap="round" fill="none"/>
<path d="M338.9 366.5h0M339.9 400.1h0M341.9 401.4h0M338.8 407.6h0M347.1 375.4h0M340.5 390.8h0M328.7 417.6h0M344.6 406.5h0M339.8 406.0h0M340.8 398.8h0M338.8 412.0h0M329.4 410.6h0M341.4 409.0h0M341.3 402.0h0M343.4 401.1h0M336.1 403.1h0M333.2 419.7h0M329.1 414.0h0M332.6 403.0h0M328.8 414.6h0M340.7 396.1h0M341.6 408.3h0M329.3 410.3h0M334.6 408.0h0M327.8 404.6h0M338.1 406.1h0M345.7 369.2h0M338.4 409.0h0M348.9 396.1h0M325.3 413.2h0M339.5 378.1h0M338.2 398.6h0M340.0 406.6h0M336.4 404.4h0M342.8 398.9h0M338.9 402.2h0M329.8 415.0h0M343.6 402.4h0M347.9 398.1h0M338.1 405.2h0M335.1 406.5h0M346.3 404.6h0M335.3 407.1h0M335.9 414.0h0M343.0 400.3h0M338.5 406.2h0M338.6 405.9h0M330.7 416.1h0M345.9 399.4h0M339.0 402.8h0M341.9 400.6h0M345.4 397.0h0M354.2 377.1h0M344.2 400.0h0M348.3 399.3h0M335.4 410.4h0M345.1 403.2h0M346.8 405.3h0M341.9 408.7h0M350.3 403.3h0M345.2 399.7h0M344.9 396.9h0M342.1 408.0h0M338.1 375.1h0M343.3 404.9h0M335.3 404.1h0M337.1 407.7h0M368.0 378.1h0M338.3 403.3h0M343.0 401.9h0M342.2 403.5h0M336.0 407.3h0M335.2 403.7h0M350.6 404.6h0M336.0 407.9h0M339.2 401.6h0M336.9 377.1h0M336.8 409.8h0M345.7 403.5h0M334.7 405.1h0M342.7 406.0h0M340.4 403.9h0M350.0 394.8h0M352.4 380.8h0M331.4 400.9h0M346.4 400.1h0M346.9 393.4h0M342.3 405.8h0M335.6 409.9h0M342.7 407.5h0M340.4 408.3h0M345.1 397.7h0M343.2 407.2h0M344.5 400.6h0M342.2 408.0h0M344.0 409.6h0M328.1 377.7h0M337.1 403.8h0M339.1 406.9h0M346.8 401.1h0M343.9 406.1h0M346.2 395.7h0M350.1 398.5h0M337.1 410.6h0M341.2 402.6h0M347.6 376.0h0M346.8 381.9h0M343.0 410.8h0M344.4 408.0h0M334.7 414.2h0M338.0 404.5h0M340.7 403.7h0M342.2 395.8h0M335.8 408.4h0M337.3 405.1h0M338.3 407.6h0M346.9 402.1h0M346.7 384.1h0M335.0 404.7h0M335.9 405.0h0M338.3 385.9h0M341.6 403.6h0M330.6 407.2h0M340.0 407.4h0M337.6 412.8h0M342.3 397.4h0M336.3 407.5h0M338.5 403.8h0M333.2 409.4h0M344.4 403.1h0M333.4 402.7h0M339.1 401.4h0M332.2 410.7h0M335.4 411.2h0M343.8 403.9h0" stroke="#000" stroke-opacity="0.22" stroke-width="0.8" stroke-linecap="round" fill="none"/>
<line x1="57.7" y1="493.8" x2="57.7" y2="569.4" stroke="#111" stroke-width="1.45" />
<line x1="55.2" y1="496.8" x2="57.7" y2="496.8" stroke="#111" stroke-width="1.45" />
<text x="52.0" y="499.5" font-size="7.9" text-anchor="end" >1000000</text>
<line x1="55.2" y1="514.8" x2="57.7" y2="514.8" stroke="#111" stroke-width="1.45" />
<text x="52.0" y="517.5" font-size="7.9" text-anchor="end" >100000</text>
<line x1="55.2" y1="532.8" x2="57.7" y2="532.8" stroke="#111" stroke-width="1.45" />
<text x="52.0" y="535.5" font-size="7.9" text-anchor="end" >10000</text>
<line x1="55.2" y1="550.8" x2="57.7" y2="550.8" stroke="#111" stroke-width="1.45" />
<text x="52.0" y="553.5" font-size="7.9" text-anchor="end" >1000</text>
<line x1="55.2" y1="568.8" x2="57.7" y2="568.8" stroke="#111" stroke-width="1.45" />
<text x="52.0" y="571.5" font-size="7.9" text-anchor="end" >100</text>
<path d="M56.5 563.4h1.2M56.5 560.2h1.2M56.5 558.0h1.2M56.5 556.2h1.2M56.5 554.8h1.2M56.5 553.6h1.2M56.5 552.5h1.2M56.5 551.6h1.2M56.5 545.4h1.2M56.5 542.2h1.2M56.5 540.0h1.2M56.5 538.2h1.2M56.5 536.8h1.2M56.5 535.6h1.2M56.5 534.5h1.2M56.5 533.6h1.2M56.5 527.4h1.2M56.5 524.2h1.2M56.5 522.0h1.2M56.5 520.2h1.2M56.5 518.8h1.2M56.5 517.6h1.2M56.5 516.5h1.2M56.5 515.6h1.2M56.5 509.4h1.2M56.5 506.2h1.2M56.5 504.0h1.2M56.5 502.2h1.2M56.5 500.8h1.2M56.5 499.6h1.2M56.5 498.5h1.2M56.5 497.6h1.2" stroke="#111" stroke-width="0.8"/>
<line x1="57.0" y1="568.8" x2="131.8" y2="568.8" stroke="#111" stroke-width="1.45" />
<line x1="57.7" y1="568.8" x2="57.7" y2="571.3" stroke="#111" stroke-width="1.45" />
<line x1="81.6" y1="568.8" x2="81.6" y2="571.3" stroke="#111" stroke-width="1.45" />
<line x1="105.5" y1="568.8" x2="105.5" y2="571.3" stroke="#111" stroke-width="1.45" />
<line x1="129.4" y1="568.8" x2="129.4" y2="571.3" stroke="#111" stroke-width="1.45" />
<text x="57.7" y="582.0" font-size="7.6" text-anchor="middle" >0</text>
<text x="81.6" y="582.0" font-size="7.6" text-anchor="middle" >24</text>
<text x="105.5" y="582.0" font-size="7.6" text-anchor="middle" >48</text>
<text x="129.4" y="582.0" font-size="7.6" text-anchor="middle" >72</text>
<text x="59.5" y="596.2" font-size="10.6" textLength="72" lengthAdjust="spacingAndGlyphs" >Hours of coculture</text>
<text x="14.6" y="575.5" font-size="10.0" textLength="88.5" lengthAdjust="spacingAndGlyphs" transform="rotate(-90 14.6 575.5)" >Viable tumor cells/ well</text>
<polyline points="57.7,525.8 81.6,545.0 129.4,556.5" fill="none" stroke="#7cb763" stroke-width="1.75" stroke-linejoin="round"/>
<circle cx="57.7" cy="525.8" r="1.5" fill="#7cb763"/>
<circle cx="81.6" cy="545.0" r="1.5" fill="#7cb763"/>
<circle cx="129.4" cy="556.5" r="1.5" fill="#7cb763"/>
<polyline points="57.7,525.8 81.6,541.5 129.4,554.9" fill="none" stroke="#223d6b" stroke-width="1.75" stroke-linejoin="round"/>
<circle cx="57.7" cy="525.8" r="1.5" fill="#223d6b"/>
<circle cx="81.6" cy="541.5" r="1.5" fill="#223d6b"/>
<circle cx="129.4" cy="554.9" r="1.5" fill="#223d6b"/>
<polyline points="57.7,525.8 81.6,543.3 129.4,558.4" fill="none" stroke="#223d6b" stroke-width="1.75" stroke-linejoin="round"/>
<circle cx="57.7" cy="525.8" r="1.5" fill="#223d6b"/>
<circle cx="81.6" cy="543.3" r="1.5" fill="#223d6b"/>
<circle cx="129.4" cy="558.4" r="1.5" fill="#223d6b"/>
<polyline points="57.7,525.8 81.6,547.6 129.4,563.0" fill="none" stroke="#223d6b" stroke-width="1.75" stroke-linejoin="round"/>
<circle cx="57.7" cy="525.8" r="1.5" fill="#223d6b"/>
<circle cx="81.6" cy="547.6" r="1.5" fill="#223d6b"/>
<circle cx="129.4" cy="563.0" r="1.5" fill="#223d6b"/>
<polyline points="57.7,525.8 81.6,523.1 129.4,511.7" fill="none" stroke="#a3192f" stroke-width="1.75" stroke-linejoin="round"/>
<circle cx="57.7" cy="525.8" r="1.5" fill="#a3192f"/>
<circle cx="81.6" cy="523.1" r="1.5" fill="#a3192f"/>
<circle cx="129.4" cy="511.7" r="1.5" fill="#a3192f"/>
<polyline points="57.7,525.8 81.6,527.0 129.4,515.4" fill="none" stroke="#a3192f" stroke-width="1.75" stroke-linejoin="round"/>
<circle cx="57.7" cy="525.8" r="1.5" fill="#a3192f"/>
<circle cx="81.6" cy="527.0" r="1.5" fill="#a3192f"/>
<circle cx="129.4" cy="515.4" r="1.5" fill="#a3192f"/>
<polyline points="57.7,525.8 81.6,525.0 129.4,515.6" fill="none" stroke="#a3192f" stroke-width="1.75" stroke-linejoin="round"/>
<circle cx="57.7" cy="525.8" r="1.5" fill="#a3192f"/>
<circle cx="81.6" cy="525.0" r="1.5" fill="#a3192f"/>
<circle cx="129.4" cy="515.6" r="1.5" fill="#a3192f"/>
<line x1="141.5" y1="521.3" x2="149.3" y2="521.3" stroke="#a3192f" stroke-width="1.5" />
<circle cx="145.4" cy="521.3" r="1.4" fill="#a3192f"/>
<text x="152.8" y="524.2" font-size="8.2" textLength="29.6" lengthAdjust="spacingAndGlyphs" >Ctrl CAR</text>
<line x1="141.5" y1="531.0" x2="149.3" y2="531.0" stroke="#223d6b" stroke-width="1.5" />
<circle cx="145.4" cy="531.0" r="1.4" fill="#223d6b"/>
<text x="152.8" y="533.9" font-size="8.2" textLength="51.3" lengthAdjust="spacingAndGlyphs" >Ctrl CD19 CAR</text>
<line x1="141.5" y1="540.6" x2="149.3" y2="540.6" stroke="#7cb763" stroke-width="1.5" />
<circle cx="145.4" cy="540.6" r="1.4" fill="#7cb763"/>
<text x="152.8" y="543.5" font-size="8.2" textLength="62" lengthAdjust="spacingAndGlyphs" >CD7<tspan dy="-3" font-size="5.5">KO</tspan><tspan dy="3"> CD19 CAR</tspan></text>
<line x1="293.0" y1="504.8" x2="293.0" y2="569.1" stroke="#111" stroke-width="1.45" />
<line x1="290.5" y1="505.4" x2="293.0" y2="505.4" stroke="#111" stroke-width="1.45" />
<text x="287.3" y="508.1" font-size="7.9" text-anchor="end" >80000</text>
<line x1="290.5" y1="521.2" x2="293.0" y2="521.2" stroke="#111" stroke-width="1.45" />
<text x="287.3" y="523.9" font-size="7.9" text-anchor="end" >60000</text>
<line x1="290.5" y1="537.0" x2="293.0" y2="537.0" stroke="#111" stroke-width="1.45" />
<text x="287.3" y="539.7" font-size="7.9" text-anchor="end" >40000</text>
<line x1="290.5" y1="552.7" x2="293.0" y2="552.7" stroke="#111" stroke-width="1.45" />
<text x="287.3" y="555.4" font-size="7.9" text-anchor="end" >20000</text>
<line x1="290.5" y1="568.5" x2="293.0" y2="568.5" stroke="#111" stroke-width="1.45" />
<text x="287.3" y="571.2" font-size="7.9" text-anchor="end" >0</text>
<line x1="292.3" y1="568.5" x2="384.6" y2="568.5" stroke="#111" stroke-width="1.45" />
<line x1="308.3" y1="568.5" x2="308.3" y2="571.0" stroke="#111" stroke-width="1.45" />
<line x1="339.0" y1="568.5" x2="339.0" y2="571.0" stroke="#111" stroke-width="1.45" />
<line x1="369.7" y1="568.5" x2="369.7" y2="571.0" stroke="#111" stroke-width="1.45" />
<rect x="298.00" y="548.15" width="20.40" height="20.35" fill="#d68c7e" />
<circle cx="308.2" cy="539.3" r="1.62" fill="#8e1a2c"/>
<circle cx="308.2" cy="543.8" r="1.62" fill="#8e1a2c"/>
<circle cx="308.2" cy="560.0" r="1.62" fill="#8e1a2c"/>
<rect x="328.80" y="518.57" width="20.40" height="49.93" fill="#8c96be" />
<circle cx="339.0" cy="511.6" r="1.62" fill="#1f3566"/>
<circle cx="336.0" cy="522.3" r="1.62" fill="#1f3566"/>
<circle cx="341.0" cy="519.6" r="1.62" fill="#1f3566"/>
<rect x="360.10" y="526.14" width="20.40" height="42.36" fill="#b4d298" />
<path d="M368.4 525.0L370.3 521.7L372.2 525.0z" fill="#6fa54c"/>
<path d="M366.1 527.8L368.0 524.4L369.9 527.8z" fill="#6fa54c"/>
<path d="M370.9 527.8L372.8 524.4L374.7 527.8z" fill="#6fa54c"/>
<line x1="307.2" y1="491.6" x2="370.7" y2="491.6" stroke="#111" stroke-width="1.2" />
<text x="339.0" y="492.3" font-size="8" text-anchor="middle" >*</text>
<line x1="306.0" y1="500.5" x2="338.0" y2="500.5" stroke="#111" stroke-width="1.2" />
<text x="322.5" y="501.2" font-size="8" text-anchor="middle" >**</text>
<line x1="339.6" y1="507.5" x2="369.6" y2="507.5" stroke="#111" stroke-width="1.2" />
<text x="354.2" y="505.0" font-size="7.4" text-anchor="middle" >ns</text>
<text x="257.7" y="536.2" font-size="10" text-anchor="middle" textLength="66" lengthAdjust="spacingAndGlyphs" transform="rotate(-90 257.7 536.2)" >CAR T cells / well</text>
<text x="304.2" y="589.5" font-size="8.4" text-anchor="middle" transform="rotate(-45 304.2 589.5)" >Ctrl CAR</text>
<text x="331.0" y="585.0" font-size="8.4" text-anchor="middle" transform="rotate(-45 331.0 585.0)" >Ctrl</text>
<text x="337.5" y="591.8" font-size="8.4" text-anchor="middle" transform="rotate(-45 337.5 591.8)" >CD19 CAR</text>
<text x="358.8" y="585.0" font-size="8.4" text-anchor="middle" transform="rotate(-45 358.8 585.0)" >CD7<tspan dy="-3" font-size="5.6">KO</tspan></text>
<text x="368.0" y="593.0" font-size="8.4" text-anchor="middle" transform="rotate(-45 368.0 593.0)" >CD19 CAR</text>
</svg></body></html>
